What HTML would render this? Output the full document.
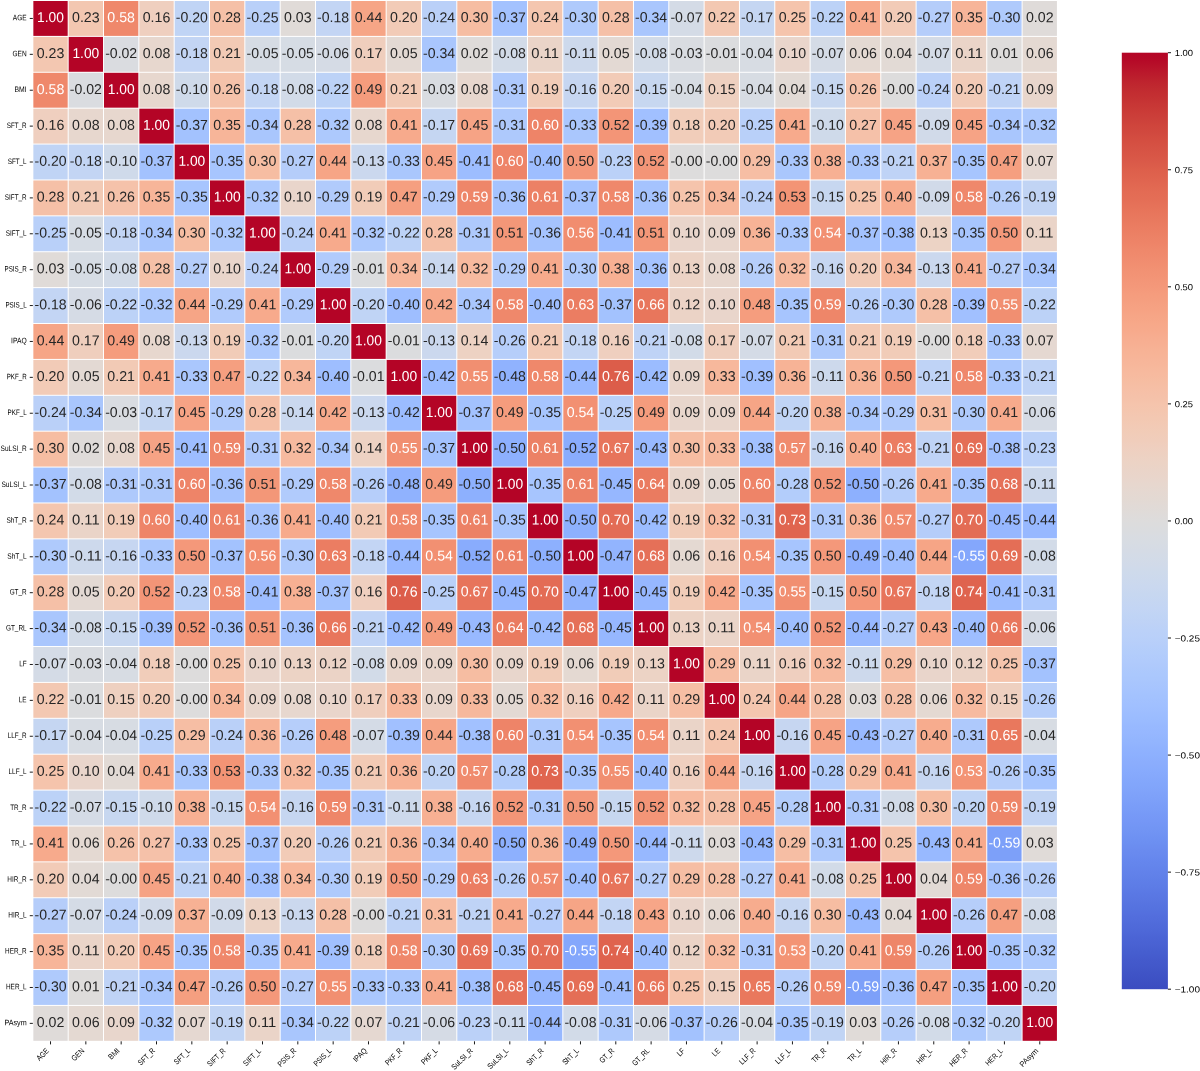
<!DOCTYPE html>
<html><head><meta charset="utf-8"><title>Correlation heatmap</title>
<style>html,body{margin:0;padding:0;background:#fff;}body{width:1200px;height:1071px;overflow:hidden;font-family:"Liberation Sans",sans-serif;}svg{display:block;}#wrap{will-change:transform;width:1200px;height:1071px;}</style>
</head><body><div id="wrap">
<svg width="1200" height="1071" viewBox="0 0 1200 1071">
<g shape-rendering="auto">
<rect x="33.35" y="1.00" width="34.33" height="34.89" fill="#b40426"/>
<rect x="68.68" y="1.00" width="34.33" height="34.89" fill="#f3c7b1"/>
<rect x="104.01" y="1.00" width="34.33" height="34.89" fill="#ef886b"/>
<rect x="139.34" y="1.00" width="34.33" height="34.89" fill="#efcfbf"/>
<rect x="174.67" y="1.00" width="34.33" height="34.89" fill="#c0d4f5"/>
<rect x="210.00" y="1.00" width="34.33" height="34.89" fill="#f5c0a7"/>
<rect x="245.33" y="1.00" width="34.33" height="34.89" fill="#b9d0f9"/>
<rect x="280.66" y="1.00" width="34.33" height="34.89" fill="#e0dbd8"/>
<rect x="315.99" y="1.00" width="34.33" height="34.89" fill="#c3d5f4"/>
<rect x="351.32" y="1.00" width="34.33" height="34.89" fill="#f6a586"/>
<rect x="386.65" y="1.00" width="34.33" height="34.89" fill="#f2cbb7"/>
<rect x="421.98" y="1.00" width="34.33" height="34.89" fill="#bad0f8"/>
<rect x="457.31" y="1.00" width="34.33" height="34.89" fill="#f6bda2"/>
<rect x="492.64" y="1.00" width="34.33" height="34.89" fill="#a3c2fe"/>
<rect x="527.97" y="1.00" width="34.33" height="34.89" fill="#f4c6af"/>
<rect x="563.30" y="1.00" width="34.33" height="34.89" fill="#afcafc"/>
<rect x="598.63" y="1.00" width="34.33" height="34.89" fill="#f5c0a7"/>
<rect x="633.96" y="1.00" width="34.33" height="34.89" fill="#a9c6fd"/>
<rect x="669.29" y="1.00" width="34.33" height="34.89" fill="#d4dbe6"/>
<rect x="704.62" y="1.00" width="34.33" height="34.89" fill="#f3c8b2"/>
<rect x="739.95" y="1.00" width="34.33" height="34.89" fill="#c5d6f2"/>
<rect x="775.28" y="1.00" width="34.33" height="34.89" fill="#f5c4ac"/>
<rect x="810.61" y="1.00" width="34.33" height="34.89" fill="#bcd2f7"/>
<rect x="845.94" y="1.00" width="34.33" height="34.89" fill="#f7aa8c"/>
<rect x="881.27" y="1.00" width="34.33" height="34.89" fill="#f2cbb7"/>
<rect x="916.60" y="1.00" width="34.33" height="34.89" fill="#b5cdfa"/>
<rect x="951.93" y="1.00" width="34.33" height="34.89" fill="#f7b599"/>
<rect x="987.26" y="1.00" width="34.33" height="34.89" fill="#afcafc"/>
<rect x="1022.59" y="1.00" width="34.33" height="34.89" fill="#dfdbd9"/>
<rect x="33.35" y="36.89" width="34.33" height="34.89" fill="#f3c7b1"/>
<rect x="68.68" y="36.89" width="34.33" height="34.89" fill="#b40426"/>
<rect x="104.01" y="36.89" width="34.33" height="34.89" fill="#dadce0"/>
<rect x="139.34" y="36.89" width="34.33" height="34.89" fill="#e7d7ce"/>
<rect x="174.67" y="36.89" width="34.33" height="34.89" fill="#c3d5f4"/>
<rect x="210.00" y="36.89" width="34.33" height="34.89" fill="#f2cab5"/>
<rect x="245.33" y="36.89" width="34.33" height="34.89" fill="#d6dce4"/>
<rect x="280.66" y="36.89" width="34.33" height="34.89" fill="#d6dce4"/>
<rect x="315.99" y="36.89" width="34.33" height="34.89" fill="#d5dbe5"/>
<rect x="351.32" y="36.89" width="34.33" height="34.89" fill="#efcebd"/>
<rect x="386.65" y="36.89" width="34.33" height="34.89" fill="#e3d9d3"/>
<rect x="421.98" y="36.89" width="34.33" height="34.89" fill="#a9c6fd"/>
<rect x="457.31" y="36.89" width="34.33" height="34.89" fill="#dfdbd9"/>
<rect x="492.64" y="36.89" width="34.33" height="34.89" fill="#d2dbe8"/>
<rect x="527.97" y="36.89" width="34.33" height="34.89" fill="#ead4c8"/>
<rect x="563.30" y="36.89" width="34.33" height="34.89" fill="#cdd9ec"/>
<rect x="598.63" y="36.89" width="34.33" height="34.89" fill="#e3d9d3"/>
<rect x="633.96" y="36.89" width="34.33" height="34.89" fill="#d2dbe8"/>
<rect x="669.29" y="36.89" width="34.33" height="34.89" fill="#d9dce1"/>
<rect x="704.62" y="36.89" width="34.33" height="34.89" fill="#dbdcde"/>
<rect x="739.95" y="36.89" width="34.33" height="34.89" fill="#d7dce3"/>
<rect x="775.28" y="36.89" width="34.33" height="34.89" fill="#e9d5cb"/>
<rect x="810.61" y="36.89" width="34.33" height="34.89" fill="#d4dbe6"/>
<rect x="845.94" y="36.89" width="34.33" height="34.89" fill="#e4d9d2"/>
<rect x="881.27" y="36.89" width="34.33" height="34.89" fill="#e2dad5"/>
<rect x="916.60" y="36.89" width="34.33" height="34.89" fill="#d4dbe6"/>
<rect x="951.93" y="36.89" width="34.33" height="34.89" fill="#ead4c8"/>
<rect x="987.26" y="36.89" width="34.33" height="34.89" fill="#dedcdb"/>
<rect x="1022.59" y="36.89" width="34.33" height="34.89" fill="#e4d9d2"/>
<rect x="33.35" y="72.78" width="34.33" height="34.89" fill="#ef886b"/>
<rect x="68.68" y="72.78" width="34.33" height="34.89" fill="#dadce0"/>
<rect x="104.01" y="72.78" width="34.33" height="34.89" fill="#b40426"/>
<rect x="139.34" y="72.78" width="34.33" height="34.89" fill="#e7d7ce"/>
<rect x="174.67" y="72.78" width="34.33" height="34.89" fill="#cfdaea"/>
<rect x="210.00" y="72.78" width="34.33" height="34.89" fill="#f5c2aa"/>
<rect x="245.33" y="72.78" width="34.33" height="34.89" fill="#c3d5f4"/>
<rect x="280.66" y="72.78" width="34.33" height="34.89" fill="#d2dbe8"/>
<rect x="315.99" y="72.78" width="34.33" height="34.89" fill="#bcd2f7"/>
<rect x="351.32" y="72.78" width="34.33" height="34.89" fill="#f59c7d"/>
<rect x="386.65" y="72.78" width="34.33" height="34.89" fill="#f2cab5"/>
<rect x="421.98" y="72.78" width="34.33" height="34.89" fill="#d9dce1"/>
<rect x="457.31" y="72.78" width="34.33" height="34.89" fill="#e7d7ce"/>
<rect x="492.64" y="72.78" width="34.33" height="34.89" fill="#aec9fc"/>
<rect x="527.97" y="72.78" width="34.33" height="34.89" fill="#f1ccb8"/>
<rect x="563.30" y="72.78" width="34.33" height="34.89" fill="#c6d6f1"/>
<rect x="598.63" y="72.78" width="34.33" height="34.89" fill="#f2cbb7"/>
<rect x="633.96" y="72.78" width="34.33" height="34.89" fill="#c7d7f0"/>
<rect x="669.29" y="72.78" width="34.33" height="34.89" fill="#d7dce3"/>
<rect x="704.62" y="72.78" width="34.33" height="34.89" fill="#eed0c0"/>
<rect x="739.95" y="72.78" width="34.33" height="34.89" fill="#d7dce3"/>
<rect x="775.28" y="72.78" width="34.33" height="34.89" fill="#e2dad5"/>
<rect x="810.61" y="72.78" width="34.33" height="34.89" fill="#c7d7f0"/>
<rect x="845.94" y="72.78" width="34.33" height="34.89" fill="#f5c2aa"/>
<rect x="881.27" y="72.78" width="34.33" height="34.89" fill="#dddcdc"/>
<rect x="916.60" y="72.78" width="34.33" height="34.89" fill="#bad0f8"/>
<rect x="951.93" y="72.78" width="34.33" height="34.89" fill="#f2cbb7"/>
<rect x="987.26" y="72.78" width="34.33" height="34.89" fill="#bfd3f6"/>
<rect x="1022.59" y="72.78" width="34.33" height="34.89" fill="#e8d6cc"/>
<rect x="33.35" y="108.67" width="34.33" height="34.89" fill="#efcfbf"/>
<rect x="68.68" y="108.67" width="34.33" height="34.89" fill="#e7d7ce"/>
<rect x="104.01" y="108.67" width="34.33" height="34.89" fill="#e7d7ce"/>
<rect x="139.34" y="108.67" width="34.33" height="34.89" fill="#b40426"/>
<rect x="174.67" y="108.67" width="34.33" height="34.89" fill="#a3c2fe"/>
<rect x="210.00" y="108.67" width="34.33" height="34.89" fill="#f7b599"/>
<rect x="245.33" y="108.67" width="34.33" height="34.89" fill="#a9c6fd"/>
<rect x="280.66" y="108.67" width="34.33" height="34.89" fill="#f5c0a7"/>
<rect x="315.99" y="108.67" width="34.33" height="34.89" fill="#adc9fd"/>
<rect x="351.32" y="108.67" width="34.33" height="34.89" fill="#e7d7ce"/>
<rect x="386.65" y="108.67" width="34.33" height="34.89" fill="#f7aa8c"/>
<rect x="421.98" y="108.67" width="34.33" height="34.89" fill="#c5d6f2"/>
<rect x="457.31" y="108.67" width="34.33" height="34.89" fill="#f6a385"/>
<rect x="492.64" y="108.67" width="34.33" height="34.89" fill="#aec9fc"/>
<rect x="527.97" y="108.67" width="34.33" height="34.89" fill="#ee8468"/>
<rect x="563.30" y="108.67" width="34.33" height="34.89" fill="#aac7fd"/>
<rect x="598.63" y="108.67" width="34.33" height="34.89" fill="#f39577"/>
<rect x="633.96" y="108.67" width="34.33" height="34.89" fill="#a1c0ff"/>
<rect x="669.29" y="108.67" width="34.33" height="34.89" fill="#f1cdba"/>
<rect x="704.62" y="108.67" width="34.33" height="34.89" fill="#f2cbb7"/>
<rect x="739.95" y="108.67" width="34.33" height="34.89" fill="#b9d0f9"/>
<rect x="775.28" y="108.67" width="34.33" height="34.89" fill="#f7aa8c"/>
<rect x="810.61" y="108.67" width="34.33" height="34.89" fill="#cfdaea"/>
<rect x="845.94" y="108.67" width="34.33" height="34.89" fill="#f5c1a9"/>
<rect x="881.27" y="108.67" width="34.33" height="34.89" fill="#f6a385"/>
<rect x="916.60" y="108.67" width="34.33" height="34.89" fill="#d1dae9"/>
<rect x="951.93" y="108.67" width="34.33" height="34.89" fill="#f6a385"/>
<rect x="987.26" y="108.67" width="34.33" height="34.89" fill="#a9c6fd"/>
<rect x="1022.59" y="108.67" width="34.33" height="34.89" fill="#adc9fd"/>
<rect x="33.35" y="144.56" width="34.33" height="34.89" fill="#c0d4f5"/>
<rect x="68.68" y="144.56" width="34.33" height="34.89" fill="#c3d5f4"/>
<rect x="104.01" y="144.56" width="34.33" height="34.89" fill="#cfdaea"/>
<rect x="139.34" y="144.56" width="34.33" height="34.89" fill="#a3c2fe"/>
<rect x="174.67" y="144.56" width="34.33" height="34.89" fill="#b40426"/>
<rect x="210.00" y="144.56" width="34.33" height="34.89" fill="#a7c5fe"/>
<rect x="245.33" y="144.56" width="34.33" height="34.89" fill="#f6bda2"/>
<rect x="280.66" y="144.56" width="34.33" height="34.89" fill="#b5cdfa"/>
<rect x="315.99" y="144.56" width="34.33" height="34.89" fill="#f6a586"/>
<rect x="351.32" y="144.56" width="34.33" height="34.89" fill="#cbd8ee"/>
<rect x="386.65" y="144.56" width="34.33" height="34.89" fill="#aac7fd"/>
<rect x="421.98" y="144.56" width="34.33" height="34.89" fill="#f6a385"/>
<rect x="457.31" y="144.56" width="34.33" height="34.89" fill="#9dbdff"/>
<rect x="492.64" y="144.56" width="34.33" height="34.89" fill="#ee8468"/>
<rect x="527.97" y="144.56" width="34.33" height="34.89" fill="#9ebeff"/>
<rect x="563.30" y="144.56" width="34.33" height="34.89" fill="#f4987a"/>
<rect x="598.63" y="144.56" width="34.33" height="34.89" fill="#bbd1f8"/>
<rect x="633.96" y="144.56" width="34.33" height="34.89" fill="#f39577"/>
<rect x="669.29" y="144.56" width="34.33" height="34.89" fill="#dddcdc"/>
<rect x="704.62" y="144.56" width="34.33" height="34.89" fill="#dddcdc"/>
<rect x="739.95" y="144.56" width="34.33" height="34.89" fill="#f6bea4"/>
<rect x="775.28" y="144.56" width="34.33" height="34.89" fill="#aac7fd"/>
<rect x="810.61" y="144.56" width="34.33" height="34.89" fill="#f7b093"/>
<rect x="845.94" y="144.56" width="34.33" height="34.89" fill="#aac7fd"/>
<rect x="881.27" y="144.56" width="34.33" height="34.89" fill="#bfd3f6"/>
<rect x="916.60" y="144.56" width="34.33" height="34.89" fill="#f7b194"/>
<rect x="951.93" y="144.56" width="34.33" height="34.89" fill="#a7c5fe"/>
<rect x="987.26" y="144.56" width="34.33" height="34.89" fill="#f59f80"/>
<rect x="1022.59" y="144.56" width="34.33" height="34.89" fill="#e5d8d1"/>
<rect x="33.35" y="180.45" width="34.33" height="34.89" fill="#f5c0a7"/>
<rect x="68.68" y="180.45" width="34.33" height="34.89" fill="#f2cab5"/>
<rect x="104.01" y="180.45" width="34.33" height="34.89" fill="#f5c2aa"/>
<rect x="139.34" y="180.45" width="34.33" height="34.89" fill="#f7b599"/>
<rect x="174.67" y="180.45" width="34.33" height="34.89" fill="#a7c5fe"/>
<rect x="210.00" y="180.45" width="34.33" height="34.89" fill="#b40426"/>
<rect x="245.33" y="180.45" width="34.33" height="34.89" fill="#adc9fd"/>
<rect x="280.66" y="180.45" width="34.33" height="34.89" fill="#e9d5cb"/>
<rect x="315.99" y="180.45" width="34.33" height="34.89" fill="#b1cbfc"/>
<rect x="351.32" y="180.45" width="34.33" height="34.89" fill="#f1ccb8"/>
<rect x="386.65" y="180.45" width="34.33" height="34.89" fill="#f59f80"/>
<rect x="421.98" y="180.45" width="34.33" height="34.89" fill="#b1cbfc"/>
<rect x="457.31" y="180.45" width="34.33" height="34.89" fill="#ee8669"/>
<rect x="492.64" y="180.45" width="34.33" height="34.89" fill="#a5c3fe"/>
<rect x="527.97" y="180.45" width="34.33" height="34.89" fill="#ec8165"/>
<rect x="563.30" y="180.45" width="34.33" height="34.89" fill="#a3c2fe"/>
<rect x="598.63" y="180.45" width="34.33" height="34.89" fill="#ef886b"/>
<rect x="633.96" y="180.45" width="34.33" height="34.89" fill="#a5c3fe"/>
<rect x="669.29" y="180.45" width="34.33" height="34.89" fill="#f5c4ac"/>
<rect x="704.62" y="180.45" width="34.33" height="34.89" fill="#f7b79b"/>
<rect x="739.95" y="180.45" width="34.33" height="34.89" fill="#bad0f8"/>
<rect x="775.28" y="180.45" width="34.33" height="34.89" fill="#f39475"/>
<rect x="810.61" y="180.45" width="34.33" height="34.89" fill="#c7d7f0"/>
<rect x="845.94" y="180.45" width="34.33" height="34.89" fill="#f5c4ac"/>
<rect x="881.27" y="180.45" width="34.33" height="34.89" fill="#f7ac8e"/>
<rect x="916.60" y="180.45" width="34.33" height="34.89" fill="#d1dae9"/>
<rect x="951.93" y="180.45" width="34.33" height="34.89" fill="#ef886b"/>
<rect x="987.26" y="180.45" width="34.33" height="34.89" fill="#b6cefa"/>
<rect x="1022.59" y="180.45" width="34.33" height="34.89" fill="#c1d4f4"/>
<rect x="33.35" y="216.34" width="34.33" height="34.89" fill="#b9d0f9"/>
<rect x="68.68" y="216.34" width="34.33" height="34.89" fill="#d6dce4"/>
<rect x="104.01" y="216.34" width="34.33" height="34.89" fill="#c3d5f4"/>
<rect x="139.34" y="216.34" width="34.33" height="34.89" fill="#a9c6fd"/>
<rect x="174.67" y="216.34" width="34.33" height="34.89" fill="#f6bda2"/>
<rect x="210.00" y="216.34" width="34.33" height="34.89" fill="#adc9fd"/>
<rect x="245.33" y="216.34" width="34.33" height="34.89" fill="#b40426"/>
<rect x="280.66" y="216.34" width="34.33" height="34.89" fill="#bad0f8"/>
<rect x="315.99" y="216.34" width="34.33" height="34.89" fill="#f7aa8c"/>
<rect x="351.32" y="216.34" width="34.33" height="34.89" fill="#adc9fd"/>
<rect x="386.65" y="216.34" width="34.33" height="34.89" fill="#bcd2f7"/>
<rect x="421.98" y="216.34" width="34.33" height="34.89" fill="#f5c0a7"/>
<rect x="457.31" y="216.34" width="34.33" height="34.89" fill="#aec9fc"/>
<rect x="492.64" y="216.34" width="34.33" height="34.89" fill="#f39778"/>
<rect x="527.97" y="216.34" width="34.33" height="34.89" fill="#a5c3fe"/>
<rect x="563.30" y="216.34" width="34.33" height="34.89" fill="#f18d6f"/>
<rect x="598.63" y="216.34" width="34.33" height="34.89" fill="#9dbdff"/>
<rect x="633.96" y="216.34" width="34.33" height="34.89" fill="#f39778"/>
<rect x="669.29" y="216.34" width="34.33" height="34.89" fill="#e9d5cb"/>
<rect x="704.62" y="216.34" width="34.33" height="34.89" fill="#e8d6cc"/>
<rect x="739.95" y="216.34" width="34.33" height="34.89" fill="#f7b396"/>
<rect x="775.28" y="216.34" width="34.33" height="34.89" fill="#aac7fd"/>
<rect x="810.61" y="216.34" width="34.33" height="34.89" fill="#f29072"/>
<rect x="845.94" y="216.34" width="34.33" height="34.89" fill="#a3c2fe"/>
<rect x="881.27" y="216.34" width="34.33" height="34.89" fill="#a2c1ff"/>
<rect x="916.60" y="216.34" width="34.33" height="34.89" fill="#ecd3c5"/>
<rect x="951.93" y="216.34" width="34.33" height="34.89" fill="#a7c5fe"/>
<rect x="987.26" y="216.34" width="34.33" height="34.89" fill="#f4987a"/>
<rect x="1022.59" y="216.34" width="34.33" height="34.89" fill="#ead4c8"/>
<rect x="33.35" y="252.23" width="34.33" height="34.89" fill="#e0dbd8"/>
<rect x="68.68" y="252.23" width="34.33" height="34.89" fill="#d6dce4"/>
<rect x="104.01" y="252.23" width="34.33" height="34.89" fill="#d2dbe8"/>
<rect x="139.34" y="252.23" width="34.33" height="34.89" fill="#f5c0a7"/>
<rect x="174.67" y="252.23" width="34.33" height="34.89" fill="#b5cdfa"/>
<rect x="210.00" y="252.23" width="34.33" height="34.89" fill="#e9d5cb"/>
<rect x="245.33" y="252.23" width="34.33" height="34.89" fill="#bad0f8"/>
<rect x="280.66" y="252.23" width="34.33" height="34.89" fill="#b40426"/>
<rect x="315.99" y="252.23" width="34.33" height="34.89" fill="#b1cbfc"/>
<rect x="351.32" y="252.23" width="34.33" height="34.89" fill="#dbdcde"/>
<rect x="386.65" y="252.23" width="34.33" height="34.89" fill="#f7b79b"/>
<rect x="421.98" y="252.23" width="34.33" height="34.89" fill="#cad8ef"/>
<rect x="457.31" y="252.23" width="34.33" height="34.89" fill="#f7ba9f"/>
<rect x="492.64" y="252.23" width="34.33" height="34.89" fill="#b1cbfc"/>
<rect x="527.97" y="252.23" width="34.33" height="34.89" fill="#f7aa8c"/>
<rect x="563.30" y="252.23" width="34.33" height="34.89" fill="#afcafc"/>
<rect x="598.63" y="252.23" width="34.33" height="34.89" fill="#f7b093"/>
<rect x="633.96" y="252.23" width="34.33" height="34.89" fill="#a5c3fe"/>
<rect x="669.29" y="252.23" width="34.33" height="34.89" fill="#ecd3c5"/>
<rect x="704.62" y="252.23" width="34.33" height="34.89" fill="#e7d7ce"/>
<rect x="739.95" y="252.23" width="34.33" height="34.89" fill="#b6cefa"/>
<rect x="775.28" y="252.23" width="34.33" height="34.89" fill="#f7ba9f"/>
<rect x="810.61" y="252.23" width="34.33" height="34.89" fill="#c6d6f1"/>
<rect x="845.94" y="252.23" width="34.33" height="34.89" fill="#f2cbb7"/>
<rect x="881.27" y="252.23" width="34.33" height="34.89" fill="#f7b79b"/>
<rect x="916.60" y="252.23" width="34.33" height="34.89" fill="#cbd8ee"/>
<rect x="951.93" y="252.23" width="34.33" height="34.89" fill="#f7aa8c"/>
<rect x="987.26" y="252.23" width="34.33" height="34.89" fill="#b5cdfa"/>
<rect x="1022.59" y="252.23" width="34.33" height="34.89" fill="#a9c6fd"/>
<rect x="33.35" y="288.12" width="34.33" height="34.89" fill="#c3d5f4"/>
<rect x="68.68" y="288.12" width="34.33" height="34.89" fill="#d5dbe5"/>
<rect x="104.01" y="288.12" width="34.33" height="34.89" fill="#bcd2f7"/>
<rect x="139.34" y="288.12" width="34.33" height="34.89" fill="#adc9fd"/>
<rect x="174.67" y="288.12" width="34.33" height="34.89" fill="#f6a586"/>
<rect x="210.00" y="288.12" width="34.33" height="34.89" fill="#b1cbfc"/>
<rect x="245.33" y="288.12" width="34.33" height="34.89" fill="#f7aa8c"/>
<rect x="280.66" y="288.12" width="34.33" height="34.89" fill="#b1cbfc"/>
<rect x="315.99" y="288.12" width="34.33" height="34.89" fill="#b40426"/>
<rect x="351.32" y="288.12" width="34.33" height="34.89" fill="#c0d4f5"/>
<rect x="386.65" y="288.12" width="34.33" height="34.89" fill="#9ebeff"/>
<rect x="421.98" y="288.12" width="34.33" height="34.89" fill="#f7a98b"/>
<rect x="457.31" y="288.12" width="34.33" height="34.89" fill="#a9c6fd"/>
<rect x="492.64" y="288.12" width="34.33" height="34.89" fill="#ef886b"/>
<rect x="527.97" y="288.12" width="34.33" height="34.89" fill="#9ebeff"/>
<rect x="563.30" y="288.12" width="34.33" height="34.89" fill="#eb7d62"/>
<rect x="598.63" y="288.12" width="34.33" height="34.89" fill="#a3c2fe"/>
<rect x="633.96" y="288.12" width="34.33" height="34.89" fill="#e8765c"/>
<rect x="669.29" y="288.12" width="34.33" height="34.89" fill="#ebd3c6"/>
<rect x="704.62" y="288.12" width="34.33" height="34.89" fill="#e9d5cb"/>
<rect x="739.95" y="288.12" width="34.33" height="34.89" fill="#f59d7e"/>
<rect x="775.28" y="288.12" width="34.33" height="34.89" fill="#a7c5fe"/>
<rect x="810.61" y="288.12" width="34.33" height="34.89" fill="#ee8669"/>
<rect x="845.94" y="288.12" width="34.33" height="34.89" fill="#b6cefa"/>
<rect x="881.27" y="288.12" width="34.33" height="34.89" fill="#afcafc"/>
<rect x="916.60" y="288.12" width="34.33" height="34.89" fill="#f5c0a7"/>
<rect x="951.93" y="288.12" width="34.33" height="34.89" fill="#a1c0ff"/>
<rect x="987.26" y="288.12" width="34.33" height="34.89" fill="#f18f71"/>
<rect x="1022.59" y="288.12" width="34.33" height="34.89" fill="#bcd2f7"/>
<rect x="33.35" y="324.01" width="34.33" height="34.89" fill="#f6a586"/>
<rect x="68.68" y="324.01" width="34.33" height="34.89" fill="#efcebd"/>
<rect x="104.01" y="324.01" width="34.33" height="34.89" fill="#f59c7d"/>
<rect x="139.34" y="324.01" width="34.33" height="34.89" fill="#e7d7ce"/>
<rect x="174.67" y="324.01" width="34.33" height="34.89" fill="#cbd8ee"/>
<rect x="210.00" y="324.01" width="34.33" height="34.89" fill="#f1ccb8"/>
<rect x="245.33" y="324.01" width="34.33" height="34.89" fill="#adc9fd"/>
<rect x="280.66" y="324.01" width="34.33" height="34.89" fill="#dbdcde"/>
<rect x="315.99" y="324.01" width="34.33" height="34.89" fill="#c0d4f5"/>
<rect x="351.32" y="324.01" width="34.33" height="34.89" fill="#b40426"/>
<rect x="386.65" y="324.01" width="34.33" height="34.89" fill="#dbdcde"/>
<rect x="421.98" y="324.01" width="34.33" height="34.89" fill="#cbd8ee"/>
<rect x="457.31" y="324.01" width="34.33" height="34.89" fill="#edd2c3"/>
<rect x="492.64" y="324.01" width="34.33" height="34.89" fill="#b6cefa"/>
<rect x="527.97" y="324.01" width="34.33" height="34.89" fill="#f2cab5"/>
<rect x="563.30" y="324.01" width="34.33" height="34.89" fill="#c3d5f4"/>
<rect x="598.63" y="324.01" width="34.33" height="34.89" fill="#efcfbf"/>
<rect x="633.96" y="324.01" width="34.33" height="34.89" fill="#bfd3f6"/>
<rect x="669.29" y="324.01" width="34.33" height="34.89" fill="#d2dbe8"/>
<rect x="704.62" y="324.01" width="34.33" height="34.89" fill="#efcebd"/>
<rect x="739.95" y="324.01" width="34.33" height="34.89" fill="#d4dbe6"/>
<rect x="775.28" y="324.01" width="34.33" height="34.89" fill="#f2cab5"/>
<rect x="810.61" y="324.01" width="34.33" height="34.89" fill="#aec9fc"/>
<rect x="845.94" y="324.01" width="34.33" height="34.89" fill="#f2cab5"/>
<rect x="881.27" y="324.01" width="34.33" height="34.89" fill="#f1ccb8"/>
<rect x="916.60" y="324.01" width="34.33" height="34.89" fill="#dddcdc"/>
<rect x="951.93" y="324.01" width="34.33" height="34.89" fill="#f1cdba"/>
<rect x="987.26" y="324.01" width="34.33" height="34.89" fill="#aac7fd"/>
<rect x="1022.59" y="324.01" width="34.33" height="34.89" fill="#e5d8d1"/>
<rect x="33.35" y="359.90" width="34.33" height="34.89" fill="#f2cbb7"/>
<rect x="68.68" y="359.90" width="34.33" height="34.89" fill="#e3d9d3"/>
<rect x="104.01" y="359.90" width="34.33" height="34.89" fill="#f2cab5"/>
<rect x="139.34" y="359.90" width="34.33" height="34.89" fill="#f7aa8c"/>
<rect x="174.67" y="359.90" width="34.33" height="34.89" fill="#aac7fd"/>
<rect x="210.00" y="359.90" width="34.33" height="34.89" fill="#f59f80"/>
<rect x="245.33" y="359.90" width="34.33" height="34.89" fill="#bcd2f7"/>
<rect x="280.66" y="359.90" width="34.33" height="34.89" fill="#f7b79b"/>
<rect x="315.99" y="359.90" width="34.33" height="34.89" fill="#9ebeff"/>
<rect x="351.32" y="359.90" width="34.33" height="34.89" fill="#dbdcde"/>
<rect x="386.65" y="359.90" width="34.33" height="34.89" fill="#b40426"/>
<rect x="421.98" y="359.90" width="34.33" height="34.89" fill="#9bbcff"/>
<rect x="457.31" y="359.90" width="34.33" height="34.89" fill="#f18f71"/>
<rect x="492.64" y="359.90" width="34.33" height="34.89" fill="#90b2fe"/>
<rect x="527.97" y="359.90" width="34.33" height="34.89" fill="#ef886b"/>
<rect x="563.30" y="359.90" width="34.33" height="34.89" fill="#97b8ff"/>
<rect x="598.63" y="359.90" width="34.33" height="34.89" fill="#dc5d4a"/>
<rect x="633.96" y="359.90" width="34.33" height="34.89" fill="#9bbcff"/>
<rect x="669.29" y="359.90" width="34.33" height="34.89" fill="#e8d6cc"/>
<rect x="704.62" y="359.90" width="34.33" height="34.89" fill="#f7b89c"/>
<rect x="739.95" y="359.90" width="34.33" height="34.89" fill="#a1c0ff"/>
<rect x="775.28" y="359.90" width="34.33" height="34.89" fill="#f7b396"/>
<rect x="810.61" y="359.90" width="34.33" height="34.89" fill="#cdd9ec"/>
<rect x="845.94" y="359.90" width="34.33" height="34.89" fill="#f7b396"/>
<rect x="881.27" y="359.90" width="34.33" height="34.89" fill="#f4987a"/>
<rect x="916.60" y="359.90" width="34.33" height="34.89" fill="#bfd3f6"/>
<rect x="951.93" y="359.90" width="34.33" height="34.89" fill="#ef886b"/>
<rect x="987.26" y="359.90" width="34.33" height="34.89" fill="#aac7fd"/>
<rect x="1022.59" y="359.90" width="34.33" height="34.89" fill="#bfd3f6"/>
<rect x="33.35" y="395.79" width="34.33" height="34.89" fill="#bad0f8"/>
<rect x="68.68" y="395.79" width="34.33" height="34.89" fill="#a9c6fd"/>
<rect x="104.01" y="395.79" width="34.33" height="34.89" fill="#d9dce1"/>
<rect x="139.34" y="395.79" width="34.33" height="34.89" fill="#c5d6f2"/>
<rect x="174.67" y="395.79" width="34.33" height="34.89" fill="#f6a385"/>
<rect x="210.00" y="395.79" width="34.33" height="34.89" fill="#b1cbfc"/>
<rect x="245.33" y="395.79" width="34.33" height="34.89" fill="#f5c0a7"/>
<rect x="280.66" y="395.79" width="34.33" height="34.89" fill="#cad8ef"/>
<rect x="315.99" y="395.79" width="34.33" height="34.89" fill="#f7a98b"/>
<rect x="351.32" y="395.79" width="34.33" height="34.89" fill="#cbd8ee"/>
<rect x="386.65" y="395.79" width="34.33" height="34.89" fill="#9bbcff"/>
<rect x="421.98" y="395.79" width="34.33" height="34.89" fill="#b40426"/>
<rect x="457.31" y="395.79" width="34.33" height="34.89" fill="#a3c2fe"/>
<rect x="492.64" y="395.79" width="34.33" height="34.89" fill="#f59c7d"/>
<rect x="527.97" y="395.79" width="34.33" height="34.89" fill="#a7c5fe"/>
<rect x="563.30" y="395.79" width="34.33" height="34.89" fill="#f29072"/>
<rect x="598.63" y="395.79" width="34.33" height="34.89" fill="#b9d0f9"/>
<rect x="633.96" y="395.79" width="34.33" height="34.89" fill="#f59c7d"/>
<rect x="669.29" y="395.79" width="34.33" height="34.89" fill="#e8d6cc"/>
<rect x="704.62" y="395.79" width="34.33" height="34.89" fill="#e8d6cc"/>
<rect x="739.95" y="395.79" width="34.33" height="34.89" fill="#f6a586"/>
<rect x="775.28" y="395.79" width="34.33" height="34.89" fill="#c0d4f5"/>
<rect x="810.61" y="395.79" width="34.33" height="34.89" fill="#f7b093"/>
<rect x="845.94" y="395.79" width="34.33" height="34.89" fill="#a9c6fd"/>
<rect x="881.27" y="395.79" width="34.33" height="34.89" fill="#b1cbfc"/>
<rect x="916.60" y="395.79" width="34.33" height="34.89" fill="#f7bca1"/>
<rect x="951.93" y="395.79" width="34.33" height="34.89" fill="#afcafc"/>
<rect x="987.26" y="395.79" width="34.33" height="34.89" fill="#f7aa8c"/>
<rect x="1022.59" y="395.79" width="34.33" height="34.89" fill="#d5dbe5"/>
<rect x="33.35" y="431.68" width="34.33" height="34.89" fill="#f6bda2"/>
<rect x="68.68" y="431.68" width="34.33" height="34.89" fill="#dfdbd9"/>
<rect x="104.01" y="431.68" width="34.33" height="34.89" fill="#e7d7ce"/>
<rect x="139.34" y="431.68" width="34.33" height="34.89" fill="#f6a385"/>
<rect x="174.67" y="431.68" width="34.33" height="34.89" fill="#9dbdff"/>
<rect x="210.00" y="431.68" width="34.33" height="34.89" fill="#ee8669"/>
<rect x="245.33" y="431.68" width="34.33" height="34.89" fill="#aec9fc"/>
<rect x="280.66" y="431.68" width="34.33" height="34.89" fill="#f7ba9f"/>
<rect x="315.99" y="431.68" width="34.33" height="34.89" fill="#a9c6fd"/>
<rect x="351.32" y="431.68" width="34.33" height="34.89" fill="#edd2c3"/>
<rect x="386.65" y="431.68" width="34.33" height="34.89" fill="#f18f71"/>
<rect x="421.98" y="431.68" width="34.33" height="34.89" fill="#a3c2fe"/>
<rect x="457.31" y="431.68" width="34.33" height="34.89" fill="#b40426"/>
<rect x="492.64" y="431.68" width="34.33" height="34.89" fill="#8db0fe"/>
<rect x="527.97" y="431.68" width="34.33" height="34.89" fill="#ec8165"/>
<rect x="563.30" y="431.68" width="34.33" height="34.89" fill="#89acfd"/>
<rect x="598.63" y="431.68" width="34.33" height="34.89" fill="#e7745b"/>
<rect x="633.96" y="431.68" width="34.33" height="34.89" fill="#98b9ff"/>
<rect x="669.29" y="431.68" width="34.33" height="34.89" fill="#f6bda2"/>
<rect x="704.62" y="431.68" width="34.33" height="34.89" fill="#f7b89c"/>
<rect x="739.95" y="431.68" width="34.33" height="34.89" fill="#a2c1ff"/>
<rect x="775.28" y="431.68" width="34.33" height="34.89" fill="#f08b6e"/>
<rect x="810.61" y="431.68" width="34.33" height="34.89" fill="#c6d6f1"/>
<rect x="845.94" y="431.68" width="34.33" height="34.89" fill="#f7ac8e"/>
<rect x="881.27" y="431.68" width="34.33" height="34.89" fill="#eb7d62"/>
<rect x="916.60" y="431.68" width="34.33" height="34.89" fill="#bfd3f6"/>
<rect x="951.93" y="431.68" width="34.33" height="34.89" fill="#e46e56"/>
<rect x="987.26" y="431.68" width="34.33" height="34.89" fill="#a2c1ff"/>
<rect x="1022.59" y="431.68" width="34.33" height="34.89" fill="#bbd1f8"/>
<rect x="33.35" y="467.57" width="34.33" height="34.89" fill="#a3c2fe"/>
<rect x="68.68" y="467.57" width="34.33" height="34.89" fill="#d2dbe8"/>
<rect x="104.01" y="467.57" width="34.33" height="34.89" fill="#aec9fc"/>
<rect x="139.34" y="467.57" width="34.33" height="34.89" fill="#aec9fc"/>
<rect x="174.67" y="467.57" width="34.33" height="34.89" fill="#ee8468"/>
<rect x="210.00" y="467.57" width="34.33" height="34.89" fill="#a5c3fe"/>
<rect x="245.33" y="467.57" width="34.33" height="34.89" fill="#f39778"/>
<rect x="280.66" y="467.57" width="34.33" height="34.89" fill="#b1cbfc"/>
<rect x="315.99" y="467.57" width="34.33" height="34.89" fill="#ef886b"/>
<rect x="351.32" y="467.57" width="34.33" height="34.89" fill="#b6cefa"/>
<rect x="386.65" y="467.57" width="34.33" height="34.89" fill="#90b2fe"/>
<rect x="421.98" y="467.57" width="34.33" height="34.89" fill="#f59c7d"/>
<rect x="457.31" y="467.57" width="34.33" height="34.89" fill="#8db0fe"/>
<rect x="492.64" y="467.57" width="34.33" height="34.89" fill="#b40426"/>
<rect x="527.97" y="467.57" width="34.33" height="34.89" fill="#a7c5fe"/>
<rect x="563.30" y="467.57" width="34.33" height="34.89" fill="#ec8165"/>
<rect x="598.63" y="467.57" width="34.33" height="34.89" fill="#96b7ff"/>
<rect x="633.96" y="467.57" width="34.33" height="34.89" fill="#ea7b60"/>
<rect x="669.29" y="467.57" width="34.33" height="34.89" fill="#e8d6cc"/>
<rect x="704.62" y="467.57" width="34.33" height="34.89" fill="#e3d9d3"/>
<rect x="739.95" y="467.57" width="34.33" height="34.89" fill="#ee8468"/>
<rect x="775.28" y="467.57" width="34.33" height="34.89" fill="#b3cdfb"/>
<rect x="810.61" y="467.57" width="34.33" height="34.89" fill="#f39577"/>
<rect x="845.94" y="467.57" width="34.33" height="34.89" fill="#8db0fe"/>
<rect x="881.27" y="467.57" width="34.33" height="34.89" fill="#b6cefa"/>
<rect x="916.60" y="467.57" width="34.33" height="34.89" fill="#f7aa8c"/>
<rect x="951.93" y="467.57" width="34.33" height="34.89" fill="#a7c5fe"/>
<rect x="987.26" y="467.57" width="34.33" height="34.89" fill="#e57058"/>
<rect x="1022.59" y="467.57" width="34.33" height="34.89" fill="#cdd9ec"/>
<rect x="33.35" y="503.46" width="34.33" height="34.89" fill="#f4c6af"/>
<rect x="68.68" y="503.46" width="34.33" height="34.89" fill="#ead4c8"/>
<rect x="104.01" y="503.46" width="34.33" height="34.89" fill="#f1ccb8"/>
<rect x="139.34" y="503.46" width="34.33" height="34.89" fill="#ee8468"/>
<rect x="174.67" y="503.46" width="34.33" height="34.89" fill="#9ebeff"/>
<rect x="210.00" y="503.46" width="34.33" height="34.89" fill="#ec8165"/>
<rect x="245.33" y="503.46" width="34.33" height="34.89" fill="#a5c3fe"/>
<rect x="280.66" y="503.46" width="34.33" height="34.89" fill="#f7aa8c"/>
<rect x="315.99" y="503.46" width="34.33" height="34.89" fill="#9ebeff"/>
<rect x="351.32" y="503.46" width="34.33" height="34.89" fill="#f2cab5"/>
<rect x="386.65" y="503.46" width="34.33" height="34.89" fill="#ef886b"/>
<rect x="421.98" y="503.46" width="34.33" height="34.89" fill="#a7c5fe"/>
<rect x="457.31" y="503.46" width="34.33" height="34.89" fill="#ec8165"/>
<rect x="492.64" y="503.46" width="34.33" height="34.89" fill="#a7c5fe"/>
<rect x="527.97" y="503.46" width="34.33" height="34.89" fill="#b40426"/>
<rect x="563.30" y="503.46" width="34.33" height="34.89" fill="#8db0fe"/>
<rect x="598.63" y="503.46" width="34.33" height="34.89" fill="#e36c55"/>
<rect x="633.96" y="503.46" width="34.33" height="34.89" fill="#9bbcff"/>
<rect x="669.29" y="503.46" width="34.33" height="34.89" fill="#f1ccb8"/>
<rect x="704.62" y="503.46" width="34.33" height="34.89" fill="#f7ba9f"/>
<rect x="739.95" y="503.46" width="34.33" height="34.89" fill="#aec9fc"/>
<rect x="775.28" y="503.46" width="34.33" height="34.89" fill="#e0654f"/>
<rect x="810.61" y="503.46" width="34.33" height="34.89" fill="#aec9fc"/>
<rect x="845.94" y="503.46" width="34.33" height="34.89" fill="#f7b396"/>
<rect x="881.27" y="503.46" width="34.33" height="34.89" fill="#f08b6e"/>
<rect x="916.60" y="503.46" width="34.33" height="34.89" fill="#b5cdfa"/>
<rect x="951.93" y="503.46" width="34.33" height="34.89" fill="#e36c55"/>
<rect x="987.26" y="503.46" width="34.33" height="34.89" fill="#96b7ff"/>
<rect x="1022.59" y="503.46" width="34.33" height="34.89" fill="#97b8ff"/>
<rect x="33.35" y="539.35" width="34.33" height="34.89" fill="#afcafc"/>
<rect x="68.68" y="539.35" width="34.33" height="34.89" fill="#cdd9ec"/>
<rect x="104.01" y="539.35" width="34.33" height="34.89" fill="#c6d6f1"/>
<rect x="139.34" y="539.35" width="34.33" height="34.89" fill="#aac7fd"/>
<rect x="174.67" y="539.35" width="34.33" height="34.89" fill="#f4987a"/>
<rect x="210.00" y="539.35" width="34.33" height="34.89" fill="#a3c2fe"/>
<rect x="245.33" y="539.35" width="34.33" height="34.89" fill="#f18d6f"/>
<rect x="280.66" y="539.35" width="34.33" height="34.89" fill="#afcafc"/>
<rect x="315.99" y="539.35" width="34.33" height="34.89" fill="#eb7d62"/>
<rect x="351.32" y="539.35" width="34.33" height="34.89" fill="#c3d5f4"/>
<rect x="386.65" y="539.35" width="34.33" height="34.89" fill="#97b8ff"/>
<rect x="421.98" y="539.35" width="34.33" height="34.89" fill="#f29072"/>
<rect x="457.31" y="539.35" width="34.33" height="34.89" fill="#89acfd"/>
<rect x="492.64" y="539.35" width="34.33" height="34.89" fill="#ec8165"/>
<rect x="527.97" y="539.35" width="34.33" height="34.89" fill="#8db0fe"/>
<rect x="563.30" y="539.35" width="34.33" height="34.89" fill="#b40426"/>
<rect x="598.63" y="539.35" width="34.33" height="34.89" fill="#92b4fe"/>
<rect x="633.96" y="539.35" width="34.33" height="34.89" fill="#e57058"/>
<rect x="669.29" y="539.35" width="34.33" height="34.89" fill="#e4d9d2"/>
<rect x="704.62" y="539.35" width="34.33" height="34.89" fill="#efcfbf"/>
<rect x="739.95" y="539.35" width="34.33" height="34.89" fill="#f29072"/>
<rect x="775.28" y="539.35" width="34.33" height="34.89" fill="#a7c5fe"/>
<rect x="810.61" y="539.35" width="34.33" height="34.89" fill="#f4987a"/>
<rect x="845.94" y="539.35" width="34.33" height="34.89" fill="#8fb1fe"/>
<rect x="881.27" y="539.35" width="34.33" height="34.89" fill="#9ebeff"/>
<rect x="916.60" y="539.35" width="34.33" height="34.89" fill="#f6a586"/>
<rect x="951.93" y="539.35" width="34.33" height="34.89" fill="#84a7fc"/>
<rect x="987.26" y="539.35" width="34.33" height="34.89" fill="#e46e56"/>
<rect x="1022.59" y="539.35" width="34.33" height="34.89" fill="#d2dbe8"/>
<rect x="33.35" y="575.24" width="34.33" height="34.89" fill="#f5c0a7"/>
<rect x="68.68" y="575.24" width="34.33" height="34.89" fill="#e3d9d3"/>
<rect x="104.01" y="575.24" width="34.33" height="34.89" fill="#f2cbb7"/>
<rect x="139.34" y="575.24" width="34.33" height="34.89" fill="#f39577"/>
<rect x="174.67" y="575.24" width="34.33" height="34.89" fill="#bbd1f8"/>
<rect x="210.00" y="575.24" width="34.33" height="34.89" fill="#ef886b"/>
<rect x="245.33" y="575.24" width="34.33" height="34.89" fill="#9dbdff"/>
<rect x="280.66" y="575.24" width="34.33" height="34.89" fill="#f7b093"/>
<rect x="315.99" y="575.24" width="34.33" height="34.89" fill="#a3c2fe"/>
<rect x="351.32" y="575.24" width="34.33" height="34.89" fill="#efcfbf"/>
<rect x="386.65" y="575.24" width="34.33" height="34.89" fill="#dc5d4a"/>
<rect x="421.98" y="575.24" width="34.33" height="34.89" fill="#b9d0f9"/>
<rect x="457.31" y="575.24" width="34.33" height="34.89" fill="#e7745b"/>
<rect x="492.64" y="575.24" width="34.33" height="34.89" fill="#96b7ff"/>
<rect x="527.97" y="575.24" width="34.33" height="34.89" fill="#e36c55"/>
<rect x="563.30" y="575.24" width="34.33" height="34.89" fill="#92b4fe"/>
<rect x="598.63" y="575.24" width="34.33" height="34.89" fill="#b40426"/>
<rect x="633.96" y="575.24" width="34.33" height="34.89" fill="#96b7ff"/>
<rect x="669.29" y="575.24" width="34.33" height="34.89" fill="#f1ccb8"/>
<rect x="704.62" y="575.24" width="34.33" height="34.89" fill="#f7a98b"/>
<rect x="739.95" y="575.24" width="34.33" height="34.89" fill="#a7c5fe"/>
<rect x="775.28" y="575.24" width="34.33" height="34.89" fill="#f18f71"/>
<rect x="810.61" y="575.24" width="34.33" height="34.89" fill="#c7d7f0"/>
<rect x="845.94" y="575.24" width="34.33" height="34.89" fill="#f4987a"/>
<rect x="881.27" y="575.24" width="34.33" height="34.89" fill="#e7745b"/>
<rect x="916.60" y="575.24" width="34.33" height="34.89" fill="#c3d5f4"/>
<rect x="951.93" y="575.24" width="34.33" height="34.89" fill="#df634e"/>
<rect x="987.26" y="575.24" width="34.33" height="34.89" fill="#9dbdff"/>
<rect x="1022.59" y="575.24" width="34.33" height="34.89" fill="#aec9fc"/>
<rect x="33.35" y="611.13" width="34.33" height="34.89" fill="#a9c6fd"/>
<rect x="68.68" y="611.13" width="34.33" height="34.89" fill="#d2dbe8"/>
<rect x="104.01" y="611.13" width="34.33" height="34.89" fill="#c7d7f0"/>
<rect x="139.34" y="611.13" width="34.33" height="34.89" fill="#a1c0ff"/>
<rect x="174.67" y="611.13" width="34.33" height="34.89" fill="#f39577"/>
<rect x="210.00" y="611.13" width="34.33" height="34.89" fill="#a5c3fe"/>
<rect x="245.33" y="611.13" width="34.33" height="34.89" fill="#f39778"/>
<rect x="280.66" y="611.13" width="34.33" height="34.89" fill="#a5c3fe"/>
<rect x="315.99" y="611.13" width="34.33" height="34.89" fill="#e8765c"/>
<rect x="351.32" y="611.13" width="34.33" height="34.89" fill="#bfd3f6"/>
<rect x="386.65" y="611.13" width="34.33" height="34.89" fill="#9bbcff"/>
<rect x="421.98" y="611.13" width="34.33" height="34.89" fill="#f59c7d"/>
<rect x="457.31" y="611.13" width="34.33" height="34.89" fill="#98b9ff"/>
<rect x="492.64" y="611.13" width="34.33" height="34.89" fill="#ea7b60"/>
<rect x="527.97" y="611.13" width="34.33" height="34.89" fill="#9bbcff"/>
<rect x="563.30" y="611.13" width="34.33" height="34.89" fill="#e57058"/>
<rect x="598.63" y="611.13" width="34.33" height="34.89" fill="#96b7ff"/>
<rect x="633.96" y="611.13" width="34.33" height="34.89" fill="#b40426"/>
<rect x="669.29" y="611.13" width="34.33" height="34.89" fill="#ecd3c5"/>
<rect x="704.62" y="611.13" width="34.33" height="34.89" fill="#ead4c8"/>
<rect x="739.95" y="611.13" width="34.33" height="34.89" fill="#f29072"/>
<rect x="775.28" y="611.13" width="34.33" height="34.89" fill="#9ebeff"/>
<rect x="810.61" y="611.13" width="34.33" height="34.89" fill="#f39577"/>
<rect x="845.94" y="611.13" width="34.33" height="34.89" fill="#97b8ff"/>
<rect x="881.27" y="611.13" width="34.33" height="34.89" fill="#b5cdfa"/>
<rect x="916.60" y="611.13" width="34.33" height="34.89" fill="#f7a688"/>
<rect x="951.93" y="611.13" width="34.33" height="34.89" fill="#9ebeff"/>
<rect x="987.26" y="611.13" width="34.33" height="34.89" fill="#e8765c"/>
<rect x="1022.59" y="611.13" width="34.33" height="34.89" fill="#d5dbe5"/>
<rect x="33.35" y="647.02" width="34.33" height="34.89" fill="#d4dbe6"/>
<rect x="68.68" y="647.02" width="34.33" height="34.89" fill="#d9dce1"/>
<rect x="104.01" y="647.02" width="34.33" height="34.89" fill="#d7dce3"/>
<rect x="139.34" y="647.02" width="34.33" height="34.89" fill="#f1cdba"/>
<rect x="174.67" y="647.02" width="34.33" height="34.89" fill="#dddcdc"/>
<rect x="210.00" y="647.02" width="34.33" height="34.89" fill="#f5c4ac"/>
<rect x="245.33" y="647.02" width="34.33" height="34.89" fill="#e9d5cb"/>
<rect x="280.66" y="647.02" width="34.33" height="34.89" fill="#ecd3c5"/>
<rect x="315.99" y="647.02" width="34.33" height="34.89" fill="#ebd3c6"/>
<rect x="351.32" y="647.02" width="34.33" height="34.89" fill="#d2dbe8"/>
<rect x="386.65" y="647.02" width="34.33" height="34.89" fill="#e8d6cc"/>
<rect x="421.98" y="647.02" width="34.33" height="34.89" fill="#e8d6cc"/>
<rect x="457.31" y="647.02" width="34.33" height="34.89" fill="#f6bda2"/>
<rect x="492.64" y="647.02" width="34.33" height="34.89" fill="#e8d6cc"/>
<rect x="527.97" y="647.02" width="34.33" height="34.89" fill="#f1ccb8"/>
<rect x="563.30" y="647.02" width="34.33" height="34.89" fill="#e4d9d2"/>
<rect x="598.63" y="647.02" width="34.33" height="34.89" fill="#f1ccb8"/>
<rect x="633.96" y="647.02" width="34.33" height="34.89" fill="#ecd3c5"/>
<rect x="669.29" y="647.02" width="34.33" height="34.89" fill="#b40426"/>
<rect x="704.62" y="647.02" width="34.33" height="34.89" fill="#f6bea4"/>
<rect x="739.95" y="647.02" width="34.33" height="34.89" fill="#ead4c8"/>
<rect x="775.28" y="647.02" width="34.33" height="34.89" fill="#efcfbf"/>
<rect x="810.61" y="647.02" width="34.33" height="34.89" fill="#f7ba9f"/>
<rect x="845.94" y="647.02" width="34.33" height="34.89" fill="#cdd9ec"/>
<rect x="881.27" y="647.02" width="34.33" height="34.89" fill="#f6bea4"/>
<rect x="916.60" y="647.02" width="34.33" height="34.89" fill="#e9d5cb"/>
<rect x="951.93" y="647.02" width="34.33" height="34.89" fill="#ebd3c6"/>
<rect x="987.26" y="647.02" width="34.33" height="34.89" fill="#f5c4ac"/>
<rect x="1022.59" y="647.02" width="34.33" height="34.89" fill="#a3c2fe"/>
<rect x="33.35" y="682.91" width="34.33" height="34.89" fill="#f3c8b2"/>
<rect x="68.68" y="682.91" width="34.33" height="34.89" fill="#dbdcde"/>
<rect x="104.01" y="682.91" width="34.33" height="34.89" fill="#eed0c0"/>
<rect x="139.34" y="682.91" width="34.33" height="34.89" fill="#f2cbb7"/>
<rect x="174.67" y="682.91" width="34.33" height="34.89" fill="#dddcdc"/>
<rect x="210.00" y="682.91" width="34.33" height="34.89" fill="#f7b79b"/>
<rect x="245.33" y="682.91" width="34.33" height="34.89" fill="#e8d6cc"/>
<rect x="280.66" y="682.91" width="34.33" height="34.89" fill="#e7d7ce"/>
<rect x="315.99" y="682.91" width="34.33" height="34.89" fill="#e9d5cb"/>
<rect x="351.32" y="682.91" width="34.33" height="34.89" fill="#efcebd"/>
<rect x="386.65" y="682.91" width="34.33" height="34.89" fill="#f7b89c"/>
<rect x="421.98" y="682.91" width="34.33" height="34.89" fill="#e8d6cc"/>
<rect x="457.31" y="682.91" width="34.33" height="34.89" fill="#f7b89c"/>
<rect x="492.64" y="682.91" width="34.33" height="34.89" fill="#e3d9d3"/>
<rect x="527.97" y="682.91" width="34.33" height="34.89" fill="#f7ba9f"/>
<rect x="563.30" y="682.91" width="34.33" height="34.89" fill="#efcfbf"/>
<rect x="598.63" y="682.91" width="34.33" height="34.89" fill="#f7a98b"/>
<rect x="633.96" y="682.91" width="34.33" height="34.89" fill="#ead4c8"/>
<rect x="669.29" y="682.91" width="34.33" height="34.89" fill="#f6bea4"/>
<rect x="704.62" y="682.91" width="34.33" height="34.89" fill="#b40426"/>
<rect x="739.95" y="682.91" width="34.33" height="34.89" fill="#f4c6af"/>
<rect x="775.28" y="682.91" width="34.33" height="34.89" fill="#f6a586"/>
<rect x="810.61" y="682.91" width="34.33" height="34.89" fill="#f5c0a7"/>
<rect x="845.94" y="682.91" width="34.33" height="34.89" fill="#e0dbd8"/>
<rect x="881.27" y="682.91" width="34.33" height="34.89" fill="#f5c0a7"/>
<rect x="916.60" y="682.91" width="34.33" height="34.89" fill="#e4d9d2"/>
<rect x="951.93" y="682.91" width="34.33" height="34.89" fill="#f7ba9f"/>
<rect x="987.26" y="682.91" width="34.33" height="34.89" fill="#eed0c0"/>
<rect x="1022.59" y="682.91" width="34.33" height="34.89" fill="#b6cefa"/>
<rect x="33.35" y="718.80" width="34.33" height="34.89" fill="#c5d6f2"/>
<rect x="68.68" y="718.80" width="34.33" height="34.89" fill="#d7dce3"/>
<rect x="104.01" y="718.80" width="34.33" height="34.89" fill="#d7dce3"/>
<rect x="139.34" y="718.80" width="34.33" height="34.89" fill="#b9d0f9"/>
<rect x="174.67" y="718.80" width="34.33" height="34.89" fill="#f6bea4"/>
<rect x="210.00" y="718.80" width="34.33" height="34.89" fill="#bad0f8"/>
<rect x="245.33" y="718.80" width="34.33" height="34.89" fill="#f7b396"/>
<rect x="280.66" y="718.80" width="34.33" height="34.89" fill="#b6cefa"/>
<rect x="315.99" y="718.80" width="34.33" height="34.89" fill="#f59d7e"/>
<rect x="351.32" y="718.80" width="34.33" height="34.89" fill="#d4dbe6"/>
<rect x="386.65" y="718.80" width="34.33" height="34.89" fill="#a1c0ff"/>
<rect x="421.98" y="718.80" width="34.33" height="34.89" fill="#f6a586"/>
<rect x="457.31" y="718.80" width="34.33" height="34.89" fill="#a2c1ff"/>
<rect x="492.64" y="718.80" width="34.33" height="34.89" fill="#ee8468"/>
<rect x="527.97" y="718.80" width="34.33" height="34.89" fill="#aec9fc"/>
<rect x="563.30" y="718.80" width="34.33" height="34.89" fill="#f29072"/>
<rect x="598.63" y="718.80" width="34.33" height="34.89" fill="#a7c5fe"/>
<rect x="633.96" y="718.80" width="34.33" height="34.89" fill="#f29072"/>
<rect x="669.29" y="718.80" width="34.33" height="34.89" fill="#ead4c8"/>
<rect x="704.62" y="718.80" width="34.33" height="34.89" fill="#f4c6af"/>
<rect x="739.95" y="718.80" width="34.33" height="34.89" fill="#b40426"/>
<rect x="775.28" y="718.80" width="34.33" height="34.89" fill="#c6d6f1"/>
<rect x="810.61" y="718.80" width="34.33" height="34.89" fill="#f6a385"/>
<rect x="845.94" y="718.80" width="34.33" height="34.89" fill="#98b9ff"/>
<rect x="881.27" y="718.80" width="34.33" height="34.89" fill="#b5cdfa"/>
<rect x="916.60" y="718.80" width="34.33" height="34.89" fill="#f7ac8e"/>
<rect x="951.93" y="718.80" width="34.33" height="34.89" fill="#aec9fc"/>
<rect x="987.26" y="718.80" width="34.33" height="34.89" fill="#e9785d"/>
<rect x="1022.59" y="718.80" width="34.33" height="34.89" fill="#d7dce3"/>
<rect x="33.35" y="754.69" width="34.33" height="34.89" fill="#f5c4ac"/>
<rect x="68.68" y="754.69" width="34.33" height="34.89" fill="#e9d5cb"/>
<rect x="104.01" y="754.69" width="34.33" height="34.89" fill="#e2dad5"/>
<rect x="139.34" y="754.69" width="34.33" height="34.89" fill="#f7aa8c"/>
<rect x="174.67" y="754.69" width="34.33" height="34.89" fill="#aac7fd"/>
<rect x="210.00" y="754.69" width="34.33" height="34.89" fill="#f39475"/>
<rect x="245.33" y="754.69" width="34.33" height="34.89" fill="#aac7fd"/>
<rect x="280.66" y="754.69" width="34.33" height="34.89" fill="#f7ba9f"/>
<rect x="315.99" y="754.69" width="34.33" height="34.89" fill="#a7c5fe"/>
<rect x="351.32" y="754.69" width="34.33" height="34.89" fill="#f2cab5"/>
<rect x="386.65" y="754.69" width="34.33" height="34.89" fill="#f7b396"/>
<rect x="421.98" y="754.69" width="34.33" height="34.89" fill="#c0d4f5"/>
<rect x="457.31" y="754.69" width="34.33" height="34.89" fill="#f08b6e"/>
<rect x="492.64" y="754.69" width="34.33" height="34.89" fill="#b3cdfb"/>
<rect x="527.97" y="754.69" width="34.33" height="34.89" fill="#e0654f"/>
<rect x="563.30" y="754.69" width="34.33" height="34.89" fill="#a7c5fe"/>
<rect x="598.63" y="754.69" width="34.33" height="34.89" fill="#f18f71"/>
<rect x="633.96" y="754.69" width="34.33" height="34.89" fill="#9ebeff"/>
<rect x="669.29" y="754.69" width="34.33" height="34.89" fill="#efcfbf"/>
<rect x="704.62" y="754.69" width="34.33" height="34.89" fill="#f6a586"/>
<rect x="739.95" y="754.69" width="34.33" height="34.89" fill="#c6d6f1"/>
<rect x="775.28" y="754.69" width="34.33" height="34.89" fill="#b40426"/>
<rect x="810.61" y="754.69" width="34.33" height="34.89" fill="#b3cdfb"/>
<rect x="845.94" y="754.69" width="34.33" height="34.89" fill="#f6bea4"/>
<rect x="881.27" y="754.69" width="34.33" height="34.89" fill="#f7aa8c"/>
<rect x="916.60" y="754.69" width="34.33" height="34.89" fill="#c6d6f1"/>
<rect x="951.93" y="754.69" width="34.33" height="34.89" fill="#f39475"/>
<rect x="987.26" y="754.69" width="34.33" height="34.89" fill="#b6cefa"/>
<rect x="1022.59" y="754.69" width="34.33" height="34.89" fill="#a7c5fe"/>
<rect x="33.35" y="790.58" width="34.33" height="34.89" fill="#bcd2f7"/>
<rect x="68.68" y="790.58" width="34.33" height="34.89" fill="#d4dbe6"/>
<rect x="104.01" y="790.58" width="34.33" height="34.89" fill="#c7d7f0"/>
<rect x="139.34" y="790.58" width="34.33" height="34.89" fill="#cfdaea"/>
<rect x="174.67" y="790.58" width="34.33" height="34.89" fill="#f7b093"/>
<rect x="210.00" y="790.58" width="34.33" height="34.89" fill="#c7d7f0"/>
<rect x="245.33" y="790.58" width="34.33" height="34.89" fill="#f29072"/>
<rect x="280.66" y="790.58" width="34.33" height="34.89" fill="#c6d6f1"/>
<rect x="315.99" y="790.58" width="34.33" height="34.89" fill="#ee8669"/>
<rect x="351.32" y="790.58" width="34.33" height="34.89" fill="#aec9fc"/>
<rect x="386.65" y="790.58" width="34.33" height="34.89" fill="#cdd9ec"/>
<rect x="421.98" y="790.58" width="34.33" height="34.89" fill="#f7b093"/>
<rect x="457.31" y="790.58" width="34.33" height="34.89" fill="#c6d6f1"/>
<rect x="492.64" y="790.58" width="34.33" height="34.89" fill="#f39577"/>
<rect x="527.97" y="790.58" width="34.33" height="34.89" fill="#aec9fc"/>
<rect x="563.30" y="790.58" width="34.33" height="34.89" fill="#f4987a"/>
<rect x="598.63" y="790.58" width="34.33" height="34.89" fill="#c7d7f0"/>
<rect x="633.96" y="790.58" width="34.33" height="34.89" fill="#f39577"/>
<rect x="669.29" y="790.58" width="34.33" height="34.89" fill="#f7ba9f"/>
<rect x="704.62" y="790.58" width="34.33" height="34.89" fill="#f5c0a7"/>
<rect x="739.95" y="790.58" width="34.33" height="34.89" fill="#f6a385"/>
<rect x="775.28" y="790.58" width="34.33" height="34.89" fill="#b3cdfb"/>
<rect x="810.61" y="790.58" width="34.33" height="34.89" fill="#b40426"/>
<rect x="845.94" y="790.58" width="34.33" height="34.89" fill="#aec9fc"/>
<rect x="881.27" y="790.58" width="34.33" height="34.89" fill="#d2dbe8"/>
<rect x="916.60" y="790.58" width="34.33" height="34.89" fill="#f6bda2"/>
<rect x="951.93" y="790.58" width="34.33" height="34.89" fill="#c0d4f5"/>
<rect x="987.26" y="790.58" width="34.33" height="34.89" fill="#ee8669"/>
<rect x="1022.59" y="790.58" width="34.33" height="34.89" fill="#c1d4f4"/>
<rect x="33.35" y="826.47" width="34.33" height="34.89" fill="#f7aa8c"/>
<rect x="68.68" y="826.47" width="34.33" height="34.89" fill="#e4d9d2"/>
<rect x="104.01" y="826.47" width="34.33" height="34.89" fill="#f5c2aa"/>
<rect x="139.34" y="826.47" width="34.33" height="34.89" fill="#f5c1a9"/>
<rect x="174.67" y="826.47" width="34.33" height="34.89" fill="#aac7fd"/>
<rect x="210.00" y="826.47" width="34.33" height="34.89" fill="#f5c4ac"/>
<rect x="245.33" y="826.47" width="34.33" height="34.89" fill="#a3c2fe"/>
<rect x="280.66" y="826.47" width="34.33" height="34.89" fill="#f2cbb7"/>
<rect x="315.99" y="826.47" width="34.33" height="34.89" fill="#b6cefa"/>
<rect x="351.32" y="826.47" width="34.33" height="34.89" fill="#f2cab5"/>
<rect x="386.65" y="826.47" width="34.33" height="34.89" fill="#f7b396"/>
<rect x="421.98" y="826.47" width="34.33" height="34.89" fill="#a9c6fd"/>
<rect x="457.31" y="826.47" width="34.33" height="34.89" fill="#f7ac8e"/>
<rect x="492.64" y="826.47" width="34.33" height="34.89" fill="#8db0fe"/>
<rect x="527.97" y="826.47" width="34.33" height="34.89" fill="#f7b396"/>
<rect x="563.30" y="826.47" width="34.33" height="34.89" fill="#8fb1fe"/>
<rect x="598.63" y="826.47" width="34.33" height="34.89" fill="#f4987a"/>
<rect x="633.96" y="826.47" width="34.33" height="34.89" fill="#97b8ff"/>
<rect x="669.29" y="826.47" width="34.33" height="34.89" fill="#cdd9ec"/>
<rect x="704.62" y="826.47" width="34.33" height="34.89" fill="#e0dbd8"/>
<rect x="739.95" y="826.47" width="34.33" height="34.89" fill="#98b9ff"/>
<rect x="775.28" y="826.47" width="34.33" height="34.89" fill="#f6bea4"/>
<rect x="810.61" y="826.47" width="34.33" height="34.89" fill="#aec9fc"/>
<rect x="845.94" y="826.47" width="34.33" height="34.89" fill="#b40426"/>
<rect x="881.27" y="826.47" width="34.33" height="34.89" fill="#f5c4ac"/>
<rect x="916.60" y="826.47" width="34.33" height="34.89" fill="#98b9ff"/>
<rect x="951.93" y="826.47" width="34.33" height="34.89" fill="#f7aa8c"/>
<rect x="987.26" y="826.47" width="34.33" height="34.89" fill="#7da0f9"/>
<rect x="1022.59" y="826.47" width="34.33" height="34.89" fill="#e0dbd8"/>
<rect x="33.35" y="862.36" width="34.33" height="34.89" fill="#f2cbb7"/>
<rect x="68.68" y="862.36" width="34.33" height="34.89" fill="#e2dad5"/>
<rect x="104.01" y="862.36" width="34.33" height="34.89" fill="#dddcdc"/>
<rect x="139.34" y="862.36" width="34.33" height="34.89" fill="#f6a385"/>
<rect x="174.67" y="862.36" width="34.33" height="34.89" fill="#bfd3f6"/>
<rect x="210.00" y="862.36" width="34.33" height="34.89" fill="#f7ac8e"/>
<rect x="245.33" y="862.36" width="34.33" height="34.89" fill="#a2c1ff"/>
<rect x="280.66" y="862.36" width="34.33" height="34.89" fill="#f7b79b"/>
<rect x="315.99" y="862.36" width="34.33" height="34.89" fill="#afcafc"/>
<rect x="351.32" y="862.36" width="34.33" height="34.89" fill="#f1ccb8"/>
<rect x="386.65" y="862.36" width="34.33" height="34.89" fill="#f4987a"/>
<rect x="421.98" y="862.36" width="34.33" height="34.89" fill="#b1cbfc"/>
<rect x="457.31" y="862.36" width="34.33" height="34.89" fill="#eb7d62"/>
<rect x="492.64" y="862.36" width="34.33" height="34.89" fill="#b6cefa"/>
<rect x="527.97" y="862.36" width="34.33" height="34.89" fill="#f08b6e"/>
<rect x="563.30" y="862.36" width="34.33" height="34.89" fill="#9ebeff"/>
<rect x="598.63" y="862.36" width="34.33" height="34.89" fill="#e7745b"/>
<rect x="633.96" y="862.36" width="34.33" height="34.89" fill="#b5cdfa"/>
<rect x="669.29" y="862.36" width="34.33" height="34.89" fill="#f6bea4"/>
<rect x="704.62" y="862.36" width="34.33" height="34.89" fill="#f5c0a7"/>
<rect x="739.95" y="862.36" width="34.33" height="34.89" fill="#b5cdfa"/>
<rect x="775.28" y="862.36" width="34.33" height="34.89" fill="#f7aa8c"/>
<rect x="810.61" y="862.36" width="34.33" height="34.89" fill="#d2dbe8"/>
<rect x="845.94" y="862.36" width="34.33" height="34.89" fill="#f5c4ac"/>
<rect x="881.27" y="862.36" width="34.33" height="34.89" fill="#b40426"/>
<rect x="916.60" y="862.36" width="34.33" height="34.89" fill="#e2dad5"/>
<rect x="951.93" y="862.36" width="34.33" height="34.89" fill="#ee8669"/>
<rect x="987.26" y="862.36" width="34.33" height="34.89" fill="#a5c3fe"/>
<rect x="1022.59" y="862.36" width="34.33" height="34.89" fill="#b6cefa"/>
<rect x="33.35" y="898.25" width="34.33" height="34.89" fill="#b5cdfa"/>
<rect x="68.68" y="898.25" width="34.33" height="34.89" fill="#d4dbe6"/>
<rect x="104.01" y="898.25" width="34.33" height="34.89" fill="#bad0f8"/>
<rect x="139.34" y="898.25" width="34.33" height="34.89" fill="#d1dae9"/>
<rect x="174.67" y="898.25" width="34.33" height="34.89" fill="#f7b194"/>
<rect x="210.00" y="898.25" width="34.33" height="34.89" fill="#d1dae9"/>
<rect x="245.33" y="898.25" width="34.33" height="34.89" fill="#ecd3c5"/>
<rect x="280.66" y="898.25" width="34.33" height="34.89" fill="#cbd8ee"/>
<rect x="315.99" y="898.25" width="34.33" height="34.89" fill="#f5c0a7"/>
<rect x="351.32" y="898.25" width="34.33" height="34.89" fill="#dddcdc"/>
<rect x="386.65" y="898.25" width="34.33" height="34.89" fill="#bfd3f6"/>
<rect x="421.98" y="898.25" width="34.33" height="34.89" fill="#f7bca1"/>
<rect x="457.31" y="898.25" width="34.33" height="34.89" fill="#bfd3f6"/>
<rect x="492.64" y="898.25" width="34.33" height="34.89" fill="#f7aa8c"/>
<rect x="527.97" y="898.25" width="34.33" height="34.89" fill="#b5cdfa"/>
<rect x="563.30" y="898.25" width="34.33" height="34.89" fill="#f6a586"/>
<rect x="598.63" y="898.25" width="34.33" height="34.89" fill="#c3d5f4"/>
<rect x="633.96" y="898.25" width="34.33" height="34.89" fill="#f7a688"/>
<rect x="669.29" y="898.25" width="34.33" height="34.89" fill="#e9d5cb"/>
<rect x="704.62" y="898.25" width="34.33" height="34.89" fill="#e4d9d2"/>
<rect x="739.95" y="898.25" width="34.33" height="34.89" fill="#f7ac8e"/>
<rect x="775.28" y="898.25" width="34.33" height="34.89" fill="#c6d6f1"/>
<rect x="810.61" y="898.25" width="34.33" height="34.89" fill="#f6bda2"/>
<rect x="845.94" y="898.25" width="34.33" height="34.89" fill="#98b9ff"/>
<rect x="881.27" y="898.25" width="34.33" height="34.89" fill="#e2dad5"/>
<rect x="916.60" y="898.25" width="34.33" height="34.89" fill="#b40426"/>
<rect x="951.93" y="898.25" width="34.33" height="34.89" fill="#b6cefa"/>
<rect x="987.26" y="898.25" width="34.33" height="34.89" fill="#f59f80"/>
<rect x="1022.59" y="898.25" width="34.33" height="34.89" fill="#d2dbe8"/>
<rect x="33.35" y="934.14" width="34.33" height="34.89" fill="#f7b599"/>
<rect x="68.68" y="934.14" width="34.33" height="34.89" fill="#ead4c8"/>
<rect x="104.01" y="934.14" width="34.33" height="34.89" fill="#f2cbb7"/>
<rect x="139.34" y="934.14" width="34.33" height="34.89" fill="#f6a385"/>
<rect x="174.67" y="934.14" width="34.33" height="34.89" fill="#a7c5fe"/>
<rect x="210.00" y="934.14" width="34.33" height="34.89" fill="#ef886b"/>
<rect x="245.33" y="934.14" width="34.33" height="34.89" fill="#a7c5fe"/>
<rect x="280.66" y="934.14" width="34.33" height="34.89" fill="#f7aa8c"/>
<rect x="315.99" y="934.14" width="34.33" height="34.89" fill="#a1c0ff"/>
<rect x="351.32" y="934.14" width="34.33" height="34.89" fill="#f1cdba"/>
<rect x="386.65" y="934.14" width="34.33" height="34.89" fill="#ef886b"/>
<rect x="421.98" y="934.14" width="34.33" height="34.89" fill="#afcafc"/>
<rect x="457.31" y="934.14" width="34.33" height="34.89" fill="#e46e56"/>
<rect x="492.64" y="934.14" width="34.33" height="34.89" fill="#a7c5fe"/>
<rect x="527.97" y="934.14" width="34.33" height="34.89" fill="#e36c55"/>
<rect x="563.30" y="934.14" width="34.33" height="34.89" fill="#84a7fc"/>
<rect x="598.63" y="934.14" width="34.33" height="34.89" fill="#df634e"/>
<rect x="633.96" y="934.14" width="34.33" height="34.89" fill="#9ebeff"/>
<rect x="669.29" y="934.14" width="34.33" height="34.89" fill="#ebd3c6"/>
<rect x="704.62" y="934.14" width="34.33" height="34.89" fill="#f7ba9f"/>
<rect x="739.95" y="934.14" width="34.33" height="34.89" fill="#aec9fc"/>
<rect x="775.28" y="934.14" width="34.33" height="34.89" fill="#f39475"/>
<rect x="810.61" y="934.14" width="34.33" height="34.89" fill="#c0d4f5"/>
<rect x="845.94" y="934.14" width="34.33" height="34.89" fill="#f7aa8c"/>
<rect x="881.27" y="934.14" width="34.33" height="34.89" fill="#ee8669"/>
<rect x="916.60" y="934.14" width="34.33" height="34.89" fill="#b6cefa"/>
<rect x="951.93" y="934.14" width="34.33" height="34.89" fill="#b40426"/>
<rect x="987.26" y="934.14" width="34.33" height="34.89" fill="#a7c5fe"/>
<rect x="1022.59" y="934.14" width="34.33" height="34.89" fill="#adc9fd"/>
<rect x="33.35" y="970.03" width="34.33" height="34.89" fill="#afcafc"/>
<rect x="68.68" y="970.03" width="34.33" height="34.89" fill="#dedcdb"/>
<rect x="104.01" y="970.03" width="34.33" height="34.89" fill="#bfd3f6"/>
<rect x="139.34" y="970.03" width="34.33" height="34.89" fill="#a9c6fd"/>
<rect x="174.67" y="970.03" width="34.33" height="34.89" fill="#f59f80"/>
<rect x="210.00" y="970.03" width="34.33" height="34.89" fill="#b6cefa"/>
<rect x="245.33" y="970.03" width="34.33" height="34.89" fill="#f4987a"/>
<rect x="280.66" y="970.03" width="34.33" height="34.89" fill="#b5cdfa"/>
<rect x="315.99" y="970.03" width="34.33" height="34.89" fill="#f18f71"/>
<rect x="351.32" y="970.03" width="34.33" height="34.89" fill="#aac7fd"/>
<rect x="386.65" y="970.03" width="34.33" height="34.89" fill="#aac7fd"/>
<rect x="421.98" y="970.03" width="34.33" height="34.89" fill="#f7aa8c"/>
<rect x="457.31" y="970.03" width="34.33" height="34.89" fill="#a2c1ff"/>
<rect x="492.64" y="970.03" width="34.33" height="34.89" fill="#e57058"/>
<rect x="527.97" y="970.03" width="34.33" height="34.89" fill="#96b7ff"/>
<rect x="563.30" y="970.03" width="34.33" height="34.89" fill="#e46e56"/>
<rect x="598.63" y="970.03" width="34.33" height="34.89" fill="#9dbdff"/>
<rect x="633.96" y="970.03" width="34.33" height="34.89" fill="#e8765c"/>
<rect x="669.29" y="970.03" width="34.33" height="34.89" fill="#f5c4ac"/>
<rect x="704.62" y="970.03" width="34.33" height="34.89" fill="#eed0c0"/>
<rect x="739.95" y="970.03" width="34.33" height="34.89" fill="#e9785d"/>
<rect x="775.28" y="970.03" width="34.33" height="34.89" fill="#b6cefa"/>
<rect x="810.61" y="970.03" width="34.33" height="34.89" fill="#ee8669"/>
<rect x="845.94" y="970.03" width="34.33" height="34.89" fill="#7da0f9"/>
<rect x="881.27" y="970.03" width="34.33" height="34.89" fill="#a5c3fe"/>
<rect x="916.60" y="970.03" width="34.33" height="34.89" fill="#f59f80"/>
<rect x="951.93" y="970.03" width="34.33" height="34.89" fill="#a7c5fe"/>
<rect x="987.26" y="970.03" width="34.33" height="34.89" fill="#b40426"/>
<rect x="1022.59" y="970.03" width="34.33" height="34.89" fill="#c0d4f5"/>
<rect x="33.35" y="1005.92" width="34.33" height="34.89" fill="#dfdbd9"/>
<rect x="68.68" y="1005.92" width="34.33" height="34.89" fill="#e4d9d2"/>
<rect x="104.01" y="1005.92" width="34.33" height="34.89" fill="#e8d6cc"/>
<rect x="139.34" y="1005.92" width="34.33" height="34.89" fill="#adc9fd"/>
<rect x="174.67" y="1005.92" width="34.33" height="34.89" fill="#e5d8d1"/>
<rect x="210.00" y="1005.92" width="34.33" height="34.89" fill="#c1d4f4"/>
<rect x="245.33" y="1005.92" width="34.33" height="34.89" fill="#ead4c8"/>
<rect x="280.66" y="1005.92" width="34.33" height="34.89" fill="#a9c6fd"/>
<rect x="315.99" y="1005.92" width="34.33" height="34.89" fill="#bcd2f7"/>
<rect x="351.32" y="1005.92" width="34.33" height="34.89" fill="#e5d8d1"/>
<rect x="386.65" y="1005.92" width="34.33" height="34.89" fill="#bfd3f6"/>
<rect x="421.98" y="1005.92" width="34.33" height="34.89" fill="#d5dbe5"/>
<rect x="457.31" y="1005.92" width="34.33" height="34.89" fill="#bbd1f8"/>
<rect x="492.64" y="1005.92" width="34.33" height="34.89" fill="#cdd9ec"/>
<rect x="527.97" y="1005.92" width="34.33" height="34.89" fill="#97b8ff"/>
<rect x="563.30" y="1005.92" width="34.33" height="34.89" fill="#d2dbe8"/>
<rect x="598.63" y="1005.92" width="34.33" height="34.89" fill="#aec9fc"/>
<rect x="633.96" y="1005.92" width="34.33" height="34.89" fill="#d5dbe5"/>
<rect x="669.29" y="1005.92" width="34.33" height="34.89" fill="#a3c2fe"/>
<rect x="704.62" y="1005.92" width="34.33" height="34.89" fill="#b6cefa"/>
<rect x="739.95" y="1005.92" width="34.33" height="34.89" fill="#d7dce3"/>
<rect x="775.28" y="1005.92" width="34.33" height="34.89" fill="#a7c5fe"/>
<rect x="810.61" y="1005.92" width="34.33" height="34.89" fill="#c1d4f4"/>
<rect x="845.94" y="1005.92" width="34.33" height="34.89" fill="#e0dbd8"/>
<rect x="881.27" y="1005.92" width="34.33" height="34.89" fill="#b6cefa"/>
<rect x="916.60" y="1005.92" width="34.33" height="34.89" fill="#d2dbe8"/>
<rect x="951.93" y="1005.92" width="34.33" height="34.89" fill="#adc9fd"/>
<rect x="987.26" y="1005.92" width="34.33" height="34.89" fill="#c0d4f5"/>
<rect x="1022.59" y="1005.92" width="34.33" height="34.89" fill="#b40426"/>
</g>
<g font-family="Liberation Sans" font-size="14.2" text-anchor="middle">
<text x="50.52" y="22.14" fill="#ffffff" textLength="26.81" lengthAdjust="spacingAndGlyphs" transform="rotate(0.05 50.52 22.14)">1.00</text>
<text x="85.84" y="22.14" fill="#262626" textLength="27.61" lengthAdjust="spacingAndGlyphs" transform="rotate(0.05 85.84 22.14)">0.23</text>
<text x="121.17" y="22.14" fill="#ffffff" textLength="27.61" lengthAdjust="spacingAndGlyphs" transform="rotate(0.05 121.17 22.14)">0.58</text>
<text x="156.50" y="22.14" fill="#262626" textLength="27.61" lengthAdjust="spacingAndGlyphs" transform="rotate(0.05 156.50 22.14)">0.16</text>
<text x="191.83" y="22.14" fill="#262626" textLength="32.08" lengthAdjust="spacingAndGlyphs" transform="rotate(0.05 191.83 22.14)">-0.20</text>
<text x="227.16" y="22.14" fill="#262626" textLength="27.61" lengthAdjust="spacingAndGlyphs" transform="rotate(0.05 227.16 22.14)">0.28</text>
<text x="262.50" y="22.14" fill="#262626" textLength="32.08" lengthAdjust="spacingAndGlyphs" transform="rotate(0.05 262.50 22.14)">-0.25</text>
<text x="297.82" y="22.14" fill="#262626" textLength="27.61" lengthAdjust="spacingAndGlyphs" transform="rotate(0.05 297.82 22.14)">0.03</text>
<text x="333.16" y="22.14" fill="#262626" textLength="32.08" lengthAdjust="spacingAndGlyphs" transform="rotate(0.05 333.16 22.14)">-0.18</text>
<text x="368.49" y="22.14" fill="#262626" textLength="27.61" lengthAdjust="spacingAndGlyphs" transform="rotate(0.05 368.49 22.14)">0.44</text>
<text x="403.81" y="22.14" fill="#262626" textLength="27.61" lengthAdjust="spacingAndGlyphs" transform="rotate(0.05 403.81 22.14)">0.20</text>
<text x="439.14" y="22.14" fill="#262626" textLength="32.08" lengthAdjust="spacingAndGlyphs" transform="rotate(0.05 439.14 22.14)">-0.24</text>
<text x="474.48" y="22.14" fill="#262626" textLength="27.61" lengthAdjust="spacingAndGlyphs" transform="rotate(0.05 474.48 22.14)">0.30</text>
<text x="509.81" y="22.14" fill="#262626" textLength="32.08" lengthAdjust="spacingAndGlyphs" transform="rotate(0.05 509.81 22.14)">-0.37</text>
<text x="545.13" y="22.14" fill="#262626" textLength="27.61" lengthAdjust="spacingAndGlyphs" transform="rotate(0.05 545.13 22.14)">0.24</text>
<text x="580.47" y="22.14" fill="#262626" textLength="32.08" lengthAdjust="spacingAndGlyphs" transform="rotate(0.05 580.47 22.14)">-0.30</text>
<text x="615.79" y="22.14" fill="#262626" textLength="27.61" lengthAdjust="spacingAndGlyphs" transform="rotate(0.05 615.79 22.14)">0.28</text>
<text x="651.12" y="22.14" fill="#262626" textLength="32.08" lengthAdjust="spacingAndGlyphs" transform="rotate(0.05 651.12 22.14)">-0.34</text>
<text x="686.46" y="22.14" fill="#262626" textLength="32.08" lengthAdjust="spacingAndGlyphs" transform="rotate(0.05 686.46 22.14)">-0.07</text>
<text x="721.78" y="22.14" fill="#262626" textLength="27.61" lengthAdjust="spacingAndGlyphs" transform="rotate(0.05 721.78 22.14)">0.22</text>
<text x="757.12" y="22.14" fill="#262626" textLength="32.08" lengthAdjust="spacingAndGlyphs" transform="rotate(0.05 757.12 22.14)">-0.17</text>
<text x="792.44" y="22.14" fill="#262626" textLength="27.61" lengthAdjust="spacingAndGlyphs" transform="rotate(0.05 792.44 22.14)">0.25</text>
<text x="827.77" y="22.14" fill="#262626" textLength="32.08" lengthAdjust="spacingAndGlyphs" transform="rotate(0.05 827.77 22.14)">-0.22</text>
<text x="863.11" y="22.14" fill="#262626" textLength="27.61" lengthAdjust="spacingAndGlyphs" transform="rotate(0.05 863.11 22.14)">0.41</text>
<text x="898.43" y="22.14" fill="#262626" textLength="27.61" lengthAdjust="spacingAndGlyphs" transform="rotate(0.05 898.43 22.14)">0.20</text>
<text x="933.76" y="22.14" fill="#262626" textLength="32.08" lengthAdjust="spacingAndGlyphs" transform="rotate(0.05 933.76 22.14)">-0.27</text>
<text x="969.10" y="22.14" fill="#262626" textLength="27.61" lengthAdjust="spacingAndGlyphs" transform="rotate(0.05 969.10 22.14)">0.35</text>
<text x="1004.42" y="22.14" fill="#262626" textLength="32.08" lengthAdjust="spacingAndGlyphs" transform="rotate(0.05 1004.42 22.14)">-0.30</text>
<text x="1039.75" y="22.14" fill="#262626" textLength="27.61" lengthAdjust="spacingAndGlyphs" transform="rotate(0.05 1039.75 22.14)">0.02</text>
<text x="50.52" y="58.04" fill="#262626" textLength="27.61" lengthAdjust="spacingAndGlyphs" transform="rotate(0.05 50.52 58.04)">0.23</text>
<text x="85.84" y="58.04" fill="#ffffff" textLength="26.81" lengthAdjust="spacingAndGlyphs" transform="rotate(0.05 85.84 58.04)">1.00</text>
<text x="121.17" y="58.04" fill="#262626" textLength="32.08" lengthAdjust="spacingAndGlyphs" transform="rotate(0.05 121.17 58.04)">-0.02</text>
<text x="156.50" y="58.04" fill="#262626" textLength="27.61" lengthAdjust="spacingAndGlyphs" transform="rotate(0.05 156.50 58.04)">0.08</text>
<text x="191.83" y="58.04" fill="#262626" textLength="32.08" lengthAdjust="spacingAndGlyphs" transform="rotate(0.05 191.83 58.04)">-0.18</text>
<text x="227.16" y="58.04" fill="#262626" textLength="27.61" lengthAdjust="spacingAndGlyphs" transform="rotate(0.05 227.16 58.04)">0.21</text>
<text x="262.50" y="58.04" fill="#262626" textLength="32.08" lengthAdjust="spacingAndGlyphs" transform="rotate(0.05 262.50 58.04)">-0.05</text>
<text x="297.82" y="58.04" fill="#262626" textLength="32.08" lengthAdjust="spacingAndGlyphs" transform="rotate(0.05 297.82 58.04)">-0.05</text>
<text x="333.16" y="58.04" fill="#262626" textLength="32.08" lengthAdjust="spacingAndGlyphs" transform="rotate(0.05 333.16 58.04)">-0.06</text>
<text x="368.49" y="58.04" fill="#262626" textLength="27.61" lengthAdjust="spacingAndGlyphs" transform="rotate(0.05 368.49 58.04)">0.17</text>
<text x="403.81" y="58.04" fill="#262626" textLength="27.61" lengthAdjust="spacingAndGlyphs" transform="rotate(0.05 403.81 58.04)">0.05</text>
<text x="439.14" y="58.04" fill="#262626" textLength="32.08" lengthAdjust="spacingAndGlyphs" transform="rotate(0.05 439.14 58.04)">-0.34</text>
<text x="474.48" y="58.04" fill="#262626" textLength="27.61" lengthAdjust="spacingAndGlyphs" transform="rotate(0.05 474.48 58.04)">0.02</text>
<text x="509.81" y="58.04" fill="#262626" textLength="32.08" lengthAdjust="spacingAndGlyphs" transform="rotate(0.05 509.81 58.04)">-0.08</text>
<text x="545.13" y="58.04" fill="#262626" textLength="27.61" lengthAdjust="spacingAndGlyphs" transform="rotate(0.05 545.13 58.04)">0.11</text>
<text x="580.47" y="58.04" fill="#262626" textLength="32.08" lengthAdjust="spacingAndGlyphs" transform="rotate(0.05 580.47 58.04)">-0.11</text>
<text x="615.79" y="58.04" fill="#262626" textLength="27.61" lengthAdjust="spacingAndGlyphs" transform="rotate(0.05 615.79 58.04)">0.05</text>
<text x="651.12" y="58.04" fill="#262626" textLength="32.08" lengthAdjust="spacingAndGlyphs" transform="rotate(0.05 651.12 58.04)">-0.08</text>
<text x="686.46" y="58.04" fill="#262626" textLength="32.08" lengthAdjust="spacingAndGlyphs" transform="rotate(0.05 686.46 58.04)">-0.03</text>
<text x="721.78" y="58.04" fill="#262626" textLength="32.08" lengthAdjust="spacingAndGlyphs" transform="rotate(0.05 721.78 58.04)">-0.01</text>
<text x="757.12" y="58.04" fill="#262626" textLength="32.08" lengthAdjust="spacingAndGlyphs" transform="rotate(0.05 757.12 58.04)">-0.04</text>
<text x="792.44" y="58.04" fill="#262626" textLength="27.61" lengthAdjust="spacingAndGlyphs" transform="rotate(0.05 792.44 58.04)">0.10</text>
<text x="827.77" y="58.04" fill="#262626" textLength="32.08" lengthAdjust="spacingAndGlyphs" transform="rotate(0.05 827.77 58.04)">-0.07</text>
<text x="863.11" y="58.04" fill="#262626" textLength="27.61" lengthAdjust="spacingAndGlyphs" transform="rotate(0.05 863.11 58.04)">0.06</text>
<text x="898.43" y="58.04" fill="#262626" textLength="27.61" lengthAdjust="spacingAndGlyphs" transform="rotate(0.05 898.43 58.04)">0.04</text>
<text x="933.76" y="58.04" fill="#262626" textLength="32.08" lengthAdjust="spacingAndGlyphs" transform="rotate(0.05 933.76 58.04)">-0.07</text>
<text x="969.10" y="58.04" fill="#262626" textLength="27.61" lengthAdjust="spacingAndGlyphs" transform="rotate(0.05 969.10 58.04)">0.11</text>
<text x="1004.42" y="58.04" fill="#262626" textLength="27.61" lengthAdjust="spacingAndGlyphs" transform="rotate(0.05 1004.42 58.04)">0.01</text>
<text x="1039.75" y="58.04" fill="#262626" textLength="27.61" lengthAdjust="spacingAndGlyphs" transform="rotate(0.05 1039.75 58.04)">0.06</text>
<text x="50.52" y="93.92" fill="#ffffff" textLength="27.61" lengthAdjust="spacingAndGlyphs" transform="rotate(0.05 50.52 93.92)">0.58</text>
<text x="85.84" y="93.92" fill="#262626" textLength="32.08" lengthAdjust="spacingAndGlyphs" transform="rotate(0.05 85.84 93.92)">-0.02</text>
<text x="121.17" y="93.92" fill="#ffffff" textLength="26.81" lengthAdjust="spacingAndGlyphs" transform="rotate(0.05 121.17 93.92)">1.00</text>
<text x="156.50" y="93.92" fill="#262626" textLength="27.61" lengthAdjust="spacingAndGlyphs" transform="rotate(0.05 156.50 93.92)">0.08</text>
<text x="191.83" y="93.92" fill="#262626" textLength="32.08" lengthAdjust="spacingAndGlyphs" transform="rotate(0.05 191.83 93.92)">-0.10</text>
<text x="227.16" y="93.92" fill="#262626" textLength="27.61" lengthAdjust="spacingAndGlyphs" transform="rotate(0.05 227.16 93.92)">0.26</text>
<text x="262.50" y="93.92" fill="#262626" textLength="32.08" lengthAdjust="spacingAndGlyphs" transform="rotate(0.05 262.50 93.92)">-0.18</text>
<text x="297.82" y="93.92" fill="#262626" textLength="32.08" lengthAdjust="spacingAndGlyphs" transform="rotate(0.05 297.82 93.92)">-0.08</text>
<text x="333.16" y="93.92" fill="#262626" textLength="32.08" lengthAdjust="spacingAndGlyphs" transform="rotate(0.05 333.16 93.92)">-0.22</text>
<text x="368.49" y="93.92" fill="#262626" textLength="27.61" lengthAdjust="spacingAndGlyphs" transform="rotate(0.05 368.49 93.92)">0.49</text>
<text x="403.81" y="93.92" fill="#262626" textLength="27.61" lengthAdjust="spacingAndGlyphs" transform="rotate(0.05 403.81 93.92)">0.21</text>
<text x="439.14" y="93.92" fill="#262626" textLength="32.08" lengthAdjust="spacingAndGlyphs" transform="rotate(0.05 439.14 93.92)">-0.03</text>
<text x="474.48" y="93.92" fill="#262626" textLength="27.61" lengthAdjust="spacingAndGlyphs" transform="rotate(0.05 474.48 93.92)">0.08</text>
<text x="509.81" y="93.92" fill="#262626" textLength="32.08" lengthAdjust="spacingAndGlyphs" transform="rotate(0.05 509.81 93.92)">-0.31</text>
<text x="545.13" y="93.92" fill="#262626" textLength="27.61" lengthAdjust="spacingAndGlyphs" transform="rotate(0.05 545.13 93.92)">0.19</text>
<text x="580.47" y="93.92" fill="#262626" textLength="32.08" lengthAdjust="spacingAndGlyphs" transform="rotate(0.05 580.47 93.92)">-0.16</text>
<text x="615.79" y="93.92" fill="#262626" textLength="27.61" lengthAdjust="spacingAndGlyphs" transform="rotate(0.05 615.79 93.92)">0.20</text>
<text x="651.12" y="93.92" fill="#262626" textLength="32.08" lengthAdjust="spacingAndGlyphs" transform="rotate(0.05 651.12 93.92)">-0.15</text>
<text x="686.46" y="93.92" fill="#262626" textLength="32.08" lengthAdjust="spacingAndGlyphs" transform="rotate(0.05 686.46 93.92)">-0.04</text>
<text x="721.78" y="93.92" fill="#262626" textLength="27.61" lengthAdjust="spacingAndGlyphs" transform="rotate(0.05 721.78 93.92)">0.15</text>
<text x="757.12" y="93.92" fill="#262626" textLength="32.08" lengthAdjust="spacingAndGlyphs" transform="rotate(0.05 757.12 93.92)">-0.04</text>
<text x="792.44" y="93.92" fill="#262626" textLength="27.61" lengthAdjust="spacingAndGlyphs" transform="rotate(0.05 792.44 93.92)">0.04</text>
<text x="827.77" y="93.92" fill="#262626" textLength="32.08" lengthAdjust="spacingAndGlyphs" transform="rotate(0.05 827.77 93.92)">-0.15</text>
<text x="863.11" y="93.92" fill="#262626" textLength="27.61" lengthAdjust="spacingAndGlyphs" transform="rotate(0.05 863.11 93.92)">0.26</text>
<text x="898.43" y="93.92" fill="#262626" textLength="32.08" lengthAdjust="spacingAndGlyphs" transform="rotate(0.05 898.43 93.92)">-0.00</text>
<text x="933.76" y="93.92" fill="#262626" textLength="32.08" lengthAdjust="spacingAndGlyphs" transform="rotate(0.05 933.76 93.92)">-0.24</text>
<text x="969.10" y="93.92" fill="#262626" textLength="27.61" lengthAdjust="spacingAndGlyphs" transform="rotate(0.05 969.10 93.92)">0.20</text>
<text x="1004.42" y="93.92" fill="#262626" textLength="32.08" lengthAdjust="spacingAndGlyphs" transform="rotate(0.05 1004.42 93.92)">-0.21</text>
<text x="1039.75" y="93.92" fill="#262626" textLength="27.61" lengthAdjust="spacingAndGlyphs" transform="rotate(0.05 1039.75 93.92)">0.09</text>
<text x="50.52" y="129.81" fill="#262626" textLength="27.61" lengthAdjust="spacingAndGlyphs" transform="rotate(0.05 50.52 129.81)">0.16</text>
<text x="85.84" y="129.81" fill="#262626" textLength="27.61" lengthAdjust="spacingAndGlyphs" transform="rotate(0.05 85.84 129.81)">0.08</text>
<text x="121.17" y="129.81" fill="#262626" textLength="27.61" lengthAdjust="spacingAndGlyphs" transform="rotate(0.05 121.17 129.81)">0.08</text>
<text x="156.50" y="129.81" fill="#ffffff" textLength="26.81" lengthAdjust="spacingAndGlyphs" transform="rotate(0.05 156.50 129.81)">1.00</text>
<text x="191.83" y="129.81" fill="#262626" textLength="32.08" lengthAdjust="spacingAndGlyphs" transform="rotate(0.05 191.83 129.81)">-0.37</text>
<text x="227.16" y="129.81" fill="#262626" textLength="27.61" lengthAdjust="spacingAndGlyphs" transform="rotate(0.05 227.16 129.81)">0.35</text>
<text x="262.50" y="129.81" fill="#262626" textLength="32.08" lengthAdjust="spacingAndGlyphs" transform="rotate(0.05 262.50 129.81)">-0.34</text>
<text x="297.82" y="129.81" fill="#262626" textLength="27.61" lengthAdjust="spacingAndGlyphs" transform="rotate(0.05 297.82 129.81)">0.28</text>
<text x="333.16" y="129.81" fill="#262626" textLength="32.08" lengthAdjust="spacingAndGlyphs" transform="rotate(0.05 333.16 129.81)">-0.32</text>
<text x="368.49" y="129.81" fill="#262626" textLength="27.61" lengthAdjust="spacingAndGlyphs" transform="rotate(0.05 368.49 129.81)">0.08</text>
<text x="403.81" y="129.81" fill="#262626" textLength="27.61" lengthAdjust="spacingAndGlyphs" transform="rotate(0.05 403.81 129.81)">0.41</text>
<text x="439.14" y="129.81" fill="#262626" textLength="32.08" lengthAdjust="spacingAndGlyphs" transform="rotate(0.05 439.14 129.81)">-0.17</text>
<text x="474.48" y="129.81" fill="#262626" textLength="27.61" lengthAdjust="spacingAndGlyphs" transform="rotate(0.05 474.48 129.81)">0.45</text>
<text x="509.81" y="129.81" fill="#262626" textLength="32.08" lengthAdjust="spacingAndGlyphs" transform="rotate(0.05 509.81 129.81)">-0.31</text>
<text x="545.13" y="129.81" fill="#ffffff" textLength="27.61" lengthAdjust="spacingAndGlyphs" transform="rotate(0.05 545.13 129.81)">0.60</text>
<text x="580.47" y="129.81" fill="#262626" textLength="32.08" lengthAdjust="spacingAndGlyphs" transform="rotate(0.05 580.47 129.81)">-0.33</text>
<text x="615.79" y="129.81" fill="#262626" textLength="27.61" lengthAdjust="spacingAndGlyphs" transform="rotate(0.05 615.79 129.81)">0.52</text>
<text x="651.12" y="129.81" fill="#262626" textLength="32.08" lengthAdjust="spacingAndGlyphs" transform="rotate(0.05 651.12 129.81)">-0.39</text>
<text x="686.46" y="129.81" fill="#262626" textLength="27.61" lengthAdjust="spacingAndGlyphs" transform="rotate(0.05 686.46 129.81)">0.18</text>
<text x="721.78" y="129.81" fill="#262626" textLength="27.61" lengthAdjust="spacingAndGlyphs" transform="rotate(0.05 721.78 129.81)">0.20</text>
<text x="757.12" y="129.81" fill="#262626" textLength="32.08" lengthAdjust="spacingAndGlyphs" transform="rotate(0.05 757.12 129.81)">-0.25</text>
<text x="792.44" y="129.81" fill="#262626" textLength="27.61" lengthAdjust="spacingAndGlyphs" transform="rotate(0.05 792.44 129.81)">0.41</text>
<text x="827.77" y="129.81" fill="#262626" textLength="32.08" lengthAdjust="spacingAndGlyphs" transform="rotate(0.05 827.77 129.81)">-0.10</text>
<text x="863.11" y="129.81" fill="#262626" textLength="27.61" lengthAdjust="spacingAndGlyphs" transform="rotate(0.05 863.11 129.81)">0.27</text>
<text x="898.43" y="129.81" fill="#262626" textLength="27.61" lengthAdjust="spacingAndGlyphs" transform="rotate(0.05 898.43 129.81)">0.45</text>
<text x="933.76" y="129.81" fill="#262626" textLength="32.08" lengthAdjust="spacingAndGlyphs" transform="rotate(0.05 933.76 129.81)">-0.09</text>
<text x="969.10" y="129.81" fill="#262626" textLength="27.61" lengthAdjust="spacingAndGlyphs" transform="rotate(0.05 969.10 129.81)">0.45</text>
<text x="1004.42" y="129.81" fill="#262626" textLength="32.08" lengthAdjust="spacingAndGlyphs" transform="rotate(0.05 1004.42 129.81)">-0.34</text>
<text x="1039.75" y="129.81" fill="#262626" textLength="32.08" lengthAdjust="spacingAndGlyphs" transform="rotate(0.05 1039.75 129.81)">-0.32</text>
<text x="50.52" y="165.70" fill="#262626" textLength="32.08" lengthAdjust="spacingAndGlyphs" transform="rotate(0.05 50.52 165.70)">-0.20</text>
<text x="85.84" y="165.70" fill="#262626" textLength="32.08" lengthAdjust="spacingAndGlyphs" transform="rotate(0.05 85.84 165.70)">-0.18</text>
<text x="121.17" y="165.70" fill="#262626" textLength="32.08" lengthAdjust="spacingAndGlyphs" transform="rotate(0.05 121.17 165.70)">-0.10</text>
<text x="156.50" y="165.70" fill="#262626" textLength="32.08" lengthAdjust="spacingAndGlyphs" transform="rotate(0.05 156.50 165.70)">-0.37</text>
<text x="191.83" y="165.70" fill="#ffffff" textLength="26.81" lengthAdjust="spacingAndGlyphs" transform="rotate(0.05 191.83 165.70)">1.00</text>
<text x="227.16" y="165.70" fill="#262626" textLength="32.08" lengthAdjust="spacingAndGlyphs" transform="rotate(0.05 227.16 165.70)">-0.35</text>
<text x="262.50" y="165.70" fill="#262626" textLength="27.61" lengthAdjust="spacingAndGlyphs" transform="rotate(0.05 262.50 165.70)">0.30</text>
<text x="297.82" y="165.70" fill="#262626" textLength="32.08" lengthAdjust="spacingAndGlyphs" transform="rotate(0.05 297.82 165.70)">-0.27</text>
<text x="333.16" y="165.70" fill="#262626" textLength="27.61" lengthAdjust="spacingAndGlyphs" transform="rotate(0.05 333.16 165.70)">0.44</text>
<text x="368.49" y="165.70" fill="#262626" textLength="32.08" lengthAdjust="spacingAndGlyphs" transform="rotate(0.05 368.49 165.70)">-0.13</text>
<text x="403.81" y="165.70" fill="#262626" textLength="32.08" lengthAdjust="spacingAndGlyphs" transform="rotate(0.05 403.81 165.70)">-0.33</text>
<text x="439.14" y="165.70" fill="#262626" textLength="27.61" lengthAdjust="spacingAndGlyphs" transform="rotate(0.05 439.14 165.70)">0.45</text>
<text x="474.48" y="165.70" fill="#262626" textLength="32.08" lengthAdjust="spacingAndGlyphs" transform="rotate(0.05 474.48 165.70)">-0.41</text>
<text x="509.81" y="165.70" fill="#ffffff" textLength="27.61" lengthAdjust="spacingAndGlyphs" transform="rotate(0.05 509.81 165.70)">0.60</text>
<text x="545.13" y="165.70" fill="#262626" textLength="32.08" lengthAdjust="spacingAndGlyphs" transform="rotate(0.05 545.13 165.70)">-0.40</text>
<text x="580.47" y="165.70" fill="#262626" textLength="27.61" lengthAdjust="spacingAndGlyphs" transform="rotate(0.05 580.47 165.70)">0.50</text>
<text x="615.79" y="165.70" fill="#262626" textLength="32.08" lengthAdjust="spacingAndGlyphs" transform="rotate(0.05 615.79 165.70)">-0.23</text>
<text x="651.12" y="165.70" fill="#262626" textLength="27.61" lengthAdjust="spacingAndGlyphs" transform="rotate(0.05 651.12 165.70)">0.52</text>
<text x="686.46" y="165.70" fill="#262626" textLength="32.08" lengthAdjust="spacingAndGlyphs" transform="rotate(0.05 686.46 165.70)">-0.00</text>
<text x="721.78" y="165.70" fill="#262626" textLength="32.08" lengthAdjust="spacingAndGlyphs" transform="rotate(0.05 721.78 165.70)">-0.00</text>
<text x="757.12" y="165.70" fill="#262626" textLength="27.61" lengthAdjust="spacingAndGlyphs" transform="rotate(0.05 757.12 165.70)">0.29</text>
<text x="792.44" y="165.70" fill="#262626" textLength="32.08" lengthAdjust="spacingAndGlyphs" transform="rotate(0.05 792.44 165.70)">-0.33</text>
<text x="827.77" y="165.70" fill="#262626" textLength="27.61" lengthAdjust="spacingAndGlyphs" transform="rotate(0.05 827.77 165.70)">0.38</text>
<text x="863.11" y="165.70" fill="#262626" textLength="32.08" lengthAdjust="spacingAndGlyphs" transform="rotate(0.05 863.11 165.70)">-0.33</text>
<text x="898.43" y="165.70" fill="#262626" textLength="32.08" lengthAdjust="spacingAndGlyphs" transform="rotate(0.05 898.43 165.70)">-0.21</text>
<text x="933.76" y="165.70" fill="#262626" textLength="27.61" lengthAdjust="spacingAndGlyphs" transform="rotate(0.05 933.76 165.70)">0.37</text>
<text x="969.10" y="165.70" fill="#262626" textLength="32.08" lengthAdjust="spacingAndGlyphs" transform="rotate(0.05 969.10 165.70)">-0.35</text>
<text x="1004.42" y="165.70" fill="#262626" textLength="27.61" lengthAdjust="spacingAndGlyphs" transform="rotate(0.05 1004.42 165.70)">0.47</text>
<text x="1039.75" y="165.70" fill="#262626" textLength="27.61" lengthAdjust="spacingAndGlyphs" transform="rotate(0.05 1039.75 165.70)">0.07</text>
<text x="50.52" y="201.59" fill="#262626" textLength="27.61" lengthAdjust="spacingAndGlyphs" transform="rotate(0.05 50.52 201.59)">0.28</text>
<text x="85.84" y="201.59" fill="#262626" textLength="27.61" lengthAdjust="spacingAndGlyphs" transform="rotate(0.05 85.84 201.59)">0.21</text>
<text x="121.17" y="201.59" fill="#262626" textLength="27.61" lengthAdjust="spacingAndGlyphs" transform="rotate(0.05 121.17 201.59)">0.26</text>
<text x="156.50" y="201.59" fill="#262626" textLength="27.61" lengthAdjust="spacingAndGlyphs" transform="rotate(0.05 156.50 201.59)">0.35</text>
<text x="191.83" y="201.59" fill="#262626" textLength="32.08" lengthAdjust="spacingAndGlyphs" transform="rotate(0.05 191.83 201.59)">-0.35</text>
<text x="227.16" y="201.59" fill="#ffffff" textLength="26.81" lengthAdjust="spacingAndGlyphs" transform="rotate(0.05 227.16 201.59)">1.00</text>
<text x="262.50" y="201.59" fill="#262626" textLength="32.08" lengthAdjust="spacingAndGlyphs" transform="rotate(0.05 262.50 201.59)">-0.32</text>
<text x="297.82" y="201.59" fill="#262626" textLength="27.61" lengthAdjust="spacingAndGlyphs" transform="rotate(0.05 297.82 201.59)">0.10</text>
<text x="333.16" y="201.59" fill="#262626" textLength="32.08" lengthAdjust="spacingAndGlyphs" transform="rotate(0.05 333.16 201.59)">-0.29</text>
<text x="368.49" y="201.59" fill="#262626" textLength="27.61" lengthAdjust="spacingAndGlyphs" transform="rotate(0.05 368.49 201.59)">0.19</text>
<text x="403.81" y="201.59" fill="#262626" textLength="27.61" lengthAdjust="spacingAndGlyphs" transform="rotate(0.05 403.81 201.59)">0.47</text>
<text x="439.14" y="201.59" fill="#262626" textLength="32.08" lengthAdjust="spacingAndGlyphs" transform="rotate(0.05 439.14 201.59)">-0.29</text>
<text x="474.48" y="201.59" fill="#ffffff" textLength="27.61" lengthAdjust="spacingAndGlyphs" transform="rotate(0.05 474.48 201.59)">0.59</text>
<text x="509.81" y="201.59" fill="#262626" textLength="32.08" lengthAdjust="spacingAndGlyphs" transform="rotate(0.05 509.81 201.59)">-0.36</text>
<text x="545.13" y="201.59" fill="#ffffff" textLength="27.61" lengthAdjust="spacingAndGlyphs" transform="rotate(0.05 545.13 201.59)">0.61</text>
<text x="580.47" y="201.59" fill="#262626" textLength="32.08" lengthAdjust="spacingAndGlyphs" transform="rotate(0.05 580.47 201.59)">-0.37</text>
<text x="615.79" y="201.59" fill="#ffffff" textLength="27.61" lengthAdjust="spacingAndGlyphs" transform="rotate(0.05 615.79 201.59)">0.58</text>
<text x="651.12" y="201.59" fill="#262626" textLength="32.08" lengthAdjust="spacingAndGlyphs" transform="rotate(0.05 651.12 201.59)">-0.36</text>
<text x="686.46" y="201.59" fill="#262626" textLength="27.61" lengthAdjust="spacingAndGlyphs" transform="rotate(0.05 686.46 201.59)">0.25</text>
<text x="721.78" y="201.59" fill="#262626" textLength="27.61" lengthAdjust="spacingAndGlyphs" transform="rotate(0.05 721.78 201.59)">0.34</text>
<text x="757.12" y="201.59" fill="#262626" textLength="32.08" lengthAdjust="spacingAndGlyphs" transform="rotate(0.05 757.12 201.59)">-0.24</text>
<text x="792.44" y="201.59" fill="#262626" textLength="27.61" lengthAdjust="spacingAndGlyphs" transform="rotate(0.05 792.44 201.59)">0.53</text>
<text x="827.77" y="201.59" fill="#262626" textLength="32.08" lengthAdjust="spacingAndGlyphs" transform="rotate(0.05 827.77 201.59)">-0.15</text>
<text x="863.11" y="201.59" fill="#262626" textLength="27.61" lengthAdjust="spacingAndGlyphs" transform="rotate(0.05 863.11 201.59)">0.25</text>
<text x="898.43" y="201.59" fill="#262626" textLength="27.61" lengthAdjust="spacingAndGlyphs" transform="rotate(0.05 898.43 201.59)">0.40</text>
<text x="933.76" y="201.59" fill="#262626" textLength="32.08" lengthAdjust="spacingAndGlyphs" transform="rotate(0.05 933.76 201.59)">-0.09</text>
<text x="969.10" y="201.59" fill="#ffffff" textLength="27.61" lengthAdjust="spacingAndGlyphs" transform="rotate(0.05 969.10 201.59)">0.58</text>
<text x="1004.42" y="201.59" fill="#262626" textLength="32.08" lengthAdjust="spacingAndGlyphs" transform="rotate(0.05 1004.42 201.59)">-0.26</text>
<text x="1039.75" y="201.59" fill="#262626" textLength="32.08" lengthAdjust="spacingAndGlyphs" transform="rotate(0.05 1039.75 201.59)">-0.19</text>
<text x="50.52" y="237.48" fill="#262626" textLength="32.08" lengthAdjust="spacingAndGlyphs" transform="rotate(0.05 50.52 237.48)">-0.25</text>
<text x="85.84" y="237.48" fill="#262626" textLength="32.08" lengthAdjust="spacingAndGlyphs" transform="rotate(0.05 85.84 237.48)">-0.05</text>
<text x="121.17" y="237.48" fill="#262626" textLength="32.08" lengthAdjust="spacingAndGlyphs" transform="rotate(0.05 121.17 237.48)">-0.18</text>
<text x="156.50" y="237.48" fill="#262626" textLength="32.08" lengthAdjust="spacingAndGlyphs" transform="rotate(0.05 156.50 237.48)">-0.34</text>
<text x="191.83" y="237.48" fill="#262626" textLength="27.61" lengthAdjust="spacingAndGlyphs" transform="rotate(0.05 191.83 237.48)">0.30</text>
<text x="227.16" y="237.48" fill="#262626" textLength="32.08" lengthAdjust="spacingAndGlyphs" transform="rotate(0.05 227.16 237.48)">-0.32</text>
<text x="262.50" y="237.48" fill="#ffffff" textLength="26.81" lengthAdjust="spacingAndGlyphs" transform="rotate(0.05 262.50 237.48)">1.00</text>
<text x="297.82" y="237.48" fill="#262626" textLength="32.08" lengthAdjust="spacingAndGlyphs" transform="rotate(0.05 297.82 237.48)">-0.24</text>
<text x="333.16" y="237.48" fill="#262626" textLength="27.61" lengthAdjust="spacingAndGlyphs" transform="rotate(0.05 333.16 237.48)">0.41</text>
<text x="368.49" y="237.48" fill="#262626" textLength="32.08" lengthAdjust="spacingAndGlyphs" transform="rotate(0.05 368.49 237.48)">-0.32</text>
<text x="403.81" y="237.48" fill="#262626" textLength="32.08" lengthAdjust="spacingAndGlyphs" transform="rotate(0.05 403.81 237.48)">-0.22</text>
<text x="439.14" y="237.48" fill="#262626" textLength="27.61" lengthAdjust="spacingAndGlyphs" transform="rotate(0.05 439.14 237.48)">0.28</text>
<text x="474.48" y="237.48" fill="#262626" textLength="32.08" lengthAdjust="spacingAndGlyphs" transform="rotate(0.05 474.48 237.48)">-0.31</text>
<text x="509.81" y="237.48" fill="#262626" textLength="27.61" lengthAdjust="spacingAndGlyphs" transform="rotate(0.05 509.81 237.48)">0.51</text>
<text x="545.13" y="237.48" fill="#262626" textLength="32.08" lengthAdjust="spacingAndGlyphs" transform="rotate(0.05 545.13 237.48)">-0.36</text>
<text x="580.47" y="237.48" fill="#ffffff" textLength="27.61" lengthAdjust="spacingAndGlyphs" transform="rotate(0.05 580.47 237.48)">0.56</text>
<text x="615.79" y="237.48" fill="#262626" textLength="32.08" lengthAdjust="spacingAndGlyphs" transform="rotate(0.05 615.79 237.48)">-0.41</text>
<text x="651.12" y="237.48" fill="#262626" textLength="27.61" lengthAdjust="spacingAndGlyphs" transform="rotate(0.05 651.12 237.48)">0.51</text>
<text x="686.46" y="237.48" fill="#262626" textLength="27.61" lengthAdjust="spacingAndGlyphs" transform="rotate(0.05 686.46 237.48)">0.10</text>
<text x="721.78" y="237.48" fill="#262626" textLength="27.61" lengthAdjust="spacingAndGlyphs" transform="rotate(0.05 721.78 237.48)">0.09</text>
<text x="757.12" y="237.48" fill="#262626" textLength="27.61" lengthAdjust="spacingAndGlyphs" transform="rotate(0.05 757.12 237.48)">0.36</text>
<text x="792.44" y="237.48" fill="#262626" textLength="32.08" lengthAdjust="spacingAndGlyphs" transform="rotate(0.05 792.44 237.48)">-0.33</text>
<text x="827.77" y="237.48" fill="#ffffff" textLength="27.61" lengthAdjust="spacingAndGlyphs" transform="rotate(0.05 827.77 237.48)">0.54</text>
<text x="863.11" y="237.48" fill="#262626" textLength="32.08" lengthAdjust="spacingAndGlyphs" transform="rotate(0.05 863.11 237.48)">-0.37</text>
<text x="898.43" y="237.48" fill="#262626" textLength="32.08" lengthAdjust="spacingAndGlyphs" transform="rotate(0.05 898.43 237.48)">-0.38</text>
<text x="933.76" y="237.48" fill="#262626" textLength="27.61" lengthAdjust="spacingAndGlyphs" transform="rotate(0.05 933.76 237.48)">0.13</text>
<text x="969.10" y="237.48" fill="#262626" textLength="32.08" lengthAdjust="spacingAndGlyphs" transform="rotate(0.05 969.10 237.48)">-0.35</text>
<text x="1004.42" y="237.48" fill="#262626" textLength="27.61" lengthAdjust="spacingAndGlyphs" transform="rotate(0.05 1004.42 237.48)">0.50</text>
<text x="1039.75" y="237.48" fill="#262626" textLength="27.61" lengthAdjust="spacingAndGlyphs" transform="rotate(0.05 1039.75 237.48)">0.11</text>
<text x="50.52" y="273.38" fill="#262626" textLength="27.61" lengthAdjust="spacingAndGlyphs" transform="rotate(0.05 50.52 273.38)">0.03</text>
<text x="85.84" y="273.38" fill="#262626" textLength="32.08" lengthAdjust="spacingAndGlyphs" transform="rotate(0.05 85.84 273.38)">-0.05</text>
<text x="121.17" y="273.38" fill="#262626" textLength="32.08" lengthAdjust="spacingAndGlyphs" transform="rotate(0.05 121.17 273.38)">-0.08</text>
<text x="156.50" y="273.38" fill="#262626" textLength="27.61" lengthAdjust="spacingAndGlyphs" transform="rotate(0.05 156.50 273.38)">0.28</text>
<text x="191.83" y="273.38" fill="#262626" textLength="32.08" lengthAdjust="spacingAndGlyphs" transform="rotate(0.05 191.83 273.38)">-0.27</text>
<text x="227.16" y="273.38" fill="#262626" textLength="27.61" lengthAdjust="spacingAndGlyphs" transform="rotate(0.05 227.16 273.38)">0.10</text>
<text x="262.50" y="273.38" fill="#262626" textLength="32.08" lengthAdjust="spacingAndGlyphs" transform="rotate(0.05 262.50 273.38)">-0.24</text>
<text x="297.82" y="273.38" fill="#ffffff" textLength="26.81" lengthAdjust="spacingAndGlyphs" transform="rotate(0.05 297.82 273.38)">1.00</text>
<text x="333.16" y="273.38" fill="#262626" textLength="32.08" lengthAdjust="spacingAndGlyphs" transform="rotate(0.05 333.16 273.38)">-0.29</text>
<text x="368.49" y="273.38" fill="#262626" textLength="32.08" lengthAdjust="spacingAndGlyphs" transform="rotate(0.05 368.49 273.38)">-0.01</text>
<text x="403.81" y="273.38" fill="#262626" textLength="27.61" lengthAdjust="spacingAndGlyphs" transform="rotate(0.05 403.81 273.38)">0.34</text>
<text x="439.14" y="273.38" fill="#262626" textLength="32.08" lengthAdjust="spacingAndGlyphs" transform="rotate(0.05 439.14 273.38)">-0.14</text>
<text x="474.48" y="273.38" fill="#262626" textLength="27.61" lengthAdjust="spacingAndGlyphs" transform="rotate(0.05 474.48 273.38)">0.32</text>
<text x="509.81" y="273.38" fill="#262626" textLength="32.08" lengthAdjust="spacingAndGlyphs" transform="rotate(0.05 509.81 273.38)">-0.29</text>
<text x="545.13" y="273.38" fill="#262626" textLength="27.61" lengthAdjust="spacingAndGlyphs" transform="rotate(0.05 545.13 273.38)">0.41</text>
<text x="580.47" y="273.38" fill="#262626" textLength="32.08" lengthAdjust="spacingAndGlyphs" transform="rotate(0.05 580.47 273.38)">-0.30</text>
<text x="615.79" y="273.38" fill="#262626" textLength="27.61" lengthAdjust="spacingAndGlyphs" transform="rotate(0.05 615.79 273.38)">0.38</text>
<text x="651.12" y="273.38" fill="#262626" textLength="32.08" lengthAdjust="spacingAndGlyphs" transform="rotate(0.05 651.12 273.38)">-0.36</text>
<text x="686.46" y="273.38" fill="#262626" textLength="27.61" lengthAdjust="spacingAndGlyphs" transform="rotate(0.05 686.46 273.38)">0.13</text>
<text x="721.78" y="273.38" fill="#262626" textLength="27.61" lengthAdjust="spacingAndGlyphs" transform="rotate(0.05 721.78 273.38)">0.08</text>
<text x="757.12" y="273.38" fill="#262626" textLength="32.08" lengthAdjust="spacingAndGlyphs" transform="rotate(0.05 757.12 273.38)">-0.26</text>
<text x="792.44" y="273.38" fill="#262626" textLength="27.61" lengthAdjust="spacingAndGlyphs" transform="rotate(0.05 792.44 273.38)">0.32</text>
<text x="827.77" y="273.38" fill="#262626" textLength="32.08" lengthAdjust="spacingAndGlyphs" transform="rotate(0.05 827.77 273.38)">-0.16</text>
<text x="863.11" y="273.38" fill="#262626" textLength="27.61" lengthAdjust="spacingAndGlyphs" transform="rotate(0.05 863.11 273.38)">0.20</text>
<text x="898.43" y="273.38" fill="#262626" textLength="27.61" lengthAdjust="spacingAndGlyphs" transform="rotate(0.05 898.43 273.38)">0.34</text>
<text x="933.76" y="273.38" fill="#262626" textLength="32.08" lengthAdjust="spacingAndGlyphs" transform="rotate(0.05 933.76 273.38)">-0.13</text>
<text x="969.10" y="273.38" fill="#262626" textLength="27.61" lengthAdjust="spacingAndGlyphs" transform="rotate(0.05 969.10 273.38)">0.41</text>
<text x="1004.42" y="273.38" fill="#262626" textLength="32.08" lengthAdjust="spacingAndGlyphs" transform="rotate(0.05 1004.42 273.38)">-0.27</text>
<text x="1039.75" y="273.38" fill="#262626" textLength="32.08" lengthAdjust="spacingAndGlyphs" transform="rotate(0.05 1039.75 273.38)">-0.34</text>
<text x="50.52" y="309.26" fill="#262626" textLength="32.08" lengthAdjust="spacingAndGlyphs" transform="rotate(0.05 50.52 309.26)">-0.18</text>
<text x="85.84" y="309.26" fill="#262626" textLength="32.08" lengthAdjust="spacingAndGlyphs" transform="rotate(0.05 85.84 309.26)">-0.06</text>
<text x="121.17" y="309.26" fill="#262626" textLength="32.08" lengthAdjust="spacingAndGlyphs" transform="rotate(0.05 121.17 309.26)">-0.22</text>
<text x="156.50" y="309.26" fill="#262626" textLength="32.08" lengthAdjust="spacingAndGlyphs" transform="rotate(0.05 156.50 309.26)">-0.32</text>
<text x="191.83" y="309.26" fill="#262626" textLength="27.61" lengthAdjust="spacingAndGlyphs" transform="rotate(0.05 191.83 309.26)">0.44</text>
<text x="227.16" y="309.26" fill="#262626" textLength="32.08" lengthAdjust="spacingAndGlyphs" transform="rotate(0.05 227.16 309.26)">-0.29</text>
<text x="262.50" y="309.26" fill="#262626" textLength="27.61" lengthAdjust="spacingAndGlyphs" transform="rotate(0.05 262.50 309.26)">0.41</text>
<text x="297.82" y="309.26" fill="#262626" textLength="32.08" lengthAdjust="spacingAndGlyphs" transform="rotate(0.05 297.82 309.26)">-0.29</text>
<text x="333.16" y="309.26" fill="#ffffff" textLength="26.81" lengthAdjust="spacingAndGlyphs" transform="rotate(0.05 333.16 309.26)">1.00</text>
<text x="368.49" y="309.26" fill="#262626" textLength="32.08" lengthAdjust="spacingAndGlyphs" transform="rotate(0.05 368.49 309.26)">-0.20</text>
<text x="403.81" y="309.26" fill="#262626" textLength="32.08" lengthAdjust="spacingAndGlyphs" transform="rotate(0.05 403.81 309.26)">-0.40</text>
<text x="439.14" y="309.26" fill="#262626" textLength="27.61" lengthAdjust="spacingAndGlyphs" transform="rotate(0.05 439.14 309.26)">0.42</text>
<text x="474.48" y="309.26" fill="#262626" textLength="32.08" lengthAdjust="spacingAndGlyphs" transform="rotate(0.05 474.48 309.26)">-0.34</text>
<text x="509.81" y="309.26" fill="#ffffff" textLength="27.61" lengthAdjust="spacingAndGlyphs" transform="rotate(0.05 509.81 309.26)">0.58</text>
<text x="545.13" y="309.26" fill="#262626" textLength="32.08" lengthAdjust="spacingAndGlyphs" transform="rotate(0.05 545.13 309.26)">-0.40</text>
<text x="580.47" y="309.26" fill="#ffffff" textLength="27.61" lengthAdjust="spacingAndGlyphs" transform="rotate(0.05 580.47 309.26)">0.63</text>
<text x="615.79" y="309.26" fill="#262626" textLength="32.08" lengthAdjust="spacingAndGlyphs" transform="rotate(0.05 615.79 309.26)">-0.37</text>
<text x="651.12" y="309.26" fill="#ffffff" textLength="27.61" lengthAdjust="spacingAndGlyphs" transform="rotate(0.05 651.12 309.26)">0.66</text>
<text x="686.46" y="309.26" fill="#262626" textLength="27.61" lengthAdjust="spacingAndGlyphs" transform="rotate(0.05 686.46 309.26)">0.12</text>
<text x="721.78" y="309.26" fill="#262626" textLength="27.61" lengthAdjust="spacingAndGlyphs" transform="rotate(0.05 721.78 309.26)">0.10</text>
<text x="757.12" y="309.26" fill="#262626" textLength="27.61" lengthAdjust="spacingAndGlyphs" transform="rotate(0.05 757.12 309.26)">0.48</text>
<text x="792.44" y="309.26" fill="#262626" textLength="32.08" lengthAdjust="spacingAndGlyphs" transform="rotate(0.05 792.44 309.26)">-0.35</text>
<text x="827.77" y="309.26" fill="#ffffff" textLength="27.61" lengthAdjust="spacingAndGlyphs" transform="rotate(0.05 827.77 309.26)">0.59</text>
<text x="863.11" y="309.26" fill="#262626" textLength="32.08" lengthAdjust="spacingAndGlyphs" transform="rotate(0.05 863.11 309.26)">-0.26</text>
<text x="898.43" y="309.26" fill="#262626" textLength="32.08" lengthAdjust="spacingAndGlyphs" transform="rotate(0.05 898.43 309.26)">-0.30</text>
<text x="933.76" y="309.26" fill="#262626" textLength="27.61" lengthAdjust="spacingAndGlyphs" transform="rotate(0.05 933.76 309.26)">0.28</text>
<text x="969.10" y="309.26" fill="#262626" textLength="32.08" lengthAdjust="spacingAndGlyphs" transform="rotate(0.05 969.10 309.26)">-0.39</text>
<text x="1004.42" y="309.26" fill="#ffffff" textLength="27.61" lengthAdjust="spacingAndGlyphs" transform="rotate(0.05 1004.42 309.26)">0.55</text>
<text x="1039.75" y="309.26" fill="#262626" textLength="32.08" lengthAdjust="spacingAndGlyphs" transform="rotate(0.05 1039.75 309.26)">-0.22</text>
<text x="50.52" y="345.15" fill="#262626" textLength="27.61" lengthAdjust="spacingAndGlyphs" transform="rotate(0.05 50.52 345.15)">0.44</text>
<text x="85.84" y="345.15" fill="#262626" textLength="27.61" lengthAdjust="spacingAndGlyphs" transform="rotate(0.05 85.84 345.15)">0.17</text>
<text x="121.17" y="345.15" fill="#262626" textLength="27.61" lengthAdjust="spacingAndGlyphs" transform="rotate(0.05 121.17 345.15)">0.49</text>
<text x="156.50" y="345.15" fill="#262626" textLength="27.61" lengthAdjust="spacingAndGlyphs" transform="rotate(0.05 156.50 345.15)">0.08</text>
<text x="191.83" y="345.15" fill="#262626" textLength="32.08" lengthAdjust="spacingAndGlyphs" transform="rotate(0.05 191.83 345.15)">-0.13</text>
<text x="227.16" y="345.15" fill="#262626" textLength="27.61" lengthAdjust="spacingAndGlyphs" transform="rotate(0.05 227.16 345.15)">0.19</text>
<text x="262.50" y="345.15" fill="#262626" textLength="32.08" lengthAdjust="spacingAndGlyphs" transform="rotate(0.05 262.50 345.15)">-0.32</text>
<text x="297.82" y="345.15" fill="#262626" textLength="32.08" lengthAdjust="spacingAndGlyphs" transform="rotate(0.05 297.82 345.15)">-0.01</text>
<text x="333.16" y="345.15" fill="#262626" textLength="32.08" lengthAdjust="spacingAndGlyphs" transform="rotate(0.05 333.16 345.15)">-0.20</text>
<text x="368.49" y="345.15" fill="#ffffff" textLength="26.81" lengthAdjust="spacingAndGlyphs" transform="rotate(0.05 368.49 345.15)">1.00</text>
<text x="403.81" y="345.15" fill="#262626" textLength="32.08" lengthAdjust="spacingAndGlyphs" transform="rotate(0.05 403.81 345.15)">-0.01</text>
<text x="439.14" y="345.15" fill="#262626" textLength="32.08" lengthAdjust="spacingAndGlyphs" transform="rotate(0.05 439.14 345.15)">-0.13</text>
<text x="474.48" y="345.15" fill="#262626" textLength="27.61" lengthAdjust="spacingAndGlyphs" transform="rotate(0.05 474.48 345.15)">0.14</text>
<text x="509.81" y="345.15" fill="#262626" textLength="32.08" lengthAdjust="spacingAndGlyphs" transform="rotate(0.05 509.81 345.15)">-0.26</text>
<text x="545.13" y="345.15" fill="#262626" textLength="27.61" lengthAdjust="spacingAndGlyphs" transform="rotate(0.05 545.13 345.15)">0.21</text>
<text x="580.47" y="345.15" fill="#262626" textLength="32.08" lengthAdjust="spacingAndGlyphs" transform="rotate(0.05 580.47 345.15)">-0.18</text>
<text x="615.79" y="345.15" fill="#262626" textLength="27.61" lengthAdjust="spacingAndGlyphs" transform="rotate(0.05 615.79 345.15)">0.16</text>
<text x="651.12" y="345.15" fill="#262626" textLength="32.08" lengthAdjust="spacingAndGlyphs" transform="rotate(0.05 651.12 345.15)">-0.21</text>
<text x="686.46" y="345.15" fill="#262626" textLength="32.08" lengthAdjust="spacingAndGlyphs" transform="rotate(0.05 686.46 345.15)">-0.08</text>
<text x="721.78" y="345.15" fill="#262626" textLength="27.61" lengthAdjust="spacingAndGlyphs" transform="rotate(0.05 721.78 345.15)">0.17</text>
<text x="757.12" y="345.15" fill="#262626" textLength="32.08" lengthAdjust="spacingAndGlyphs" transform="rotate(0.05 757.12 345.15)">-0.07</text>
<text x="792.44" y="345.15" fill="#262626" textLength="27.61" lengthAdjust="spacingAndGlyphs" transform="rotate(0.05 792.44 345.15)">0.21</text>
<text x="827.77" y="345.15" fill="#262626" textLength="32.08" lengthAdjust="spacingAndGlyphs" transform="rotate(0.05 827.77 345.15)">-0.31</text>
<text x="863.11" y="345.15" fill="#262626" textLength="27.61" lengthAdjust="spacingAndGlyphs" transform="rotate(0.05 863.11 345.15)">0.21</text>
<text x="898.43" y="345.15" fill="#262626" textLength="27.61" lengthAdjust="spacingAndGlyphs" transform="rotate(0.05 898.43 345.15)">0.19</text>
<text x="933.76" y="345.15" fill="#262626" textLength="32.08" lengthAdjust="spacingAndGlyphs" transform="rotate(0.05 933.76 345.15)">-0.00</text>
<text x="969.10" y="345.15" fill="#262626" textLength="27.61" lengthAdjust="spacingAndGlyphs" transform="rotate(0.05 969.10 345.15)">0.18</text>
<text x="1004.42" y="345.15" fill="#262626" textLength="32.08" lengthAdjust="spacingAndGlyphs" transform="rotate(0.05 1004.42 345.15)">-0.33</text>
<text x="1039.75" y="345.15" fill="#262626" textLength="27.61" lengthAdjust="spacingAndGlyphs" transform="rotate(0.05 1039.75 345.15)">0.07</text>
<text x="50.52" y="381.05" fill="#262626" textLength="27.61" lengthAdjust="spacingAndGlyphs" transform="rotate(0.05 50.52 381.05)">0.20</text>
<text x="85.84" y="381.05" fill="#262626" textLength="27.61" lengthAdjust="spacingAndGlyphs" transform="rotate(0.05 85.84 381.05)">0.05</text>
<text x="121.17" y="381.05" fill="#262626" textLength="27.61" lengthAdjust="spacingAndGlyphs" transform="rotate(0.05 121.17 381.05)">0.21</text>
<text x="156.50" y="381.05" fill="#262626" textLength="27.61" lengthAdjust="spacingAndGlyphs" transform="rotate(0.05 156.50 381.05)">0.41</text>
<text x="191.83" y="381.05" fill="#262626" textLength="32.08" lengthAdjust="spacingAndGlyphs" transform="rotate(0.05 191.83 381.05)">-0.33</text>
<text x="227.16" y="381.05" fill="#262626" textLength="27.61" lengthAdjust="spacingAndGlyphs" transform="rotate(0.05 227.16 381.05)">0.47</text>
<text x="262.50" y="381.05" fill="#262626" textLength="32.08" lengthAdjust="spacingAndGlyphs" transform="rotate(0.05 262.50 381.05)">-0.22</text>
<text x="297.82" y="381.05" fill="#262626" textLength="27.61" lengthAdjust="spacingAndGlyphs" transform="rotate(0.05 297.82 381.05)">0.34</text>
<text x="333.16" y="381.05" fill="#262626" textLength="32.08" lengthAdjust="spacingAndGlyphs" transform="rotate(0.05 333.16 381.05)">-0.40</text>
<text x="368.49" y="381.05" fill="#262626" textLength="32.08" lengthAdjust="spacingAndGlyphs" transform="rotate(0.05 368.49 381.05)">-0.01</text>
<text x="403.81" y="381.05" fill="#ffffff" textLength="26.81" lengthAdjust="spacingAndGlyphs" transform="rotate(0.05 403.81 381.05)">1.00</text>
<text x="439.14" y="381.05" fill="#262626" textLength="32.08" lengthAdjust="spacingAndGlyphs" transform="rotate(0.05 439.14 381.05)">-0.42</text>
<text x="474.48" y="381.05" fill="#ffffff" textLength="27.61" lengthAdjust="spacingAndGlyphs" transform="rotate(0.05 474.48 381.05)">0.55</text>
<text x="509.81" y="381.05" fill="#262626" textLength="32.08" lengthAdjust="spacingAndGlyphs" transform="rotate(0.05 509.81 381.05)">-0.48</text>
<text x="545.13" y="381.05" fill="#ffffff" textLength="27.61" lengthAdjust="spacingAndGlyphs" transform="rotate(0.05 545.13 381.05)">0.58</text>
<text x="580.47" y="381.05" fill="#262626" textLength="32.08" lengthAdjust="spacingAndGlyphs" transform="rotate(0.05 580.47 381.05)">-0.44</text>
<text x="615.79" y="381.05" fill="#ffffff" textLength="27.61" lengthAdjust="spacingAndGlyphs" transform="rotate(0.05 615.79 381.05)">0.76</text>
<text x="651.12" y="381.05" fill="#262626" textLength="32.08" lengthAdjust="spacingAndGlyphs" transform="rotate(0.05 651.12 381.05)">-0.42</text>
<text x="686.46" y="381.05" fill="#262626" textLength="27.61" lengthAdjust="spacingAndGlyphs" transform="rotate(0.05 686.46 381.05)">0.09</text>
<text x="721.78" y="381.05" fill="#262626" textLength="27.61" lengthAdjust="spacingAndGlyphs" transform="rotate(0.05 721.78 381.05)">0.33</text>
<text x="757.12" y="381.05" fill="#262626" textLength="32.08" lengthAdjust="spacingAndGlyphs" transform="rotate(0.05 757.12 381.05)">-0.39</text>
<text x="792.44" y="381.05" fill="#262626" textLength="27.61" lengthAdjust="spacingAndGlyphs" transform="rotate(0.05 792.44 381.05)">0.36</text>
<text x="827.77" y="381.05" fill="#262626" textLength="32.08" lengthAdjust="spacingAndGlyphs" transform="rotate(0.05 827.77 381.05)">-0.11</text>
<text x="863.11" y="381.05" fill="#262626" textLength="27.61" lengthAdjust="spacingAndGlyphs" transform="rotate(0.05 863.11 381.05)">0.36</text>
<text x="898.43" y="381.05" fill="#262626" textLength="27.61" lengthAdjust="spacingAndGlyphs" transform="rotate(0.05 898.43 381.05)">0.50</text>
<text x="933.76" y="381.05" fill="#262626" textLength="32.08" lengthAdjust="spacingAndGlyphs" transform="rotate(0.05 933.76 381.05)">-0.21</text>
<text x="969.10" y="381.05" fill="#ffffff" textLength="27.61" lengthAdjust="spacingAndGlyphs" transform="rotate(0.05 969.10 381.05)">0.58</text>
<text x="1004.42" y="381.05" fill="#262626" textLength="32.08" lengthAdjust="spacingAndGlyphs" transform="rotate(0.05 1004.42 381.05)">-0.33</text>
<text x="1039.75" y="381.05" fill="#262626" textLength="32.08" lengthAdjust="spacingAndGlyphs" transform="rotate(0.05 1039.75 381.05)">-0.21</text>
<text x="50.52" y="416.94" fill="#262626" textLength="32.08" lengthAdjust="spacingAndGlyphs" transform="rotate(0.05 50.52 416.94)">-0.24</text>
<text x="85.84" y="416.94" fill="#262626" textLength="32.08" lengthAdjust="spacingAndGlyphs" transform="rotate(0.05 85.84 416.94)">-0.34</text>
<text x="121.17" y="416.94" fill="#262626" textLength="32.08" lengthAdjust="spacingAndGlyphs" transform="rotate(0.05 121.17 416.94)">-0.03</text>
<text x="156.50" y="416.94" fill="#262626" textLength="32.08" lengthAdjust="spacingAndGlyphs" transform="rotate(0.05 156.50 416.94)">-0.17</text>
<text x="191.83" y="416.94" fill="#262626" textLength="27.61" lengthAdjust="spacingAndGlyphs" transform="rotate(0.05 191.83 416.94)">0.45</text>
<text x="227.16" y="416.94" fill="#262626" textLength="32.08" lengthAdjust="spacingAndGlyphs" transform="rotate(0.05 227.16 416.94)">-0.29</text>
<text x="262.50" y="416.94" fill="#262626" textLength="27.61" lengthAdjust="spacingAndGlyphs" transform="rotate(0.05 262.50 416.94)">0.28</text>
<text x="297.82" y="416.94" fill="#262626" textLength="32.08" lengthAdjust="spacingAndGlyphs" transform="rotate(0.05 297.82 416.94)">-0.14</text>
<text x="333.16" y="416.94" fill="#262626" textLength="27.61" lengthAdjust="spacingAndGlyphs" transform="rotate(0.05 333.16 416.94)">0.42</text>
<text x="368.49" y="416.94" fill="#262626" textLength="32.08" lengthAdjust="spacingAndGlyphs" transform="rotate(0.05 368.49 416.94)">-0.13</text>
<text x="403.81" y="416.94" fill="#262626" textLength="32.08" lengthAdjust="spacingAndGlyphs" transform="rotate(0.05 403.81 416.94)">-0.42</text>
<text x="439.14" y="416.94" fill="#ffffff" textLength="26.81" lengthAdjust="spacingAndGlyphs" transform="rotate(0.05 439.14 416.94)">1.00</text>
<text x="474.48" y="416.94" fill="#262626" textLength="32.08" lengthAdjust="spacingAndGlyphs" transform="rotate(0.05 474.48 416.94)">-0.37</text>
<text x="509.81" y="416.94" fill="#262626" textLength="27.61" lengthAdjust="spacingAndGlyphs" transform="rotate(0.05 509.81 416.94)">0.49</text>
<text x="545.13" y="416.94" fill="#262626" textLength="32.08" lengthAdjust="spacingAndGlyphs" transform="rotate(0.05 545.13 416.94)">-0.35</text>
<text x="580.47" y="416.94" fill="#ffffff" textLength="27.61" lengthAdjust="spacingAndGlyphs" transform="rotate(0.05 580.47 416.94)">0.54</text>
<text x="615.79" y="416.94" fill="#262626" textLength="32.08" lengthAdjust="spacingAndGlyphs" transform="rotate(0.05 615.79 416.94)">-0.25</text>
<text x="651.12" y="416.94" fill="#262626" textLength="27.61" lengthAdjust="spacingAndGlyphs" transform="rotate(0.05 651.12 416.94)">0.49</text>
<text x="686.46" y="416.94" fill="#262626" textLength="27.61" lengthAdjust="spacingAndGlyphs" transform="rotate(0.05 686.46 416.94)">0.09</text>
<text x="721.78" y="416.94" fill="#262626" textLength="27.61" lengthAdjust="spacingAndGlyphs" transform="rotate(0.05 721.78 416.94)">0.09</text>
<text x="757.12" y="416.94" fill="#262626" textLength="27.61" lengthAdjust="spacingAndGlyphs" transform="rotate(0.05 757.12 416.94)">0.44</text>
<text x="792.44" y="416.94" fill="#262626" textLength="32.08" lengthAdjust="spacingAndGlyphs" transform="rotate(0.05 792.44 416.94)">-0.20</text>
<text x="827.77" y="416.94" fill="#262626" textLength="27.61" lengthAdjust="spacingAndGlyphs" transform="rotate(0.05 827.77 416.94)">0.38</text>
<text x="863.11" y="416.94" fill="#262626" textLength="32.08" lengthAdjust="spacingAndGlyphs" transform="rotate(0.05 863.11 416.94)">-0.34</text>
<text x="898.43" y="416.94" fill="#262626" textLength="32.08" lengthAdjust="spacingAndGlyphs" transform="rotate(0.05 898.43 416.94)">-0.29</text>
<text x="933.76" y="416.94" fill="#262626" textLength="27.61" lengthAdjust="spacingAndGlyphs" transform="rotate(0.05 933.76 416.94)">0.31</text>
<text x="969.10" y="416.94" fill="#262626" textLength="32.08" lengthAdjust="spacingAndGlyphs" transform="rotate(0.05 969.10 416.94)">-0.30</text>
<text x="1004.42" y="416.94" fill="#262626" textLength="27.61" lengthAdjust="spacingAndGlyphs" transform="rotate(0.05 1004.42 416.94)">0.41</text>
<text x="1039.75" y="416.94" fill="#262626" textLength="32.08" lengthAdjust="spacingAndGlyphs" transform="rotate(0.05 1039.75 416.94)">-0.06</text>
<text x="50.52" y="452.82" fill="#262626" textLength="27.61" lengthAdjust="spacingAndGlyphs" transform="rotate(0.05 50.52 452.82)">0.30</text>
<text x="85.84" y="452.82" fill="#262626" textLength="27.61" lengthAdjust="spacingAndGlyphs" transform="rotate(0.05 85.84 452.82)">0.02</text>
<text x="121.17" y="452.82" fill="#262626" textLength="27.61" lengthAdjust="spacingAndGlyphs" transform="rotate(0.05 121.17 452.82)">0.08</text>
<text x="156.50" y="452.82" fill="#262626" textLength="27.61" lengthAdjust="spacingAndGlyphs" transform="rotate(0.05 156.50 452.82)">0.45</text>
<text x="191.83" y="452.82" fill="#262626" textLength="32.08" lengthAdjust="spacingAndGlyphs" transform="rotate(0.05 191.83 452.82)">-0.41</text>
<text x="227.16" y="452.82" fill="#ffffff" textLength="27.61" lengthAdjust="spacingAndGlyphs" transform="rotate(0.05 227.16 452.82)">0.59</text>
<text x="262.50" y="452.82" fill="#262626" textLength="32.08" lengthAdjust="spacingAndGlyphs" transform="rotate(0.05 262.50 452.82)">-0.31</text>
<text x="297.82" y="452.82" fill="#262626" textLength="27.61" lengthAdjust="spacingAndGlyphs" transform="rotate(0.05 297.82 452.82)">0.32</text>
<text x="333.16" y="452.82" fill="#262626" textLength="32.08" lengthAdjust="spacingAndGlyphs" transform="rotate(0.05 333.16 452.82)">-0.34</text>
<text x="368.49" y="452.82" fill="#262626" textLength="27.61" lengthAdjust="spacingAndGlyphs" transform="rotate(0.05 368.49 452.82)">0.14</text>
<text x="403.81" y="452.82" fill="#ffffff" textLength="27.61" lengthAdjust="spacingAndGlyphs" transform="rotate(0.05 403.81 452.82)">0.55</text>
<text x="439.14" y="452.82" fill="#262626" textLength="32.08" lengthAdjust="spacingAndGlyphs" transform="rotate(0.05 439.14 452.82)">-0.37</text>
<text x="474.48" y="452.82" fill="#ffffff" textLength="26.81" lengthAdjust="spacingAndGlyphs" transform="rotate(0.05 474.48 452.82)">1.00</text>
<text x="509.81" y="452.82" fill="#262626" textLength="32.08" lengthAdjust="spacingAndGlyphs" transform="rotate(0.05 509.81 452.82)">-0.50</text>
<text x="545.13" y="452.82" fill="#ffffff" textLength="27.61" lengthAdjust="spacingAndGlyphs" transform="rotate(0.05 545.13 452.82)">0.61</text>
<text x="580.47" y="452.82" fill="#262626" textLength="32.08" lengthAdjust="spacingAndGlyphs" transform="rotate(0.05 580.47 452.82)">-0.52</text>
<text x="615.79" y="452.82" fill="#ffffff" textLength="27.61" lengthAdjust="spacingAndGlyphs" transform="rotate(0.05 615.79 452.82)">0.67</text>
<text x="651.12" y="452.82" fill="#262626" textLength="32.08" lengthAdjust="spacingAndGlyphs" transform="rotate(0.05 651.12 452.82)">-0.43</text>
<text x="686.46" y="452.82" fill="#262626" textLength="27.61" lengthAdjust="spacingAndGlyphs" transform="rotate(0.05 686.46 452.82)">0.30</text>
<text x="721.78" y="452.82" fill="#262626" textLength="27.61" lengthAdjust="spacingAndGlyphs" transform="rotate(0.05 721.78 452.82)">0.33</text>
<text x="757.12" y="452.82" fill="#262626" textLength="32.08" lengthAdjust="spacingAndGlyphs" transform="rotate(0.05 757.12 452.82)">-0.38</text>
<text x="792.44" y="452.82" fill="#ffffff" textLength="27.61" lengthAdjust="spacingAndGlyphs" transform="rotate(0.05 792.44 452.82)">0.57</text>
<text x="827.77" y="452.82" fill="#262626" textLength="32.08" lengthAdjust="spacingAndGlyphs" transform="rotate(0.05 827.77 452.82)">-0.16</text>
<text x="863.11" y="452.82" fill="#262626" textLength="27.61" lengthAdjust="spacingAndGlyphs" transform="rotate(0.05 863.11 452.82)">0.40</text>
<text x="898.43" y="452.82" fill="#ffffff" textLength="27.61" lengthAdjust="spacingAndGlyphs" transform="rotate(0.05 898.43 452.82)">0.63</text>
<text x="933.76" y="452.82" fill="#262626" textLength="32.08" lengthAdjust="spacingAndGlyphs" transform="rotate(0.05 933.76 452.82)">-0.21</text>
<text x="969.10" y="452.82" fill="#ffffff" textLength="27.61" lengthAdjust="spacingAndGlyphs" transform="rotate(0.05 969.10 452.82)">0.69</text>
<text x="1004.42" y="452.82" fill="#262626" textLength="32.08" lengthAdjust="spacingAndGlyphs" transform="rotate(0.05 1004.42 452.82)">-0.38</text>
<text x="1039.75" y="452.82" fill="#262626" textLength="32.08" lengthAdjust="spacingAndGlyphs" transform="rotate(0.05 1039.75 452.82)">-0.23</text>
<text x="50.52" y="488.71" fill="#262626" textLength="32.08" lengthAdjust="spacingAndGlyphs" transform="rotate(0.05 50.52 488.71)">-0.37</text>
<text x="85.84" y="488.71" fill="#262626" textLength="32.08" lengthAdjust="spacingAndGlyphs" transform="rotate(0.05 85.84 488.71)">-0.08</text>
<text x="121.17" y="488.71" fill="#262626" textLength="32.08" lengthAdjust="spacingAndGlyphs" transform="rotate(0.05 121.17 488.71)">-0.31</text>
<text x="156.50" y="488.71" fill="#262626" textLength="32.08" lengthAdjust="spacingAndGlyphs" transform="rotate(0.05 156.50 488.71)">-0.31</text>
<text x="191.83" y="488.71" fill="#ffffff" textLength="27.61" lengthAdjust="spacingAndGlyphs" transform="rotate(0.05 191.83 488.71)">0.60</text>
<text x="227.16" y="488.71" fill="#262626" textLength="32.08" lengthAdjust="spacingAndGlyphs" transform="rotate(0.05 227.16 488.71)">-0.36</text>
<text x="262.50" y="488.71" fill="#262626" textLength="27.61" lengthAdjust="spacingAndGlyphs" transform="rotate(0.05 262.50 488.71)">0.51</text>
<text x="297.82" y="488.71" fill="#262626" textLength="32.08" lengthAdjust="spacingAndGlyphs" transform="rotate(0.05 297.82 488.71)">-0.29</text>
<text x="333.16" y="488.71" fill="#ffffff" textLength="27.61" lengthAdjust="spacingAndGlyphs" transform="rotate(0.05 333.16 488.71)">0.58</text>
<text x="368.49" y="488.71" fill="#262626" textLength="32.08" lengthAdjust="spacingAndGlyphs" transform="rotate(0.05 368.49 488.71)">-0.26</text>
<text x="403.81" y="488.71" fill="#262626" textLength="32.08" lengthAdjust="spacingAndGlyphs" transform="rotate(0.05 403.81 488.71)">-0.48</text>
<text x="439.14" y="488.71" fill="#262626" textLength="27.61" lengthAdjust="spacingAndGlyphs" transform="rotate(0.05 439.14 488.71)">0.49</text>
<text x="474.48" y="488.71" fill="#262626" textLength="32.08" lengthAdjust="spacingAndGlyphs" transform="rotate(0.05 474.48 488.71)">-0.50</text>
<text x="509.81" y="488.71" fill="#ffffff" textLength="26.81" lengthAdjust="spacingAndGlyphs" transform="rotate(0.05 509.81 488.71)">1.00</text>
<text x="545.13" y="488.71" fill="#262626" textLength="32.08" lengthAdjust="spacingAndGlyphs" transform="rotate(0.05 545.13 488.71)">-0.35</text>
<text x="580.47" y="488.71" fill="#ffffff" textLength="27.61" lengthAdjust="spacingAndGlyphs" transform="rotate(0.05 580.47 488.71)">0.61</text>
<text x="615.79" y="488.71" fill="#262626" textLength="32.08" lengthAdjust="spacingAndGlyphs" transform="rotate(0.05 615.79 488.71)">-0.45</text>
<text x="651.12" y="488.71" fill="#ffffff" textLength="27.61" lengthAdjust="spacingAndGlyphs" transform="rotate(0.05 651.12 488.71)">0.64</text>
<text x="686.46" y="488.71" fill="#262626" textLength="27.61" lengthAdjust="spacingAndGlyphs" transform="rotate(0.05 686.46 488.71)">0.09</text>
<text x="721.78" y="488.71" fill="#262626" textLength="27.61" lengthAdjust="spacingAndGlyphs" transform="rotate(0.05 721.78 488.71)">0.05</text>
<text x="757.12" y="488.71" fill="#ffffff" textLength="27.61" lengthAdjust="spacingAndGlyphs" transform="rotate(0.05 757.12 488.71)">0.60</text>
<text x="792.44" y="488.71" fill="#262626" textLength="32.08" lengthAdjust="spacingAndGlyphs" transform="rotate(0.05 792.44 488.71)">-0.28</text>
<text x="827.77" y="488.71" fill="#262626" textLength="27.61" lengthAdjust="spacingAndGlyphs" transform="rotate(0.05 827.77 488.71)">0.52</text>
<text x="863.11" y="488.71" fill="#262626" textLength="32.08" lengthAdjust="spacingAndGlyphs" transform="rotate(0.05 863.11 488.71)">-0.50</text>
<text x="898.43" y="488.71" fill="#262626" textLength="32.08" lengthAdjust="spacingAndGlyphs" transform="rotate(0.05 898.43 488.71)">-0.26</text>
<text x="933.76" y="488.71" fill="#262626" textLength="27.61" lengthAdjust="spacingAndGlyphs" transform="rotate(0.05 933.76 488.71)">0.41</text>
<text x="969.10" y="488.71" fill="#262626" textLength="32.08" lengthAdjust="spacingAndGlyphs" transform="rotate(0.05 969.10 488.71)">-0.35</text>
<text x="1004.42" y="488.71" fill="#ffffff" textLength="27.61" lengthAdjust="spacingAndGlyphs" transform="rotate(0.05 1004.42 488.71)">0.68</text>
<text x="1039.75" y="488.71" fill="#262626" textLength="32.08" lengthAdjust="spacingAndGlyphs" transform="rotate(0.05 1039.75 488.71)">-0.11</text>
<text x="50.52" y="524.61" fill="#262626" textLength="27.61" lengthAdjust="spacingAndGlyphs" transform="rotate(0.05 50.52 524.61)">0.24</text>
<text x="85.84" y="524.61" fill="#262626" textLength="27.61" lengthAdjust="spacingAndGlyphs" transform="rotate(0.05 85.84 524.61)">0.11</text>
<text x="121.17" y="524.61" fill="#262626" textLength="27.61" lengthAdjust="spacingAndGlyphs" transform="rotate(0.05 121.17 524.61)">0.19</text>
<text x="156.50" y="524.61" fill="#ffffff" textLength="27.61" lengthAdjust="spacingAndGlyphs" transform="rotate(0.05 156.50 524.61)">0.60</text>
<text x="191.83" y="524.61" fill="#262626" textLength="32.08" lengthAdjust="spacingAndGlyphs" transform="rotate(0.05 191.83 524.61)">-0.40</text>
<text x="227.16" y="524.61" fill="#ffffff" textLength="27.61" lengthAdjust="spacingAndGlyphs" transform="rotate(0.05 227.16 524.61)">0.61</text>
<text x="262.50" y="524.61" fill="#262626" textLength="32.08" lengthAdjust="spacingAndGlyphs" transform="rotate(0.05 262.50 524.61)">-0.36</text>
<text x="297.82" y="524.61" fill="#262626" textLength="27.61" lengthAdjust="spacingAndGlyphs" transform="rotate(0.05 297.82 524.61)">0.41</text>
<text x="333.16" y="524.61" fill="#262626" textLength="32.08" lengthAdjust="spacingAndGlyphs" transform="rotate(0.05 333.16 524.61)">-0.40</text>
<text x="368.49" y="524.61" fill="#262626" textLength="27.61" lengthAdjust="spacingAndGlyphs" transform="rotate(0.05 368.49 524.61)">0.21</text>
<text x="403.81" y="524.61" fill="#ffffff" textLength="27.61" lengthAdjust="spacingAndGlyphs" transform="rotate(0.05 403.81 524.61)">0.58</text>
<text x="439.14" y="524.61" fill="#262626" textLength="32.08" lengthAdjust="spacingAndGlyphs" transform="rotate(0.05 439.14 524.61)">-0.35</text>
<text x="474.48" y="524.61" fill="#ffffff" textLength="27.61" lengthAdjust="spacingAndGlyphs" transform="rotate(0.05 474.48 524.61)">0.61</text>
<text x="509.81" y="524.61" fill="#262626" textLength="32.08" lengthAdjust="spacingAndGlyphs" transform="rotate(0.05 509.81 524.61)">-0.35</text>
<text x="545.13" y="524.61" fill="#ffffff" textLength="26.81" lengthAdjust="spacingAndGlyphs" transform="rotate(0.05 545.13 524.61)">1.00</text>
<text x="580.47" y="524.61" fill="#262626" textLength="32.08" lengthAdjust="spacingAndGlyphs" transform="rotate(0.05 580.47 524.61)">-0.50</text>
<text x="615.79" y="524.61" fill="#ffffff" textLength="27.61" lengthAdjust="spacingAndGlyphs" transform="rotate(0.05 615.79 524.61)">0.70</text>
<text x="651.12" y="524.61" fill="#262626" textLength="32.08" lengthAdjust="spacingAndGlyphs" transform="rotate(0.05 651.12 524.61)">-0.42</text>
<text x="686.46" y="524.61" fill="#262626" textLength="27.61" lengthAdjust="spacingAndGlyphs" transform="rotate(0.05 686.46 524.61)">0.19</text>
<text x="721.78" y="524.61" fill="#262626" textLength="27.61" lengthAdjust="spacingAndGlyphs" transform="rotate(0.05 721.78 524.61)">0.32</text>
<text x="757.12" y="524.61" fill="#262626" textLength="32.08" lengthAdjust="spacingAndGlyphs" transform="rotate(0.05 757.12 524.61)">-0.31</text>
<text x="792.44" y="524.61" fill="#ffffff" textLength="27.61" lengthAdjust="spacingAndGlyphs" transform="rotate(0.05 792.44 524.61)">0.73</text>
<text x="827.77" y="524.61" fill="#262626" textLength="32.08" lengthAdjust="spacingAndGlyphs" transform="rotate(0.05 827.77 524.61)">-0.31</text>
<text x="863.11" y="524.61" fill="#262626" textLength="27.61" lengthAdjust="spacingAndGlyphs" transform="rotate(0.05 863.11 524.61)">0.36</text>
<text x="898.43" y="524.61" fill="#ffffff" textLength="27.61" lengthAdjust="spacingAndGlyphs" transform="rotate(0.05 898.43 524.61)">0.57</text>
<text x="933.76" y="524.61" fill="#262626" textLength="32.08" lengthAdjust="spacingAndGlyphs" transform="rotate(0.05 933.76 524.61)">-0.27</text>
<text x="969.10" y="524.61" fill="#ffffff" textLength="27.61" lengthAdjust="spacingAndGlyphs" transform="rotate(0.05 969.10 524.61)">0.70</text>
<text x="1004.42" y="524.61" fill="#262626" textLength="32.08" lengthAdjust="spacingAndGlyphs" transform="rotate(0.05 1004.42 524.61)">-0.45</text>
<text x="1039.75" y="524.61" fill="#262626" textLength="32.08" lengthAdjust="spacingAndGlyphs" transform="rotate(0.05 1039.75 524.61)">-0.44</text>
<text x="50.52" y="560.50" fill="#262626" textLength="32.08" lengthAdjust="spacingAndGlyphs" transform="rotate(0.05 50.52 560.50)">-0.30</text>
<text x="85.84" y="560.50" fill="#262626" textLength="32.08" lengthAdjust="spacingAndGlyphs" transform="rotate(0.05 85.84 560.50)">-0.11</text>
<text x="121.17" y="560.50" fill="#262626" textLength="32.08" lengthAdjust="spacingAndGlyphs" transform="rotate(0.05 121.17 560.50)">-0.16</text>
<text x="156.50" y="560.50" fill="#262626" textLength="32.08" lengthAdjust="spacingAndGlyphs" transform="rotate(0.05 156.50 560.50)">-0.33</text>
<text x="191.83" y="560.50" fill="#262626" textLength="27.61" lengthAdjust="spacingAndGlyphs" transform="rotate(0.05 191.83 560.50)">0.50</text>
<text x="227.16" y="560.50" fill="#262626" textLength="32.08" lengthAdjust="spacingAndGlyphs" transform="rotate(0.05 227.16 560.50)">-0.37</text>
<text x="262.50" y="560.50" fill="#ffffff" textLength="27.61" lengthAdjust="spacingAndGlyphs" transform="rotate(0.05 262.50 560.50)">0.56</text>
<text x="297.82" y="560.50" fill="#262626" textLength="32.08" lengthAdjust="spacingAndGlyphs" transform="rotate(0.05 297.82 560.50)">-0.30</text>
<text x="333.16" y="560.50" fill="#ffffff" textLength="27.61" lengthAdjust="spacingAndGlyphs" transform="rotate(0.05 333.16 560.50)">0.63</text>
<text x="368.49" y="560.50" fill="#262626" textLength="32.08" lengthAdjust="spacingAndGlyphs" transform="rotate(0.05 368.49 560.50)">-0.18</text>
<text x="403.81" y="560.50" fill="#262626" textLength="32.08" lengthAdjust="spacingAndGlyphs" transform="rotate(0.05 403.81 560.50)">-0.44</text>
<text x="439.14" y="560.50" fill="#ffffff" textLength="27.61" lengthAdjust="spacingAndGlyphs" transform="rotate(0.05 439.14 560.50)">0.54</text>
<text x="474.48" y="560.50" fill="#262626" textLength="32.08" lengthAdjust="spacingAndGlyphs" transform="rotate(0.05 474.48 560.50)">-0.52</text>
<text x="509.81" y="560.50" fill="#ffffff" textLength="27.61" lengthAdjust="spacingAndGlyphs" transform="rotate(0.05 509.81 560.50)">0.61</text>
<text x="545.13" y="560.50" fill="#262626" textLength="32.08" lengthAdjust="spacingAndGlyphs" transform="rotate(0.05 545.13 560.50)">-0.50</text>
<text x="580.47" y="560.50" fill="#ffffff" textLength="26.81" lengthAdjust="spacingAndGlyphs" transform="rotate(0.05 580.47 560.50)">1.00</text>
<text x="615.79" y="560.50" fill="#262626" textLength="32.08" lengthAdjust="spacingAndGlyphs" transform="rotate(0.05 615.79 560.50)">-0.47</text>
<text x="651.12" y="560.50" fill="#ffffff" textLength="27.61" lengthAdjust="spacingAndGlyphs" transform="rotate(0.05 651.12 560.50)">0.68</text>
<text x="686.46" y="560.50" fill="#262626" textLength="27.61" lengthAdjust="spacingAndGlyphs" transform="rotate(0.05 686.46 560.50)">0.06</text>
<text x="721.78" y="560.50" fill="#262626" textLength="27.61" lengthAdjust="spacingAndGlyphs" transform="rotate(0.05 721.78 560.50)">0.16</text>
<text x="757.12" y="560.50" fill="#ffffff" textLength="27.61" lengthAdjust="spacingAndGlyphs" transform="rotate(0.05 757.12 560.50)">0.54</text>
<text x="792.44" y="560.50" fill="#262626" textLength="32.08" lengthAdjust="spacingAndGlyphs" transform="rotate(0.05 792.44 560.50)">-0.35</text>
<text x="827.77" y="560.50" fill="#262626" textLength="27.61" lengthAdjust="spacingAndGlyphs" transform="rotate(0.05 827.77 560.50)">0.50</text>
<text x="863.11" y="560.50" fill="#262626" textLength="32.08" lengthAdjust="spacingAndGlyphs" transform="rotate(0.05 863.11 560.50)">-0.49</text>
<text x="898.43" y="560.50" fill="#262626" textLength="32.08" lengthAdjust="spacingAndGlyphs" transform="rotate(0.05 898.43 560.50)">-0.40</text>
<text x="933.76" y="560.50" fill="#262626" textLength="27.61" lengthAdjust="spacingAndGlyphs" transform="rotate(0.05 933.76 560.50)">0.44</text>
<text x="969.10" y="560.50" fill="#ffffff" textLength="32.08" lengthAdjust="spacingAndGlyphs" transform="rotate(0.05 969.10 560.50)">-0.55</text>
<text x="1004.42" y="560.50" fill="#ffffff" textLength="27.61" lengthAdjust="spacingAndGlyphs" transform="rotate(0.05 1004.42 560.50)">0.69</text>
<text x="1039.75" y="560.50" fill="#262626" textLength="32.08" lengthAdjust="spacingAndGlyphs" transform="rotate(0.05 1039.75 560.50)">-0.08</text>
<text x="50.52" y="596.39" fill="#262626" textLength="27.61" lengthAdjust="spacingAndGlyphs" transform="rotate(0.05 50.52 596.39)">0.28</text>
<text x="85.84" y="596.39" fill="#262626" textLength="27.61" lengthAdjust="spacingAndGlyphs" transform="rotate(0.05 85.84 596.39)">0.05</text>
<text x="121.17" y="596.39" fill="#262626" textLength="27.61" lengthAdjust="spacingAndGlyphs" transform="rotate(0.05 121.17 596.39)">0.20</text>
<text x="156.50" y="596.39" fill="#262626" textLength="27.61" lengthAdjust="spacingAndGlyphs" transform="rotate(0.05 156.50 596.39)">0.52</text>
<text x="191.83" y="596.39" fill="#262626" textLength="32.08" lengthAdjust="spacingAndGlyphs" transform="rotate(0.05 191.83 596.39)">-0.23</text>
<text x="227.16" y="596.39" fill="#ffffff" textLength="27.61" lengthAdjust="spacingAndGlyphs" transform="rotate(0.05 227.16 596.39)">0.58</text>
<text x="262.50" y="596.39" fill="#262626" textLength="32.08" lengthAdjust="spacingAndGlyphs" transform="rotate(0.05 262.50 596.39)">-0.41</text>
<text x="297.82" y="596.39" fill="#262626" textLength="27.61" lengthAdjust="spacingAndGlyphs" transform="rotate(0.05 297.82 596.39)">0.38</text>
<text x="333.16" y="596.39" fill="#262626" textLength="32.08" lengthAdjust="spacingAndGlyphs" transform="rotate(0.05 333.16 596.39)">-0.37</text>
<text x="368.49" y="596.39" fill="#262626" textLength="27.61" lengthAdjust="spacingAndGlyphs" transform="rotate(0.05 368.49 596.39)">0.16</text>
<text x="403.81" y="596.39" fill="#ffffff" textLength="27.61" lengthAdjust="spacingAndGlyphs" transform="rotate(0.05 403.81 596.39)">0.76</text>
<text x="439.14" y="596.39" fill="#262626" textLength="32.08" lengthAdjust="spacingAndGlyphs" transform="rotate(0.05 439.14 596.39)">-0.25</text>
<text x="474.48" y="596.39" fill="#ffffff" textLength="27.61" lengthAdjust="spacingAndGlyphs" transform="rotate(0.05 474.48 596.39)">0.67</text>
<text x="509.81" y="596.39" fill="#262626" textLength="32.08" lengthAdjust="spacingAndGlyphs" transform="rotate(0.05 509.81 596.39)">-0.45</text>
<text x="545.13" y="596.39" fill="#ffffff" textLength="27.61" lengthAdjust="spacingAndGlyphs" transform="rotate(0.05 545.13 596.39)">0.70</text>
<text x="580.47" y="596.39" fill="#262626" textLength="32.08" lengthAdjust="spacingAndGlyphs" transform="rotate(0.05 580.47 596.39)">-0.47</text>
<text x="615.79" y="596.39" fill="#ffffff" textLength="26.81" lengthAdjust="spacingAndGlyphs" transform="rotate(0.05 615.79 596.39)">1.00</text>
<text x="651.12" y="596.39" fill="#262626" textLength="32.08" lengthAdjust="spacingAndGlyphs" transform="rotate(0.05 651.12 596.39)">-0.45</text>
<text x="686.46" y="596.39" fill="#262626" textLength="27.61" lengthAdjust="spacingAndGlyphs" transform="rotate(0.05 686.46 596.39)">0.19</text>
<text x="721.78" y="596.39" fill="#262626" textLength="27.61" lengthAdjust="spacingAndGlyphs" transform="rotate(0.05 721.78 596.39)">0.42</text>
<text x="757.12" y="596.39" fill="#262626" textLength="32.08" lengthAdjust="spacingAndGlyphs" transform="rotate(0.05 757.12 596.39)">-0.35</text>
<text x="792.44" y="596.39" fill="#ffffff" textLength="27.61" lengthAdjust="spacingAndGlyphs" transform="rotate(0.05 792.44 596.39)">0.55</text>
<text x="827.77" y="596.39" fill="#262626" textLength="32.08" lengthAdjust="spacingAndGlyphs" transform="rotate(0.05 827.77 596.39)">-0.15</text>
<text x="863.11" y="596.39" fill="#262626" textLength="27.61" lengthAdjust="spacingAndGlyphs" transform="rotate(0.05 863.11 596.39)">0.50</text>
<text x="898.43" y="596.39" fill="#ffffff" textLength="27.61" lengthAdjust="spacingAndGlyphs" transform="rotate(0.05 898.43 596.39)">0.67</text>
<text x="933.76" y="596.39" fill="#262626" textLength="32.08" lengthAdjust="spacingAndGlyphs" transform="rotate(0.05 933.76 596.39)">-0.18</text>
<text x="969.10" y="596.39" fill="#ffffff" textLength="27.61" lengthAdjust="spacingAndGlyphs" transform="rotate(0.05 969.10 596.39)">0.74</text>
<text x="1004.42" y="596.39" fill="#262626" textLength="32.08" lengthAdjust="spacingAndGlyphs" transform="rotate(0.05 1004.42 596.39)">-0.41</text>
<text x="1039.75" y="596.39" fill="#262626" textLength="32.08" lengthAdjust="spacingAndGlyphs" transform="rotate(0.05 1039.75 596.39)">-0.31</text>
<text x="50.52" y="632.28" fill="#262626" textLength="32.08" lengthAdjust="spacingAndGlyphs" transform="rotate(0.05 50.52 632.28)">-0.34</text>
<text x="85.84" y="632.28" fill="#262626" textLength="32.08" lengthAdjust="spacingAndGlyphs" transform="rotate(0.05 85.84 632.28)">-0.08</text>
<text x="121.17" y="632.28" fill="#262626" textLength="32.08" lengthAdjust="spacingAndGlyphs" transform="rotate(0.05 121.17 632.28)">-0.15</text>
<text x="156.50" y="632.28" fill="#262626" textLength="32.08" lengthAdjust="spacingAndGlyphs" transform="rotate(0.05 156.50 632.28)">-0.39</text>
<text x="191.83" y="632.28" fill="#262626" textLength="27.61" lengthAdjust="spacingAndGlyphs" transform="rotate(0.05 191.83 632.28)">0.52</text>
<text x="227.16" y="632.28" fill="#262626" textLength="32.08" lengthAdjust="spacingAndGlyphs" transform="rotate(0.05 227.16 632.28)">-0.36</text>
<text x="262.50" y="632.28" fill="#262626" textLength="27.61" lengthAdjust="spacingAndGlyphs" transform="rotate(0.05 262.50 632.28)">0.51</text>
<text x="297.82" y="632.28" fill="#262626" textLength="32.08" lengthAdjust="spacingAndGlyphs" transform="rotate(0.05 297.82 632.28)">-0.36</text>
<text x="333.16" y="632.28" fill="#ffffff" textLength="27.61" lengthAdjust="spacingAndGlyphs" transform="rotate(0.05 333.16 632.28)">0.66</text>
<text x="368.49" y="632.28" fill="#262626" textLength="32.08" lengthAdjust="spacingAndGlyphs" transform="rotate(0.05 368.49 632.28)">-0.21</text>
<text x="403.81" y="632.28" fill="#262626" textLength="32.08" lengthAdjust="spacingAndGlyphs" transform="rotate(0.05 403.81 632.28)">-0.42</text>
<text x="439.14" y="632.28" fill="#262626" textLength="27.61" lengthAdjust="spacingAndGlyphs" transform="rotate(0.05 439.14 632.28)">0.49</text>
<text x="474.48" y="632.28" fill="#262626" textLength="32.08" lengthAdjust="spacingAndGlyphs" transform="rotate(0.05 474.48 632.28)">-0.43</text>
<text x="509.81" y="632.28" fill="#ffffff" textLength="27.61" lengthAdjust="spacingAndGlyphs" transform="rotate(0.05 509.81 632.28)">0.64</text>
<text x="545.13" y="632.28" fill="#262626" textLength="32.08" lengthAdjust="spacingAndGlyphs" transform="rotate(0.05 545.13 632.28)">-0.42</text>
<text x="580.47" y="632.28" fill="#ffffff" textLength="27.61" lengthAdjust="spacingAndGlyphs" transform="rotate(0.05 580.47 632.28)">0.68</text>
<text x="615.79" y="632.28" fill="#262626" textLength="32.08" lengthAdjust="spacingAndGlyphs" transform="rotate(0.05 615.79 632.28)">-0.45</text>
<text x="651.12" y="632.28" fill="#ffffff" textLength="26.81" lengthAdjust="spacingAndGlyphs" transform="rotate(0.05 651.12 632.28)">1.00</text>
<text x="686.46" y="632.28" fill="#262626" textLength="27.61" lengthAdjust="spacingAndGlyphs" transform="rotate(0.05 686.46 632.28)">0.13</text>
<text x="721.78" y="632.28" fill="#262626" textLength="27.61" lengthAdjust="spacingAndGlyphs" transform="rotate(0.05 721.78 632.28)">0.11</text>
<text x="757.12" y="632.28" fill="#ffffff" textLength="27.61" lengthAdjust="spacingAndGlyphs" transform="rotate(0.05 757.12 632.28)">0.54</text>
<text x="792.44" y="632.28" fill="#262626" textLength="32.08" lengthAdjust="spacingAndGlyphs" transform="rotate(0.05 792.44 632.28)">-0.40</text>
<text x="827.77" y="632.28" fill="#262626" textLength="27.61" lengthAdjust="spacingAndGlyphs" transform="rotate(0.05 827.77 632.28)">0.52</text>
<text x="863.11" y="632.28" fill="#262626" textLength="32.08" lengthAdjust="spacingAndGlyphs" transform="rotate(0.05 863.11 632.28)">-0.44</text>
<text x="898.43" y="632.28" fill="#262626" textLength="32.08" lengthAdjust="spacingAndGlyphs" transform="rotate(0.05 898.43 632.28)">-0.27</text>
<text x="933.76" y="632.28" fill="#262626" textLength="27.61" lengthAdjust="spacingAndGlyphs" transform="rotate(0.05 933.76 632.28)">0.43</text>
<text x="969.10" y="632.28" fill="#262626" textLength="32.08" lengthAdjust="spacingAndGlyphs" transform="rotate(0.05 969.10 632.28)">-0.40</text>
<text x="1004.42" y="632.28" fill="#ffffff" textLength="27.61" lengthAdjust="spacingAndGlyphs" transform="rotate(0.05 1004.42 632.28)">0.66</text>
<text x="1039.75" y="632.28" fill="#262626" textLength="32.08" lengthAdjust="spacingAndGlyphs" transform="rotate(0.05 1039.75 632.28)">-0.06</text>
<text x="50.52" y="668.17" fill="#262626" textLength="32.08" lengthAdjust="spacingAndGlyphs" transform="rotate(0.05 50.52 668.17)">-0.07</text>
<text x="85.84" y="668.17" fill="#262626" textLength="32.08" lengthAdjust="spacingAndGlyphs" transform="rotate(0.05 85.84 668.17)">-0.03</text>
<text x="121.17" y="668.17" fill="#262626" textLength="32.08" lengthAdjust="spacingAndGlyphs" transform="rotate(0.05 121.17 668.17)">-0.04</text>
<text x="156.50" y="668.17" fill="#262626" textLength="27.61" lengthAdjust="spacingAndGlyphs" transform="rotate(0.05 156.50 668.17)">0.18</text>
<text x="191.83" y="668.17" fill="#262626" textLength="32.08" lengthAdjust="spacingAndGlyphs" transform="rotate(0.05 191.83 668.17)">-0.00</text>
<text x="227.16" y="668.17" fill="#262626" textLength="27.61" lengthAdjust="spacingAndGlyphs" transform="rotate(0.05 227.16 668.17)">0.25</text>
<text x="262.50" y="668.17" fill="#262626" textLength="27.61" lengthAdjust="spacingAndGlyphs" transform="rotate(0.05 262.50 668.17)">0.10</text>
<text x="297.82" y="668.17" fill="#262626" textLength="27.61" lengthAdjust="spacingAndGlyphs" transform="rotate(0.05 297.82 668.17)">0.13</text>
<text x="333.16" y="668.17" fill="#262626" textLength="27.61" lengthAdjust="spacingAndGlyphs" transform="rotate(0.05 333.16 668.17)">0.12</text>
<text x="368.49" y="668.17" fill="#262626" textLength="32.08" lengthAdjust="spacingAndGlyphs" transform="rotate(0.05 368.49 668.17)">-0.08</text>
<text x="403.81" y="668.17" fill="#262626" textLength="27.61" lengthAdjust="spacingAndGlyphs" transform="rotate(0.05 403.81 668.17)">0.09</text>
<text x="439.14" y="668.17" fill="#262626" textLength="27.61" lengthAdjust="spacingAndGlyphs" transform="rotate(0.05 439.14 668.17)">0.09</text>
<text x="474.48" y="668.17" fill="#262626" textLength="27.61" lengthAdjust="spacingAndGlyphs" transform="rotate(0.05 474.48 668.17)">0.30</text>
<text x="509.81" y="668.17" fill="#262626" textLength="27.61" lengthAdjust="spacingAndGlyphs" transform="rotate(0.05 509.81 668.17)">0.09</text>
<text x="545.13" y="668.17" fill="#262626" textLength="27.61" lengthAdjust="spacingAndGlyphs" transform="rotate(0.05 545.13 668.17)">0.19</text>
<text x="580.47" y="668.17" fill="#262626" textLength="27.61" lengthAdjust="spacingAndGlyphs" transform="rotate(0.05 580.47 668.17)">0.06</text>
<text x="615.79" y="668.17" fill="#262626" textLength="27.61" lengthAdjust="spacingAndGlyphs" transform="rotate(0.05 615.79 668.17)">0.19</text>
<text x="651.12" y="668.17" fill="#262626" textLength="27.61" lengthAdjust="spacingAndGlyphs" transform="rotate(0.05 651.12 668.17)">0.13</text>
<text x="686.46" y="668.17" fill="#ffffff" textLength="26.81" lengthAdjust="spacingAndGlyphs" transform="rotate(0.05 686.46 668.17)">1.00</text>
<text x="721.78" y="668.17" fill="#262626" textLength="27.61" lengthAdjust="spacingAndGlyphs" transform="rotate(0.05 721.78 668.17)">0.29</text>
<text x="757.12" y="668.17" fill="#262626" textLength="27.61" lengthAdjust="spacingAndGlyphs" transform="rotate(0.05 757.12 668.17)">0.11</text>
<text x="792.44" y="668.17" fill="#262626" textLength="27.61" lengthAdjust="spacingAndGlyphs" transform="rotate(0.05 792.44 668.17)">0.16</text>
<text x="827.77" y="668.17" fill="#262626" textLength="27.61" lengthAdjust="spacingAndGlyphs" transform="rotate(0.05 827.77 668.17)">0.32</text>
<text x="863.11" y="668.17" fill="#262626" textLength="32.08" lengthAdjust="spacingAndGlyphs" transform="rotate(0.05 863.11 668.17)">-0.11</text>
<text x="898.43" y="668.17" fill="#262626" textLength="27.61" lengthAdjust="spacingAndGlyphs" transform="rotate(0.05 898.43 668.17)">0.29</text>
<text x="933.76" y="668.17" fill="#262626" textLength="27.61" lengthAdjust="spacingAndGlyphs" transform="rotate(0.05 933.76 668.17)">0.10</text>
<text x="969.10" y="668.17" fill="#262626" textLength="27.61" lengthAdjust="spacingAndGlyphs" transform="rotate(0.05 969.10 668.17)">0.12</text>
<text x="1004.42" y="668.17" fill="#262626" textLength="27.61" lengthAdjust="spacingAndGlyphs" transform="rotate(0.05 1004.42 668.17)">0.25</text>
<text x="1039.75" y="668.17" fill="#262626" textLength="32.08" lengthAdjust="spacingAndGlyphs" transform="rotate(0.05 1039.75 668.17)">-0.37</text>
<text x="50.52" y="704.06" fill="#262626" textLength="27.61" lengthAdjust="spacingAndGlyphs" transform="rotate(0.05 50.52 704.06)">0.22</text>
<text x="85.84" y="704.06" fill="#262626" textLength="32.08" lengthAdjust="spacingAndGlyphs" transform="rotate(0.05 85.84 704.06)">-0.01</text>
<text x="121.17" y="704.06" fill="#262626" textLength="27.61" lengthAdjust="spacingAndGlyphs" transform="rotate(0.05 121.17 704.06)">0.15</text>
<text x="156.50" y="704.06" fill="#262626" textLength="27.61" lengthAdjust="spacingAndGlyphs" transform="rotate(0.05 156.50 704.06)">0.20</text>
<text x="191.83" y="704.06" fill="#262626" textLength="32.08" lengthAdjust="spacingAndGlyphs" transform="rotate(0.05 191.83 704.06)">-0.00</text>
<text x="227.16" y="704.06" fill="#262626" textLength="27.61" lengthAdjust="spacingAndGlyphs" transform="rotate(0.05 227.16 704.06)">0.34</text>
<text x="262.50" y="704.06" fill="#262626" textLength="27.61" lengthAdjust="spacingAndGlyphs" transform="rotate(0.05 262.50 704.06)">0.09</text>
<text x="297.82" y="704.06" fill="#262626" textLength="27.61" lengthAdjust="spacingAndGlyphs" transform="rotate(0.05 297.82 704.06)">0.08</text>
<text x="333.16" y="704.06" fill="#262626" textLength="27.61" lengthAdjust="spacingAndGlyphs" transform="rotate(0.05 333.16 704.06)">0.10</text>
<text x="368.49" y="704.06" fill="#262626" textLength="27.61" lengthAdjust="spacingAndGlyphs" transform="rotate(0.05 368.49 704.06)">0.17</text>
<text x="403.81" y="704.06" fill="#262626" textLength="27.61" lengthAdjust="spacingAndGlyphs" transform="rotate(0.05 403.81 704.06)">0.33</text>
<text x="439.14" y="704.06" fill="#262626" textLength="27.61" lengthAdjust="spacingAndGlyphs" transform="rotate(0.05 439.14 704.06)">0.09</text>
<text x="474.48" y="704.06" fill="#262626" textLength="27.61" lengthAdjust="spacingAndGlyphs" transform="rotate(0.05 474.48 704.06)">0.33</text>
<text x="509.81" y="704.06" fill="#262626" textLength="27.61" lengthAdjust="spacingAndGlyphs" transform="rotate(0.05 509.81 704.06)">0.05</text>
<text x="545.13" y="704.06" fill="#262626" textLength="27.61" lengthAdjust="spacingAndGlyphs" transform="rotate(0.05 545.13 704.06)">0.32</text>
<text x="580.47" y="704.06" fill="#262626" textLength="27.61" lengthAdjust="spacingAndGlyphs" transform="rotate(0.05 580.47 704.06)">0.16</text>
<text x="615.79" y="704.06" fill="#262626" textLength="27.61" lengthAdjust="spacingAndGlyphs" transform="rotate(0.05 615.79 704.06)">0.42</text>
<text x="651.12" y="704.06" fill="#262626" textLength="27.61" lengthAdjust="spacingAndGlyphs" transform="rotate(0.05 651.12 704.06)">0.11</text>
<text x="686.46" y="704.06" fill="#262626" textLength="27.61" lengthAdjust="spacingAndGlyphs" transform="rotate(0.05 686.46 704.06)">0.29</text>
<text x="721.78" y="704.06" fill="#ffffff" textLength="26.81" lengthAdjust="spacingAndGlyphs" transform="rotate(0.05 721.78 704.06)">1.00</text>
<text x="757.12" y="704.06" fill="#262626" textLength="27.61" lengthAdjust="spacingAndGlyphs" transform="rotate(0.05 757.12 704.06)">0.24</text>
<text x="792.44" y="704.06" fill="#262626" textLength="27.61" lengthAdjust="spacingAndGlyphs" transform="rotate(0.05 792.44 704.06)">0.44</text>
<text x="827.77" y="704.06" fill="#262626" textLength="27.61" lengthAdjust="spacingAndGlyphs" transform="rotate(0.05 827.77 704.06)">0.28</text>
<text x="863.11" y="704.06" fill="#262626" textLength="27.61" lengthAdjust="spacingAndGlyphs" transform="rotate(0.05 863.11 704.06)">0.03</text>
<text x="898.43" y="704.06" fill="#262626" textLength="27.61" lengthAdjust="spacingAndGlyphs" transform="rotate(0.05 898.43 704.06)">0.28</text>
<text x="933.76" y="704.06" fill="#262626" textLength="27.61" lengthAdjust="spacingAndGlyphs" transform="rotate(0.05 933.76 704.06)">0.06</text>
<text x="969.10" y="704.06" fill="#262626" textLength="27.61" lengthAdjust="spacingAndGlyphs" transform="rotate(0.05 969.10 704.06)">0.32</text>
<text x="1004.42" y="704.06" fill="#262626" textLength="27.61" lengthAdjust="spacingAndGlyphs" transform="rotate(0.05 1004.42 704.06)">0.15</text>
<text x="1039.75" y="704.06" fill="#262626" textLength="32.08" lengthAdjust="spacingAndGlyphs" transform="rotate(0.05 1039.75 704.06)">-0.26</text>
<text x="50.52" y="739.95" fill="#262626" textLength="32.08" lengthAdjust="spacingAndGlyphs" transform="rotate(0.05 50.52 739.95)">-0.17</text>
<text x="85.84" y="739.95" fill="#262626" textLength="32.08" lengthAdjust="spacingAndGlyphs" transform="rotate(0.05 85.84 739.95)">-0.04</text>
<text x="121.17" y="739.95" fill="#262626" textLength="32.08" lengthAdjust="spacingAndGlyphs" transform="rotate(0.05 121.17 739.95)">-0.04</text>
<text x="156.50" y="739.95" fill="#262626" textLength="32.08" lengthAdjust="spacingAndGlyphs" transform="rotate(0.05 156.50 739.95)">-0.25</text>
<text x="191.83" y="739.95" fill="#262626" textLength="27.61" lengthAdjust="spacingAndGlyphs" transform="rotate(0.05 191.83 739.95)">0.29</text>
<text x="227.16" y="739.95" fill="#262626" textLength="32.08" lengthAdjust="spacingAndGlyphs" transform="rotate(0.05 227.16 739.95)">-0.24</text>
<text x="262.50" y="739.95" fill="#262626" textLength="27.61" lengthAdjust="spacingAndGlyphs" transform="rotate(0.05 262.50 739.95)">0.36</text>
<text x="297.82" y="739.95" fill="#262626" textLength="32.08" lengthAdjust="spacingAndGlyphs" transform="rotate(0.05 297.82 739.95)">-0.26</text>
<text x="333.16" y="739.95" fill="#262626" textLength="27.61" lengthAdjust="spacingAndGlyphs" transform="rotate(0.05 333.16 739.95)">0.48</text>
<text x="368.49" y="739.95" fill="#262626" textLength="32.08" lengthAdjust="spacingAndGlyphs" transform="rotate(0.05 368.49 739.95)">-0.07</text>
<text x="403.81" y="739.95" fill="#262626" textLength="32.08" lengthAdjust="spacingAndGlyphs" transform="rotate(0.05 403.81 739.95)">-0.39</text>
<text x="439.14" y="739.95" fill="#262626" textLength="27.61" lengthAdjust="spacingAndGlyphs" transform="rotate(0.05 439.14 739.95)">0.44</text>
<text x="474.48" y="739.95" fill="#262626" textLength="32.08" lengthAdjust="spacingAndGlyphs" transform="rotate(0.05 474.48 739.95)">-0.38</text>
<text x="509.81" y="739.95" fill="#ffffff" textLength="27.61" lengthAdjust="spacingAndGlyphs" transform="rotate(0.05 509.81 739.95)">0.60</text>
<text x="545.13" y="739.95" fill="#262626" textLength="32.08" lengthAdjust="spacingAndGlyphs" transform="rotate(0.05 545.13 739.95)">-0.31</text>
<text x="580.47" y="739.95" fill="#ffffff" textLength="27.61" lengthAdjust="spacingAndGlyphs" transform="rotate(0.05 580.47 739.95)">0.54</text>
<text x="615.79" y="739.95" fill="#262626" textLength="32.08" lengthAdjust="spacingAndGlyphs" transform="rotate(0.05 615.79 739.95)">-0.35</text>
<text x="651.12" y="739.95" fill="#ffffff" textLength="27.61" lengthAdjust="spacingAndGlyphs" transform="rotate(0.05 651.12 739.95)">0.54</text>
<text x="686.46" y="739.95" fill="#262626" textLength="27.61" lengthAdjust="spacingAndGlyphs" transform="rotate(0.05 686.46 739.95)">0.11</text>
<text x="721.78" y="739.95" fill="#262626" textLength="27.61" lengthAdjust="spacingAndGlyphs" transform="rotate(0.05 721.78 739.95)">0.24</text>
<text x="757.12" y="739.95" fill="#ffffff" textLength="26.81" lengthAdjust="spacingAndGlyphs" transform="rotate(0.05 757.12 739.95)">1.00</text>
<text x="792.44" y="739.95" fill="#262626" textLength="32.08" lengthAdjust="spacingAndGlyphs" transform="rotate(0.05 792.44 739.95)">-0.16</text>
<text x="827.77" y="739.95" fill="#262626" textLength="27.61" lengthAdjust="spacingAndGlyphs" transform="rotate(0.05 827.77 739.95)">0.45</text>
<text x="863.11" y="739.95" fill="#262626" textLength="32.08" lengthAdjust="spacingAndGlyphs" transform="rotate(0.05 863.11 739.95)">-0.43</text>
<text x="898.43" y="739.95" fill="#262626" textLength="32.08" lengthAdjust="spacingAndGlyphs" transform="rotate(0.05 898.43 739.95)">-0.27</text>
<text x="933.76" y="739.95" fill="#262626" textLength="27.61" lengthAdjust="spacingAndGlyphs" transform="rotate(0.05 933.76 739.95)">0.40</text>
<text x="969.10" y="739.95" fill="#262626" textLength="32.08" lengthAdjust="spacingAndGlyphs" transform="rotate(0.05 969.10 739.95)">-0.31</text>
<text x="1004.42" y="739.95" fill="#ffffff" textLength="27.61" lengthAdjust="spacingAndGlyphs" transform="rotate(0.05 1004.42 739.95)">0.65</text>
<text x="1039.75" y="739.95" fill="#262626" textLength="32.08" lengthAdjust="spacingAndGlyphs" transform="rotate(0.05 1039.75 739.95)">-0.04</text>
<text x="50.52" y="775.84" fill="#262626" textLength="27.61" lengthAdjust="spacingAndGlyphs" transform="rotate(0.05 50.52 775.84)">0.25</text>
<text x="85.84" y="775.84" fill="#262626" textLength="27.61" lengthAdjust="spacingAndGlyphs" transform="rotate(0.05 85.84 775.84)">0.10</text>
<text x="121.17" y="775.84" fill="#262626" textLength="27.61" lengthAdjust="spacingAndGlyphs" transform="rotate(0.05 121.17 775.84)">0.04</text>
<text x="156.50" y="775.84" fill="#262626" textLength="27.61" lengthAdjust="spacingAndGlyphs" transform="rotate(0.05 156.50 775.84)">0.41</text>
<text x="191.83" y="775.84" fill="#262626" textLength="32.08" lengthAdjust="spacingAndGlyphs" transform="rotate(0.05 191.83 775.84)">-0.33</text>
<text x="227.16" y="775.84" fill="#262626" textLength="27.61" lengthAdjust="spacingAndGlyphs" transform="rotate(0.05 227.16 775.84)">0.53</text>
<text x="262.50" y="775.84" fill="#262626" textLength="32.08" lengthAdjust="spacingAndGlyphs" transform="rotate(0.05 262.50 775.84)">-0.33</text>
<text x="297.82" y="775.84" fill="#262626" textLength="27.61" lengthAdjust="spacingAndGlyphs" transform="rotate(0.05 297.82 775.84)">0.32</text>
<text x="333.16" y="775.84" fill="#262626" textLength="32.08" lengthAdjust="spacingAndGlyphs" transform="rotate(0.05 333.16 775.84)">-0.35</text>
<text x="368.49" y="775.84" fill="#262626" textLength="27.61" lengthAdjust="spacingAndGlyphs" transform="rotate(0.05 368.49 775.84)">0.21</text>
<text x="403.81" y="775.84" fill="#262626" textLength="27.61" lengthAdjust="spacingAndGlyphs" transform="rotate(0.05 403.81 775.84)">0.36</text>
<text x="439.14" y="775.84" fill="#262626" textLength="32.08" lengthAdjust="spacingAndGlyphs" transform="rotate(0.05 439.14 775.84)">-0.20</text>
<text x="474.48" y="775.84" fill="#ffffff" textLength="27.61" lengthAdjust="spacingAndGlyphs" transform="rotate(0.05 474.48 775.84)">0.57</text>
<text x="509.81" y="775.84" fill="#262626" textLength="32.08" lengthAdjust="spacingAndGlyphs" transform="rotate(0.05 509.81 775.84)">-0.28</text>
<text x="545.13" y="775.84" fill="#ffffff" textLength="27.61" lengthAdjust="spacingAndGlyphs" transform="rotate(0.05 545.13 775.84)">0.73</text>
<text x="580.47" y="775.84" fill="#262626" textLength="32.08" lengthAdjust="spacingAndGlyphs" transform="rotate(0.05 580.47 775.84)">-0.35</text>
<text x="615.79" y="775.84" fill="#ffffff" textLength="27.61" lengthAdjust="spacingAndGlyphs" transform="rotate(0.05 615.79 775.84)">0.55</text>
<text x="651.12" y="775.84" fill="#262626" textLength="32.08" lengthAdjust="spacingAndGlyphs" transform="rotate(0.05 651.12 775.84)">-0.40</text>
<text x="686.46" y="775.84" fill="#262626" textLength="27.61" lengthAdjust="spacingAndGlyphs" transform="rotate(0.05 686.46 775.84)">0.16</text>
<text x="721.78" y="775.84" fill="#262626" textLength="27.61" lengthAdjust="spacingAndGlyphs" transform="rotate(0.05 721.78 775.84)">0.44</text>
<text x="757.12" y="775.84" fill="#262626" textLength="32.08" lengthAdjust="spacingAndGlyphs" transform="rotate(0.05 757.12 775.84)">-0.16</text>
<text x="792.44" y="775.84" fill="#ffffff" textLength="26.81" lengthAdjust="spacingAndGlyphs" transform="rotate(0.05 792.44 775.84)">1.00</text>
<text x="827.77" y="775.84" fill="#262626" textLength="32.08" lengthAdjust="spacingAndGlyphs" transform="rotate(0.05 827.77 775.84)">-0.28</text>
<text x="863.11" y="775.84" fill="#262626" textLength="27.61" lengthAdjust="spacingAndGlyphs" transform="rotate(0.05 863.11 775.84)">0.29</text>
<text x="898.43" y="775.84" fill="#262626" textLength="27.61" lengthAdjust="spacingAndGlyphs" transform="rotate(0.05 898.43 775.84)">0.41</text>
<text x="933.76" y="775.84" fill="#262626" textLength="32.08" lengthAdjust="spacingAndGlyphs" transform="rotate(0.05 933.76 775.84)">-0.16</text>
<text x="969.10" y="775.84" fill="#ffffff" textLength="27.61" lengthAdjust="spacingAndGlyphs" transform="rotate(0.05 969.10 775.84)">0.53</text>
<text x="1004.42" y="775.84" fill="#262626" textLength="32.08" lengthAdjust="spacingAndGlyphs" transform="rotate(0.05 1004.42 775.84)">-0.26</text>
<text x="1039.75" y="775.84" fill="#262626" textLength="32.08" lengthAdjust="spacingAndGlyphs" transform="rotate(0.05 1039.75 775.84)">-0.35</text>
<text x="50.52" y="811.73" fill="#262626" textLength="32.08" lengthAdjust="spacingAndGlyphs" transform="rotate(0.05 50.52 811.73)">-0.22</text>
<text x="85.84" y="811.73" fill="#262626" textLength="32.08" lengthAdjust="spacingAndGlyphs" transform="rotate(0.05 85.84 811.73)">-0.07</text>
<text x="121.17" y="811.73" fill="#262626" textLength="32.08" lengthAdjust="spacingAndGlyphs" transform="rotate(0.05 121.17 811.73)">-0.15</text>
<text x="156.50" y="811.73" fill="#262626" textLength="32.08" lengthAdjust="spacingAndGlyphs" transform="rotate(0.05 156.50 811.73)">-0.10</text>
<text x="191.83" y="811.73" fill="#262626" textLength="27.61" lengthAdjust="spacingAndGlyphs" transform="rotate(0.05 191.83 811.73)">0.38</text>
<text x="227.16" y="811.73" fill="#262626" textLength="32.08" lengthAdjust="spacingAndGlyphs" transform="rotate(0.05 227.16 811.73)">-0.15</text>
<text x="262.50" y="811.73" fill="#ffffff" textLength="27.61" lengthAdjust="spacingAndGlyphs" transform="rotate(0.05 262.50 811.73)">0.54</text>
<text x="297.82" y="811.73" fill="#262626" textLength="32.08" lengthAdjust="spacingAndGlyphs" transform="rotate(0.05 297.82 811.73)">-0.16</text>
<text x="333.16" y="811.73" fill="#ffffff" textLength="27.61" lengthAdjust="spacingAndGlyphs" transform="rotate(0.05 333.16 811.73)">0.59</text>
<text x="368.49" y="811.73" fill="#262626" textLength="32.08" lengthAdjust="spacingAndGlyphs" transform="rotate(0.05 368.49 811.73)">-0.31</text>
<text x="403.81" y="811.73" fill="#262626" textLength="32.08" lengthAdjust="spacingAndGlyphs" transform="rotate(0.05 403.81 811.73)">-0.11</text>
<text x="439.14" y="811.73" fill="#262626" textLength="27.61" lengthAdjust="spacingAndGlyphs" transform="rotate(0.05 439.14 811.73)">0.38</text>
<text x="474.48" y="811.73" fill="#262626" textLength="32.08" lengthAdjust="spacingAndGlyphs" transform="rotate(0.05 474.48 811.73)">-0.16</text>
<text x="509.81" y="811.73" fill="#262626" textLength="27.61" lengthAdjust="spacingAndGlyphs" transform="rotate(0.05 509.81 811.73)">0.52</text>
<text x="545.13" y="811.73" fill="#262626" textLength="32.08" lengthAdjust="spacingAndGlyphs" transform="rotate(0.05 545.13 811.73)">-0.31</text>
<text x="580.47" y="811.73" fill="#262626" textLength="27.61" lengthAdjust="spacingAndGlyphs" transform="rotate(0.05 580.47 811.73)">0.50</text>
<text x="615.79" y="811.73" fill="#262626" textLength="32.08" lengthAdjust="spacingAndGlyphs" transform="rotate(0.05 615.79 811.73)">-0.15</text>
<text x="651.12" y="811.73" fill="#262626" textLength="27.61" lengthAdjust="spacingAndGlyphs" transform="rotate(0.05 651.12 811.73)">0.52</text>
<text x="686.46" y="811.73" fill="#262626" textLength="27.61" lengthAdjust="spacingAndGlyphs" transform="rotate(0.05 686.46 811.73)">0.32</text>
<text x="721.78" y="811.73" fill="#262626" textLength="27.61" lengthAdjust="spacingAndGlyphs" transform="rotate(0.05 721.78 811.73)">0.28</text>
<text x="757.12" y="811.73" fill="#262626" textLength="27.61" lengthAdjust="spacingAndGlyphs" transform="rotate(0.05 757.12 811.73)">0.45</text>
<text x="792.44" y="811.73" fill="#262626" textLength="32.08" lengthAdjust="spacingAndGlyphs" transform="rotate(0.05 792.44 811.73)">-0.28</text>
<text x="827.77" y="811.73" fill="#ffffff" textLength="26.81" lengthAdjust="spacingAndGlyphs" transform="rotate(0.05 827.77 811.73)">1.00</text>
<text x="863.11" y="811.73" fill="#262626" textLength="32.08" lengthAdjust="spacingAndGlyphs" transform="rotate(0.05 863.11 811.73)">-0.31</text>
<text x="898.43" y="811.73" fill="#262626" textLength="32.08" lengthAdjust="spacingAndGlyphs" transform="rotate(0.05 898.43 811.73)">-0.08</text>
<text x="933.76" y="811.73" fill="#262626" textLength="27.61" lengthAdjust="spacingAndGlyphs" transform="rotate(0.05 933.76 811.73)">0.30</text>
<text x="969.10" y="811.73" fill="#262626" textLength="32.08" lengthAdjust="spacingAndGlyphs" transform="rotate(0.05 969.10 811.73)">-0.20</text>
<text x="1004.42" y="811.73" fill="#ffffff" textLength="27.61" lengthAdjust="spacingAndGlyphs" transform="rotate(0.05 1004.42 811.73)">0.59</text>
<text x="1039.75" y="811.73" fill="#262626" textLength="32.08" lengthAdjust="spacingAndGlyphs" transform="rotate(0.05 1039.75 811.73)">-0.19</text>
<text x="50.52" y="847.62" fill="#262626" textLength="27.61" lengthAdjust="spacingAndGlyphs" transform="rotate(0.05 50.52 847.62)">0.41</text>
<text x="85.84" y="847.62" fill="#262626" textLength="27.61" lengthAdjust="spacingAndGlyphs" transform="rotate(0.05 85.84 847.62)">0.06</text>
<text x="121.17" y="847.62" fill="#262626" textLength="27.61" lengthAdjust="spacingAndGlyphs" transform="rotate(0.05 121.17 847.62)">0.26</text>
<text x="156.50" y="847.62" fill="#262626" textLength="27.61" lengthAdjust="spacingAndGlyphs" transform="rotate(0.05 156.50 847.62)">0.27</text>
<text x="191.83" y="847.62" fill="#262626" textLength="32.08" lengthAdjust="spacingAndGlyphs" transform="rotate(0.05 191.83 847.62)">-0.33</text>
<text x="227.16" y="847.62" fill="#262626" textLength="27.61" lengthAdjust="spacingAndGlyphs" transform="rotate(0.05 227.16 847.62)">0.25</text>
<text x="262.50" y="847.62" fill="#262626" textLength="32.08" lengthAdjust="spacingAndGlyphs" transform="rotate(0.05 262.50 847.62)">-0.37</text>
<text x="297.82" y="847.62" fill="#262626" textLength="27.61" lengthAdjust="spacingAndGlyphs" transform="rotate(0.05 297.82 847.62)">0.20</text>
<text x="333.16" y="847.62" fill="#262626" textLength="32.08" lengthAdjust="spacingAndGlyphs" transform="rotate(0.05 333.16 847.62)">-0.26</text>
<text x="368.49" y="847.62" fill="#262626" textLength="27.61" lengthAdjust="spacingAndGlyphs" transform="rotate(0.05 368.49 847.62)">0.21</text>
<text x="403.81" y="847.62" fill="#262626" textLength="27.61" lengthAdjust="spacingAndGlyphs" transform="rotate(0.05 403.81 847.62)">0.36</text>
<text x="439.14" y="847.62" fill="#262626" textLength="32.08" lengthAdjust="spacingAndGlyphs" transform="rotate(0.05 439.14 847.62)">-0.34</text>
<text x="474.48" y="847.62" fill="#262626" textLength="27.61" lengthAdjust="spacingAndGlyphs" transform="rotate(0.05 474.48 847.62)">0.40</text>
<text x="509.81" y="847.62" fill="#262626" textLength="32.08" lengthAdjust="spacingAndGlyphs" transform="rotate(0.05 509.81 847.62)">-0.50</text>
<text x="545.13" y="847.62" fill="#262626" textLength="27.61" lengthAdjust="spacingAndGlyphs" transform="rotate(0.05 545.13 847.62)">0.36</text>
<text x="580.47" y="847.62" fill="#262626" textLength="32.08" lengthAdjust="spacingAndGlyphs" transform="rotate(0.05 580.47 847.62)">-0.49</text>
<text x="615.79" y="847.62" fill="#262626" textLength="27.61" lengthAdjust="spacingAndGlyphs" transform="rotate(0.05 615.79 847.62)">0.50</text>
<text x="651.12" y="847.62" fill="#262626" textLength="32.08" lengthAdjust="spacingAndGlyphs" transform="rotate(0.05 651.12 847.62)">-0.44</text>
<text x="686.46" y="847.62" fill="#262626" textLength="32.08" lengthAdjust="spacingAndGlyphs" transform="rotate(0.05 686.46 847.62)">-0.11</text>
<text x="721.78" y="847.62" fill="#262626" textLength="27.61" lengthAdjust="spacingAndGlyphs" transform="rotate(0.05 721.78 847.62)">0.03</text>
<text x="757.12" y="847.62" fill="#262626" textLength="32.08" lengthAdjust="spacingAndGlyphs" transform="rotate(0.05 757.12 847.62)">-0.43</text>
<text x="792.44" y="847.62" fill="#262626" textLength="27.61" lengthAdjust="spacingAndGlyphs" transform="rotate(0.05 792.44 847.62)">0.29</text>
<text x="827.77" y="847.62" fill="#262626" textLength="32.08" lengthAdjust="spacingAndGlyphs" transform="rotate(0.05 827.77 847.62)">-0.31</text>
<text x="863.11" y="847.62" fill="#ffffff" textLength="26.81" lengthAdjust="spacingAndGlyphs" transform="rotate(0.05 863.11 847.62)">1.00</text>
<text x="898.43" y="847.62" fill="#262626" textLength="27.61" lengthAdjust="spacingAndGlyphs" transform="rotate(0.05 898.43 847.62)">0.25</text>
<text x="933.76" y="847.62" fill="#262626" textLength="32.08" lengthAdjust="spacingAndGlyphs" transform="rotate(0.05 933.76 847.62)">-0.43</text>
<text x="969.10" y="847.62" fill="#262626" textLength="27.61" lengthAdjust="spacingAndGlyphs" transform="rotate(0.05 969.10 847.62)">0.41</text>
<text x="1004.42" y="847.62" fill="#ffffff" textLength="32.08" lengthAdjust="spacingAndGlyphs" transform="rotate(0.05 1004.42 847.62)">-0.59</text>
<text x="1039.75" y="847.62" fill="#262626" textLength="27.61" lengthAdjust="spacingAndGlyphs" transform="rotate(0.05 1039.75 847.62)">0.03</text>
<text x="50.52" y="883.51" fill="#262626" textLength="27.61" lengthAdjust="spacingAndGlyphs" transform="rotate(0.05 50.52 883.51)">0.20</text>
<text x="85.84" y="883.51" fill="#262626" textLength="27.61" lengthAdjust="spacingAndGlyphs" transform="rotate(0.05 85.84 883.51)">0.04</text>
<text x="121.17" y="883.51" fill="#262626" textLength="32.08" lengthAdjust="spacingAndGlyphs" transform="rotate(0.05 121.17 883.51)">-0.00</text>
<text x="156.50" y="883.51" fill="#262626" textLength="27.61" lengthAdjust="spacingAndGlyphs" transform="rotate(0.05 156.50 883.51)">0.45</text>
<text x="191.83" y="883.51" fill="#262626" textLength="32.08" lengthAdjust="spacingAndGlyphs" transform="rotate(0.05 191.83 883.51)">-0.21</text>
<text x="227.16" y="883.51" fill="#262626" textLength="27.61" lengthAdjust="spacingAndGlyphs" transform="rotate(0.05 227.16 883.51)">0.40</text>
<text x="262.50" y="883.51" fill="#262626" textLength="32.08" lengthAdjust="spacingAndGlyphs" transform="rotate(0.05 262.50 883.51)">-0.38</text>
<text x="297.82" y="883.51" fill="#262626" textLength="27.61" lengthAdjust="spacingAndGlyphs" transform="rotate(0.05 297.82 883.51)">0.34</text>
<text x="333.16" y="883.51" fill="#262626" textLength="32.08" lengthAdjust="spacingAndGlyphs" transform="rotate(0.05 333.16 883.51)">-0.30</text>
<text x="368.49" y="883.51" fill="#262626" textLength="27.61" lengthAdjust="spacingAndGlyphs" transform="rotate(0.05 368.49 883.51)">0.19</text>
<text x="403.81" y="883.51" fill="#262626" textLength="27.61" lengthAdjust="spacingAndGlyphs" transform="rotate(0.05 403.81 883.51)">0.50</text>
<text x="439.14" y="883.51" fill="#262626" textLength="32.08" lengthAdjust="spacingAndGlyphs" transform="rotate(0.05 439.14 883.51)">-0.29</text>
<text x="474.48" y="883.51" fill="#ffffff" textLength="27.61" lengthAdjust="spacingAndGlyphs" transform="rotate(0.05 474.48 883.51)">0.63</text>
<text x="509.81" y="883.51" fill="#262626" textLength="32.08" lengthAdjust="spacingAndGlyphs" transform="rotate(0.05 509.81 883.51)">-0.26</text>
<text x="545.13" y="883.51" fill="#ffffff" textLength="27.61" lengthAdjust="spacingAndGlyphs" transform="rotate(0.05 545.13 883.51)">0.57</text>
<text x="580.47" y="883.51" fill="#262626" textLength="32.08" lengthAdjust="spacingAndGlyphs" transform="rotate(0.05 580.47 883.51)">-0.40</text>
<text x="615.79" y="883.51" fill="#ffffff" textLength="27.61" lengthAdjust="spacingAndGlyphs" transform="rotate(0.05 615.79 883.51)">0.67</text>
<text x="651.12" y="883.51" fill="#262626" textLength="32.08" lengthAdjust="spacingAndGlyphs" transform="rotate(0.05 651.12 883.51)">-0.27</text>
<text x="686.46" y="883.51" fill="#262626" textLength="27.61" lengthAdjust="spacingAndGlyphs" transform="rotate(0.05 686.46 883.51)">0.29</text>
<text x="721.78" y="883.51" fill="#262626" textLength="27.61" lengthAdjust="spacingAndGlyphs" transform="rotate(0.05 721.78 883.51)">0.28</text>
<text x="757.12" y="883.51" fill="#262626" textLength="32.08" lengthAdjust="spacingAndGlyphs" transform="rotate(0.05 757.12 883.51)">-0.27</text>
<text x="792.44" y="883.51" fill="#262626" textLength="27.61" lengthAdjust="spacingAndGlyphs" transform="rotate(0.05 792.44 883.51)">0.41</text>
<text x="827.77" y="883.51" fill="#262626" textLength="32.08" lengthAdjust="spacingAndGlyphs" transform="rotate(0.05 827.77 883.51)">-0.08</text>
<text x="863.11" y="883.51" fill="#262626" textLength="27.61" lengthAdjust="spacingAndGlyphs" transform="rotate(0.05 863.11 883.51)">0.25</text>
<text x="898.43" y="883.51" fill="#ffffff" textLength="26.81" lengthAdjust="spacingAndGlyphs" transform="rotate(0.05 898.43 883.51)">1.00</text>
<text x="933.76" y="883.51" fill="#262626" textLength="27.61" lengthAdjust="spacingAndGlyphs" transform="rotate(0.05 933.76 883.51)">0.04</text>
<text x="969.10" y="883.51" fill="#ffffff" textLength="27.61" lengthAdjust="spacingAndGlyphs" transform="rotate(0.05 969.10 883.51)">0.59</text>
<text x="1004.42" y="883.51" fill="#262626" textLength="32.08" lengthAdjust="spacingAndGlyphs" transform="rotate(0.05 1004.42 883.51)">-0.36</text>
<text x="1039.75" y="883.51" fill="#262626" textLength="32.08" lengthAdjust="spacingAndGlyphs" transform="rotate(0.05 1039.75 883.51)">-0.26</text>
<text x="50.52" y="919.40" fill="#262626" textLength="32.08" lengthAdjust="spacingAndGlyphs" transform="rotate(0.05 50.52 919.40)">-0.27</text>
<text x="85.84" y="919.40" fill="#262626" textLength="32.08" lengthAdjust="spacingAndGlyphs" transform="rotate(0.05 85.84 919.40)">-0.07</text>
<text x="121.17" y="919.40" fill="#262626" textLength="32.08" lengthAdjust="spacingAndGlyphs" transform="rotate(0.05 121.17 919.40)">-0.24</text>
<text x="156.50" y="919.40" fill="#262626" textLength="32.08" lengthAdjust="spacingAndGlyphs" transform="rotate(0.05 156.50 919.40)">-0.09</text>
<text x="191.83" y="919.40" fill="#262626" textLength="27.61" lengthAdjust="spacingAndGlyphs" transform="rotate(0.05 191.83 919.40)">0.37</text>
<text x="227.16" y="919.40" fill="#262626" textLength="32.08" lengthAdjust="spacingAndGlyphs" transform="rotate(0.05 227.16 919.40)">-0.09</text>
<text x="262.50" y="919.40" fill="#262626" textLength="27.61" lengthAdjust="spacingAndGlyphs" transform="rotate(0.05 262.50 919.40)">0.13</text>
<text x="297.82" y="919.40" fill="#262626" textLength="32.08" lengthAdjust="spacingAndGlyphs" transform="rotate(0.05 297.82 919.40)">-0.13</text>
<text x="333.16" y="919.40" fill="#262626" textLength="27.61" lengthAdjust="spacingAndGlyphs" transform="rotate(0.05 333.16 919.40)">0.28</text>
<text x="368.49" y="919.40" fill="#262626" textLength="32.08" lengthAdjust="spacingAndGlyphs" transform="rotate(0.05 368.49 919.40)">-0.00</text>
<text x="403.81" y="919.40" fill="#262626" textLength="32.08" lengthAdjust="spacingAndGlyphs" transform="rotate(0.05 403.81 919.40)">-0.21</text>
<text x="439.14" y="919.40" fill="#262626" textLength="27.61" lengthAdjust="spacingAndGlyphs" transform="rotate(0.05 439.14 919.40)">0.31</text>
<text x="474.48" y="919.40" fill="#262626" textLength="32.08" lengthAdjust="spacingAndGlyphs" transform="rotate(0.05 474.48 919.40)">-0.21</text>
<text x="509.81" y="919.40" fill="#262626" textLength="27.61" lengthAdjust="spacingAndGlyphs" transform="rotate(0.05 509.81 919.40)">0.41</text>
<text x="545.13" y="919.40" fill="#262626" textLength="32.08" lengthAdjust="spacingAndGlyphs" transform="rotate(0.05 545.13 919.40)">-0.27</text>
<text x="580.47" y="919.40" fill="#262626" textLength="27.61" lengthAdjust="spacingAndGlyphs" transform="rotate(0.05 580.47 919.40)">0.44</text>
<text x="615.79" y="919.40" fill="#262626" textLength="32.08" lengthAdjust="spacingAndGlyphs" transform="rotate(0.05 615.79 919.40)">-0.18</text>
<text x="651.12" y="919.40" fill="#262626" textLength="27.61" lengthAdjust="spacingAndGlyphs" transform="rotate(0.05 651.12 919.40)">0.43</text>
<text x="686.46" y="919.40" fill="#262626" textLength="27.61" lengthAdjust="spacingAndGlyphs" transform="rotate(0.05 686.46 919.40)">0.10</text>
<text x="721.78" y="919.40" fill="#262626" textLength="27.61" lengthAdjust="spacingAndGlyphs" transform="rotate(0.05 721.78 919.40)">0.06</text>
<text x="757.12" y="919.40" fill="#262626" textLength="27.61" lengthAdjust="spacingAndGlyphs" transform="rotate(0.05 757.12 919.40)">0.40</text>
<text x="792.44" y="919.40" fill="#262626" textLength="32.08" lengthAdjust="spacingAndGlyphs" transform="rotate(0.05 792.44 919.40)">-0.16</text>
<text x="827.77" y="919.40" fill="#262626" textLength="27.61" lengthAdjust="spacingAndGlyphs" transform="rotate(0.05 827.77 919.40)">0.30</text>
<text x="863.11" y="919.40" fill="#262626" textLength="32.08" lengthAdjust="spacingAndGlyphs" transform="rotate(0.05 863.11 919.40)">-0.43</text>
<text x="898.43" y="919.40" fill="#262626" textLength="27.61" lengthAdjust="spacingAndGlyphs" transform="rotate(0.05 898.43 919.40)">0.04</text>
<text x="933.76" y="919.40" fill="#ffffff" textLength="26.81" lengthAdjust="spacingAndGlyphs" transform="rotate(0.05 933.76 919.40)">1.00</text>
<text x="969.10" y="919.40" fill="#262626" textLength="32.08" lengthAdjust="spacingAndGlyphs" transform="rotate(0.05 969.10 919.40)">-0.26</text>
<text x="1004.42" y="919.40" fill="#262626" textLength="27.61" lengthAdjust="spacingAndGlyphs" transform="rotate(0.05 1004.42 919.40)">0.47</text>
<text x="1039.75" y="919.40" fill="#262626" textLength="32.08" lengthAdjust="spacingAndGlyphs" transform="rotate(0.05 1039.75 919.40)">-0.08</text>
<text x="50.52" y="955.29" fill="#262626" textLength="27.61" lengthAdjust="spacingAndGlyphs" transform="rotate(0.05 50.52 955.29)">0.35</text>
<text x="85.84" y="955.29" fill="#262626" textLength="27.61" lengthAdjust="spacingAndGlyphs" transform="rotate(0.05 85.84 955.29)">0.11</text>
<text x="121.17" y="955.29" fill="#262626" textLength="27.61" lengthAdjust="spacingAndGlyphs" transform="rotate(0.05 121.17 955.29)">0.20</text>
<text x="156.50" y="955.29" fill="#262626" textLength="27.61" lengthAdjust="spacingAndGlyphs" transform="rotate(0.05 156.50 955.29)">0.45</text>
<text x="191.83" y="955.29" fill="#262626" textLength="32.08" lengthAdjust="spacingAndGlyphs" transform="rotate(0.05 191.83 955.29)">-0.35</text>
<text x="227.16" y="955.29" fill="#ffffff" textLength="27.61" lengthAdjust="spacingAndGlyphs" transform="rotate(0.05 227.16 955.29)">0.58</text>
<text x="262.50" y="955.29" fill="#262626" textLength="32.08" lengthAdjust="spacingAndGlyphs" transform="rotate(0.05 262.50 955.29)">-0.35</text>
<text x="297.82" y="955.29" fill="#262626" textLength="27.61" lengthAdjust="spacingAndGlyphs" transform="rotate(0.05 297.82 955.29)">0.41</text>
<text x="333.16" y="955.29" fill="#262626" textLength="32.08" lengthAdjust="spacingAndGlyphs" transform="rotate(0.05 333.16 955.29)">-0.39</text>
<text x="368.49" y="955.29" fill="#262626" textLength="27.61" lengthAdjust="spacingAndGlyphs" transform="rotate(0.05 368.49 955.29)">0.18</text>
<text x="403.81" y="955.29" fill="#ffffff" textLength="27.61" lengthAdjust="spacingAndGlyphs" transform="rotate(0.05 403.81 955.29)">0.58</text>
<text x="439.14" y="955.29" fill="#262626" textLength="32.08" lengthAdjust="spacingAndGlyphs" transform="rotate(0.05 439.14 955.29)">-0.30</text>
<text x="474.48" y="955.29" fill="#ffffff" textLength="27.61" lengthAdjust="spacingAndGlyphs" transform="rotate(0.05 474.48 955.29)">0.69</text>
<text x="509.81" y="955.29" fill="#262626" textLength="32.08" lengthAdjust="spacingAndGlyphs" transform="rotate(0.05 509.81 955.29)">-0.35</text>
<text x="545.13" y="955.29" fill="#ffffff" textLength="27.61" lengthAdjust="spacingAndGlyphs" transform="rotate(0.05 545.13 955.29)">0.70</text>
<text x="580.47" y="955.29" fill="#ffffff" textLength="32.08" lengthAdjust="spacingAndGlyphs" transform="rotate(0.05 580.47 955.29)">-0.55</text>
<text x="615.79" y="955.29" fill="#ffffff" textLength="27.61" lengthAdjust="spacingAndGlyphs" transform="rotate(0.05 615.79 955.29)">0.74</text>
<text x="651.12" y="955.29" fill="#262626" textLength="32.08" lengthAdjust="spacingAndGlyphs" transform="rotate(0.05 651.12 955.29)">-0.40</text>
<text x="686.46" y="955.29" fill="#262626" textLength="27.61" lengthAdjust="spacingAndGlyphs" transform="rotate(0.05 686.46 955.29)">0.12</text>
<text x="721.78" y="955.29" fill="#262626" textLength="27.61" lengthAdjust="spacingAndGlyphs" transform="rotate(0.05 721.78 955.29)">0.32</text>
<text x="757.12" y="955.29" fill="#262626" textLength="32.08" lengthAdjust="spacingAndGlyphs" transform="rotate(0.05 757.12 955.29)">-0.31</text>
<text x="792.44" y="955.29" fill="#ffffff" textLength="27.61" lengthAdjust="spacingAndGlyphs" transform="rotate(0.05 792.44 955.29)">0.53</text>
<text x="827.77" y="955.29" fill="#262626" textLength="32.08" lengthAdjust="spacingAndGlyphs" transform="rotate(0.05 827.77 955.29)">-0.20</text>
<text x="863.11" y="955.29" fill="#262626" textLength="27.61" lengthAdjust="spacingAndGlyphs" transform="rotate(0.05 863.11 955.29)">0.41</text>
<text x="898.43" y="955.29" fill="#ffffff" textLength="27.61" lengthAdjust="spacingAndGlyphs" transform="rotate(0.05 898.43 955.29)">0.59</text>
<text x="933.76" y="955.29" fill="#262626" textLength="32.08" lengthAdjust="spacingAndGlyphs" transform="rotate(0.05 933.76 955.29)">-0.26</text>
<text x="969.10" y="955.29" fill="#ffffff" textLength="26.81" lengthAdjust="spacingAndGlyphs" transform="rotate(0.05 969.10 955.29)">1.00</text>
<text x="1004.42" y="955.29" fill="#262626" textLength="32.08" lengthAdjust="spacingAndGlyphs" transform="rotate(0.05 1004.42 955.29)">-0.35</text>
<text x="1039.75" y="955.29" fill="#262626" textLength="32.08" lengthAdjust="spacingAndGlyphs" transform="rotate(0.05 1039.75 955.29)">-0.32</text>
<text x="50.52" y="991.18" fill="#262626" textLength="32.08" lengthAdjust="spacingAndGlyphs" transform="rotate(0.05 50.52 991.18)">-0.30</text>
<text x="85.84" y="991.18" fill="#262626" textLength="27.61" lengthAdjust="spacingAndGlyphs" transform="rotate(0.05 85.84 991.18)">0.01</text>
<text x="121.17" y="991.18" fill="#262626" textLength="32.08" lengthAdjust="spacingAndGlyphs" transform="rotate(0.05 121.17 991.18)">-0.21</text>
<text x="156.50" y="991.18" fill="#262626" textLength="32.08" lengthAdjust="spacingAndGlyphs" transform="rotate(0.05 156.50 991.18)">-0.34</text>
<text x="191.83" y="991.18" fill="#262626" textLength="27.61" lengthAdjust="spacingAndGlyphs" transform="rotate(0.05 191.83 991.18)">0.47</text>
<text x="227.16" y="991.18" fill="#262626" textLength="32.08" lengthAdjust="spacingAndGlyphs" transform="rotate(0.05 227.16 991.18)">-0.26</text>
<text x="262.50" y="991.18" fill="#262626" textLength="27.61" lengthAdjust="spacingAndGlyphs" transform="rotate(0.05 262.50 991.18)">0.50</text>
<text x="297.82" y="991.18" fill="#262626" textLength="32.08" lengthAdjust="spacingAndGlyphs" transform="rotate(0.05 297.82 991.18)">-0.27</text>
<text x="333.16" y="991.18" fill="#ffffff" textLength="27.61" lengthAdjust="spacingAndGlyphs" transform="rotate(0.05 333.16 991.18)">0.55</text>
<text x="368.49" y="991.18" fill="#262626" textLength="32.08" lengthAdjust="spacingAndGlyphs" transform="rotate(0.05 368.49 991.18)">-0.33</text>
<text x="403.81" y="991.18" fill="#262626" textLength="32.08" lengthAdjust="spacingAndGlyphs" transform="rotate(0.05 403.81 991.18)">-0.33</text>
<text x="439.14" y="991.18" fill="#262626" textLength="27.61" lengthAdjust="spacingAndGlyphs" transform="rotate(0.05 439.14 991.18)">0.41</text>
<text x="474.48" y="991.18" fill="#262626" textLength="32.08" lengthAdjust="spacingAndGlyphs" transform="rotate(0.05 474.48 991.18)">-0.38</text>
<text x="509.81" y="991.18" fill="#ffffff" textLength="27.61" lengthAdjust="spacingAndGlyphs" transform="rotate(0.05 509.81 991.18)">0.68</text>
<text x="545.13" y="991.18" fill="#262626" textLength="32.08" lengthAdjust="spacingAndGlyphs" transform="rotate(0.05 545.13 991.18)">-0.45</text>
<text x="580.47" y="991.18" fill="#ffffff" textLength="27.61" lengthAdjust="spacingAndGlyphs" transform="rotate(0.05 580.47 991.18)">0.69</text>
<text x="615.79" y="991.18" fill="#262626" textLength="32.08" lengthAdjust="spacingAndGlyphs" transform="rotate(0.05 615.79 991.18)">-0.41</text>
<text x="651.12" y="991.18" fill="#ffffff" textLength="27.61" lengthAdjust="spacingAndGlyphs" transform="rotate(0.05 651.12 991.18)">0.66</text>
<text x="686.46" y="991.18" fill="#262626" textLength="27.61" lengthAdjust="spacingAndGlyphs" transform="rotate(0.05 686.46 991.18)">0.25</text>
<text x="721.78" y="991.18" fill="#262626" textLength="27.61" lengthAdjust="spacingAndGlyphs" transform="rotate(0.05 721.78 991.18)">0.15</text>
<text x="757.12" y="991.18" fill="#ffffff" textLength="27.61" lengthAdjust="spacingAndGlyphs" transform="rotate(0.05 757.12 991.18)">0.65</text>
<text x="792.44" y="991.18" fill="#262626" textLength="32.08" lengthAdjust="spacingAndGlyphs" transform="rotate(0.05 792.44 991.18)">-0.26</text>
<text x="827.77" y="991.18" fill="#ffffff" textLength="27.61" lengthAdjust="spacingAndGlyphs" transform="rotate(0.05 827.77 991.18)">0.59</text>
<text x="863.11" y="991.18" fill="#ffffff" textLength="32.08" lengthAdjust="spacingAndGlyphs" transform="rotate(0.05 863.11 991.18)">-0.59</text>
<text x="898.43" y="991.18" fill="#262626" textLength="32.08" lengthAdjust="spacingAndGlyphs" transform="rotate(0.05 898.43 991.18)">-0.36</text>
<text x="933.76" y="991.18" fill="#262626" textLength="27.61" lengthAdjust="spacingAndGlyphs" transform="rotate(0.05 933.76 991.18)">0.47</text>
<text x="969.10" y="991.18" fill="#262626" textLength="32.08" lengthAdjust="spacingAndGlyphs" transform="rotate(0.05 969.10 991.18)">-0.35</text>
<text x="1004.42" y="991.18" fill="#ffffff" textLength="26.81" lengthAdjust="spacingAndGlyphs" transform="rotate(0.05 1004.42 991.18)">1.00</text>
<text x="1039.75" y="991.18" fill="#262626" textLength="32.08" lengthAdjust="spacingAndGlyphs" transform="rotate(0.05 1039.75 991.18)">-0.20</text>
<text x="50.52" y="1027.07" fill="#262626" textLength="27.61" lengthAdjust="spacingAndGlyphs" transform="rotate(0.05 50.52 1027.07)">0.02</text>
<text x="85.84" y="1027.07" fill="#262626" textLength="27.61" lengthAdjust="spacingAndGlyphs" transform="rotate(0.05 85.84 1027.07)">0.06</text>
<text x="121.17" y="1027.07" fill="#262626" textLength="27.61" lengthAdjust="spacingAndGlyphs" transform="rotate(0.05 121.17 1027.07)">0.09</text>
<text x="156.50" y="1027.07" fill="#262626" textLength="32.08" lengthAdjust="spacingAndGlyphs" transform="rotate(0.05 156.50 1027.07)">-0.32</text>
<text x="191.83" y="1027.07" fill="#262626" textLength="27.61" lengthAdjust="spacingAndGlyphs" transform="rotate(0.05 191.83 1027.07)">0.07</text>
<text x="227.16" y="1027.07" fill="#262626" textLength="32.08" lengthAdjust="spacingAndGlyphs" transform="rotate(0.05 227.16 1027.07)">-0.19</text>
<text x="262.50" y="1027.07" fill="#262626" textLength="27.61" lengthAdjust="spacingAndGlyphs" transform="rotate(0.05 262.50 1027.07)">0.11</text>
<text x="297.82" y="1027.07" fill="#262626" textLength="32.08" lengthAdjust="spacingAndGlyphs" transform="rotate(0.05 297.82 1027.07)">-0.34</text>
<text x="333.16" y="1027.07" fill="#262626" textLength="32.08" lengthAdjust="spacingAndGlyphs" transform="rotate(0.05 333.16 1027.07)">-0.22</text>
<text x="368.49" y="1027.07" fill="#262626" textLength="27.61" lengthAdjust="spacingAndGlyphs" transform="rotate(0.05 368.49 1027.07)">0.07</text>
<text x="403.81" y="1027.07" fill="#262626" textLength="32.08" lengthAdjust="spacingAndGlyphs" transform="rotate(0.05 403.81 1027.07)">-0.21</text>
<text x="439.14" y="1027.07" fill="#262626" textLength="32.08" lengthAdjust="spacingAndGlyphs" transform="rotate(0.05 439.14 1027.07)">-0.06</text>
<text x="474.48" y="1027.07" fill="#262626" textLength="32.08" lengthAdjust="spacingAndGlyphs" transform="rotate(0.05 474.48 1027.07)">-0.23</text>
<text x="509.81" y="1027.07" fill="#262626" textLength="32.08" lengthAdjust="spacingAndGlyphs" transform="rotate(0.05 509.81 1027.07)">-0.11</text>
<text x="545.13" y="1027.07" fill="#262626" textLength="32.08" lengthAdjust="spacingAndGlyphs" transform="rotate(0.05 545.13 1027.07)">-0.44</text>
<text x="580.47" y="1027.07" fill="#262626" textLength="32.08" lengthAdjust="spacingAndGlyphs" transform="rotate(0.05 580.47 1027.07)">-0.08</text>
<text x="615.79" y="1027.07" fill="#262626" textLength="32.08" lengthAdjust="spacingAndGlyphs" transform="rotate(0.05 615.79 1027.07)">-0.31</text>
<text x="651.12" y="1027.07" fill="#262626" textLength="32.08" lengthAdjust="spacingAndGlyphs" transform="rotate(0.05 651.12 1027.07)">-0.06</text>
<text x="686.46" y="1027.07" fill="#262626" textLength="32.08" lengthAdjust="spacingAndGlyphs" transform="rotate(0.05 686.46 1027.07)">-0.37</text>
<text x="721.78" y="1027.07" fill="#262626" textLength="32.08" lengthAdjust="spacingAndGlyphs" transform="rotate(0.05 721.78 1027.07)">-0.26</text>
<text x="757.12" y="1027.07" fill="#262626" textLength="32.08" lengthAdjust="spacingAndGlyphs" transform="rotate(0.05 757.12 1027.07)">-0.04</text>
<text x="792.44" y="1027.07" fill="#262626" textLength="32.08" lengthAdjust="spacingAndGlyphs" transform="rotate(0.05 792.44 1027.07)">-0.35</text>
<text x="827.77" y="1027.07" fill="#262626" textLength="32.08" lengthAdjust="spacingAndGlyphs" transform="rotate(0.05 827.77 1027.07)">-0.19</text>
<text x="863.11" y="1027.07" fill="#262626" textLength="27.61" lengthAdjust="spacingAndGlyphs" transform="rotate(0.05 863.11 1027.07)">0.03</text>
<text x="898.43" y="1027.07" fill="#262626" textLength="32.08" lengthAdjust="spacingAndGlyphs" transform="rotate(0.05 898.43 1027.07)">-0.26</text>
<text x="933.76" y="1027.07" fill="#262626" textLength="32.08" lengthAdjust="spacingAndGlyphs" transform="rotate(0.05 933.76 1027.07)">-0.08</text>
<text x="969.10" y="1027.07" fill="#262626" textLength="32.08" lengthAdjust="spacingAndGlyphs" transform="rotate(0.05 969.10 1027.07)">-0.32</text>
<text x="1004.42" y="1027.07" fill="#262626" textLength="32.08" lengthAdjust="spacingAndGlyphs" transform="rotate(0.05 1004.42 1027.07)">-0.20</text>
<text x="1039.75" y="1027.07" fill="#ffffff" textLength="26.81" lengthAdjust="spacingAndGlyphs" transform="rotate(0.05 1039.75 1027.07)">1.00</text>
</g>
<g stroke="#000" stroke-width="0.9">
<line x1="29.75" y1="18.45" x2="32.85" y2="18.45"/>
<line x1="29.75" y1="54.34" x2="32.85" y2="54.34"/>
<line x1="29.75" y1="90.22" x2="32.85" y2="90.22"/>
<line x1="29.75" y1="126.12" x2="32.85" y2="126.12"/>
<line x1="29.75" y1="162.00" x2="32.85" y2="162.00"/>
<line x1="29.75" y1="197.90" x2="32.85" y2="197.90"/>
<line x1="29.75" y1="233.78" x2="32.85" y2="233.78"/>
<line x1="29.75" y1="269.68" x2="32.85" y2="269.68"/>
<line x1="29.75" y1="305.56" x2="32.85" y2="305.56"/>
<line x1="29.75" y1="341.45" x2="32.85" y2="341.45"/>
<line x1="29.75" y1="377.35" x2="32.85" y2="377.35"/>
<line x1="29.75" y1="413.24" x2="32.85" y2="413.24"/>
<line x1="29.75" y1="449.12" x2="32.85" y2="449.12"/>
<line x1="29.75" y1="485.01" x2="32.85" y2="485.01"/>
<line x1="29.75" y1="520.90" x2="32.85" y2="520.90"/>
<line x1="29.75" y1="556.79" x2="32.85" y2="556.79"/>
<line x1="29.75" y1="592.69" x2="32.85" y2="592.69"/>
<line x1="29.75" y1="628.58" x2="32.85" y2="628.58"/>
<line x1="29.75" y1="664.47" x2="32.85" y2="664.47"/>
<line x1="29.75" y1="700.36" x2="32.85" y2="700.36"/>
<line x1="29.75" y1="736.25" x2="32.85" y2="736.25"/>
<line x1="29.75" y1="772.13" x2="32.85" y2="772.13"/>
<line x1="29.75" y1="808.02" x2="32.85" y2="808.02"/>
<line x1="29.75" y1="843.91" x2="32.85" y2="843.91"/>
<line x1="29.75" y1="879.81" x2="32.85" y2="879.81"/>
<line x1="29.75" y1="915.70" x2="32.85" y2="915.70"/>
<line x1="29.75" y1="951.59" x2="32.85" y2="951.59"/>
<line x1="29.75" y1="987.48" x2="32.85" y2="987.48"/>
<line x1="29.75" y1="1023.37" x2="32.85" y2="1023.37"/>
<line x1="50.52" y1="1041.31" x2="50.52" y2="1044.41"/>
<line x1="85.84" y1="1041.31" x2="85.84" y2="1044.41"/>
<line x1="121.17" y1="1041.31" x2="121.17" y2="1044.41"/>
<line x1="156.50" y1="1041.31" x2="156.50" y2="1044.41"/>
<line x1="191.83" y1="1041.31" x2="191.83" y2="1044.41"/>
<line x1="227.16" y1="1041.31" x2="227.16" y2="1044.41"/>
<line x1="262.50" y1="1041.31" x2="262.50" y2="1044.41"/>
<line x1="297.82" y1="1041.31" x2="297.82" y2="1044.41"/>
<line x1="333.16" y1="1041.31" x2="333.16" y2="1044.41"/>
<line x1="368.49" y1="1041.31" x2="368.49" y2="1044.41"/>
<line x1="403.81" y1="1041.31" x2="403.81" y2="1044.41"/>
<line x1="439.14" y1="1041.31" x2="439.14" y2="1044.41"/>
<line x1="474.48" y1="1041.31" x2="474.48" y2="1044.41"/>
<line x1="509.81" y1="1041.31" x2="509.81" y2="1044.41"/>
<line x1="545.13" y1="1041.31" x2="545.13" y2="1044.41"/>
<line x1="580.47" y1="1041.31" x2="580.47" y2="1044.41"/>
<line x1="615.79" y1="1041.31" x2="615.79" y2="1044.41"/>
<line x1="651.12" y1="1041.31" x2="651.12" y2="1044.41"/>
<line x1="686.46" y1="1041.31" x2="686.46" y2="1044.41"/>
<line x1="721.78" y1="1041.31" x2="721.78" y2="1044.41"/>
<line x1="757.12" y1="1041.31" x2="757.12" y2="1044.41"/>
<line x1="792.44" y1="1041.31" x2="792.44" y2="1044.41"/>
<line x1="827.77" y1="1041.31" x2="827.77" y2="1044.41"/>
<line x1="863.11" y1="1041.31" x2="863.11" y2="1044.41"/>
<line x1="898.43" y1="1041.31" x2="898.43" y2="1044.41"/>
<line x1="933.76" y1="1041.31" x2="933.76" y2="1044.41"/>
<line x1="969.10" y1="1041.31" x2="969.10" y2="1044.41"/>
<line x1="1004.42" y1="1041.31" x2="1004.42" y2="1044.41"/>
<line x1="1039.75" y1="1041.31" x2="1039.75" y2="1044.41"/>
</g>
<g font-family="Liberation Sans" font-size="7.9" fill="#000" text-anchor="end">
<text x="26.65" y="20.34" textLength="13.79" lengthAdjust="spacingAndGlyphs" transform="rotate(0.05 26.65 20.34)">AGE</text>
<text x="26.65" y="56.23" textLength="14.21" lengthAdjust="spacingAndGlyphs" transform="rotate(0.05 26.65 56.23)">GEN</text>
<text x="26.65" y="92.12" textLength="12.16" lengthAdjust="spacingAndGlyphs" transform="rotate(0.05 26.65 92.12)">BMI</text>
<text x="26.65" y="128.02" textLength="19.88" lengthAdjust="spacingAndGlyphs" transform="rotate(0.05 26.65 128.02)">SFT_R</text>
<text x="26.65" y="163.91" textLength="18.98" lengthAdjust="spacingAndGlyphs" transform="rotate(0.05 26.65 163.91)">SFT_L</text>
<text x="26.65" y="199.80" textLength="21.83" lengthAdjust="spacingAndGlyphs" transform="rotate(0.05 26.65 199.80)">SIFT_R</text>
<text x="26.65" y="235.69" textLength="20.92" lengthAdjust="spacingAndGlyphs" transform="rotate(0.05 26.65 235.69)">SIFT_L</text>
<text x="26.65" y="271.57" textLength="22.17" lengthAdjust="spacingAndGlyphs" transform="rotate(0.05 26.65 271.57)">PSIS_R</text>
<text x="26.65" y="307.46" textLength="21.26" lengthAdjust="spacingAndGlyphs" transform="rotate(0.05 26.65 307.46)">PSIS_L</text>
<text x="26.65" y="343.35" textLength="15.62" lengthAdjust="spacingAndGlyphs" transform="rotate(0.05 26.65 343.35)">IPAQ</text>
<text x="26.65" y="379.25" textLength="19.97" lengthAdjust="spacingAndGlyphs" transform="rotate(0.05 26.65 379.25)">PKF_R</text>
<text x="26.65" y="415.13" textLength="19.06" lengthAdjust="spacingAndGlyphs" transform="rotate(0.05 26.65 415.13)">PKF_L</text>
<text x="26.65" y="451.02" textLength="26.05" lengthAdjust="spacingAndGlyphs" transform="rotate(0.05 26.65 451.02)">SuLSI_R</text>
<text x="26.65" y="486.91" textLength="25.14" lengthAdjust="spacingAndGlyphs" transform="rotate(0.05 26.65 486.91)">SuLSI_L</text>
<text x="26.65" y="522.80" textLength="20.27" lengthAdjust="spacingAndGlyphs" transform="rotate(0.05 26.65 522.80)">ShT_R</text>
<text x="26.65" y="558.69" textLength="19.36" lengthAdjust="spacingAndGlyphs" transform="rotate(0.05 26.65 558.69)">ShT_L</text>
<text x="26.65" y="594.59" textLength="17.02" lengthAdjust="spacingAndGlyphs" transform="rotate(0.05 26.65 594.59)">GT_R</text>
<text x="26.65" y="630.48" textLength="20.69" lengthAdjust="spacingAndGlyphs" transform="rotate(0.05 26.65 630.48)">GT_RL</text>
<text x="26.65" y="666.37" textLength="7.47" lengthAdjust="spacingAndGlyphs" transform="rotate(0.05 26.65 666.37)">LF</text>
<text x="26.65" y="702.25" textLength="7.84" lengthAdjust="spacingAndGlyphs" transform="rotate(0.05 26.65 702.25)">LE</text>
<text x="26.65" y="738.14" textLength="19.02" lengthAdjust="spacingAndGlyphs" transform="rotate(0.05 26.65 738.14)">LLF_R</text>
<text x="26.65" y="774.03" textLength="18.11" lengthAdjust="spacingAndGlyphs" transform="rotate(0.05 26.65 774.03)">LLF_L</text>
<text x="26.65" y="809.92" textLength="16.49" lengthAdjust="spacingAndGlyphs" transform="rotate(0.05 26.65 809.92)">TR_R</text>
<text x="26.65" y="845.81" textLength="15.58" lengthAdjust="spacingAndGlyphs" transform="rotate(0.05 26.65 845.81)">TR_L</text>
<text x="26.65" y="881.71" textLength="19.36" lengthAdjust="spacingAndGlyphs" transform="rotate(0.05 26.65 881.71)">HIR_R</text>
<text x="26.65" y="917.60" textLength="18.45" lengthAdjust="spacingAndGlyphs" transform="rotate(0.05 26.65 917.60)">HIR_L</text>
<text x="26.65" y="953.49" textLength="21.58" lengthAdjust="spacingAndGlyphs" transform="rotate(0.05 26.65 953.49)">HER_R</text>
<text x="26.65" y="989.38" textLength="20.68" lengthAdjust="spacingAndGlyphs" transform="rotate(0.05 26.65 989.38)">HER_L</text>
<text x="26.65" y="1025.27" textLength="22.25" lengthAdjust="spacingAndGlyphs" transform="rotate(0.05 26.65 1025.27)">PAsym</text>
<text transform="translate(49.47,1051.32) rotate(-45)" textLength="14.08" lengthAdjust="spacingAndGlyphs">AGE</text>
<text transform="translate(84.80,1051.32) rotate(-45)" textLength="14.51" lengthAdjust="spacingAndGlyphs">GEN</text>
<text transform="translate(120.13,1051.32) rotate(-45)" textLength="12.42" lengthAdjust="spacingAndGlyphs">BMI</text>
<text transform="translate(155.46,1051.32) rotate(-45)" textLength="20.31" lengthAdjust="spacingAndGlyphs">SFT_R</text>
<text transform="translate(190.79,1051.32) rotate(-45)" textLength="19.38" lengthAdjust="spacingAndGlyphs">SFT_L</text>
<text transform="translate(226.12,1051.32) rotate(-45)" textLength="22.30" lengthAdjust="spacingAndGlyphs">SIFT_R</text>
<text transform="translate(261.45,1051.32) rotate(-45)" textLength="21.37" lengthAdjust="spacingAndGlyphs">SIFT_L</text>
<text transform="translate(296.78,1051.32) rotate(-45)" textLength="22.65" lengthAdjust="spacingAndGlyphs">PSIS_R</text>
<text transform="translate(332.11,1051.32) rotate(-45)" textLength="21.72" lengthAdjust="spacingAndGlyphs">PSIS_L</text>
<text transform="translate(367.44,1051.32) rotate(-45)" textLength="15.96" lengthAdjust="spacingAndGlyphs">IPAQ</text>
<text transform="translate(402.77,1051.32) rotate(-45)" textLength="20.40" lengthAdjust="spacingAndGlyphs">PKF_R</text>
<text transform="translate(438.10,1051.32) rotate(-45)" textLength="19.47" lengthAdjust="spacingAndGlyphs">PKF_L</text>
<text transform="translate(473.43,1051.32) rotate(-45)" textLength="26.61" lengthAdjust="spacingAndGlyphs">SuLSI_R</text>
<text transform="translate(508.76,1051.32) rotate(-45)" textLength="25.68" lengthAdjust="spacingAndGlyphs">SuLSI_L</text>
<text transform="translate(544.09,1051.32) rotate(-45)" textLength="20.71" lengthAdjust="spacingAndGlyphs">ShT_R</text>
<text transform="translate(579.42,1051.32) rotate(-45)" textLength="19.78" lengthAdjust="spacingAndGlyphs">ShT_L</text>
<text transform="translate(614.75,1051.32) rotate(-45)" textLength="17.38" lengthAdjust="spacingAndGlyphs">GT_R</text>
<text transform="translate(650.08,1051.32) rotate(-45)" textLength="21.13" lengthAdjust="spacingAndGlyphs">GT_RL</text>
<text transform="translate(685.41,1051.32) rotate(-45)" textLength="7.63" lengthAdjust="spacingAndGlyphs">LF</text>
<text transform="translate(720.74,1051.32) rotate(-45)" textLength="8.01" lengthAdjust="spacingAndGlyphs">LE</text>
<text transform="translate(756.07,1051.32) rotate(-45)" textLength="19.43" lengthAdjust="spacingAndGlyphs">LLF_R</text>
<text transform="translate(791.40,1051.32) rotate(-45)" textLength="18.50" lengthAdjust="spacingAndGlyphs">LLF_L</text>
<text transform="translate(826.73,1051.32) rotate(-45)" textLength="16.84" lengthAdjust="spacingAndGlyphs">TR_R</text>
<text transform="translate(862.06,1051.32) rotate(-45)" textLength="15.91" lengthAdjust="spacingAndGlyphs">TR_L</text>
<text transform="translate(897.39,1051.32) rotate(-45)" textLength="19.78" lengthAdjust="spacingAndGlyphs">HIR_R</text>
<text transform="translate(932.72,1051.32) rotate(-45)" textLength="18.85" lengthAdjust="spacingAndGlyphs">HIR_L</text>
<text transform="translate(968.05,1051.32) rotate(-45)" textLength="22.05" lengthAdjust="spacingAndGlyphs">HER_R</text>
<text transform="translate(1003.38,1051.32) rotate(-45)" textLength="21.12" lengthAdjust="spacingAndGlyphs">HER_L</text>
<text transform="translate(1038.71,1051.32) rotate(-45)" textLength="22.73" lengthAdjust="spacingAndGlyphs">PAsym</text>
</g>
<defs><linearGradient id="cb" x1="0" y1="1" x2="0" y2="0">
<stop offset="0.0000" stop-color="#3b4cc0"/>
<stop offset="0.0078" stop-color="#3d50c3"/>
<stop offset="0.0156" stop-color="#3f53c6"/>
<stop offset="0.0234" stop-color="#4257c9"/>
<stop offset="0.0312" stop-color="#445acc"/>
<stop offset="0.0391" stop-color="#465ecf"/>
<stop offset="0.0469" stop-color="#4961d2"/>
<stop offset="0.0547" stop-color="#4b64d5"/>
<stop offset="0.0625" stop-color="#4e68d8"/>
<stop offset="0.0703" stop-color="#506bda"/>
<stop offset="0.0781" stop-color="#536edd"/>
<stop offset="0.0859" stop-color="#5572df"/>
<stop offset="0.0938" stop-color="#5875e1"/>
<stop offset="0.1016" stop-color="#5a78e4"/>
<stop offset="0.1094" stop-color="#5d7ce6"/>
<stop offset="0.1172" stop-color="#5f7fe8"/>
<stop offset="0.1250" stop-color="#6282ea"/>
<stop offset="0.1328" stop-color="#6485ec"/>
<stop offset="0.1406" stop-color="#6788ee"/>
<stop offset="0.1484" stop-color="#6a8bef"/>
<stop offset="0.1562" stop-color="#6c8ff1"/>
<stop offset="0.1641" stop-color="#6f92f3"/>
<stop offset="0.1719" stop-color="#7295f4"/>
<stop offset="0.1797" stop-color="#7597f6"/>
<stop offset="0.1875" stop-color="#779af7"/>
<stop offset="0.1953" stop-color="#7a9df8"/>
<stop offset="0.2031" stop-color="#7da0f9"/>
<stop offset="0.2109" stop-color="#80a3fa"/>
<stop offset="0.2188" stop-color="#82a6fb"/>
<stop offset="0.2266" stop-color="#85a8fc"/>
<stop offset="0.2344" stop-color="#88abfd"/>
<stop offset="0.2422" stop-color="#8badfd"/>
<stop offset="0.2500" stop-color="#8db0fe"/>
<stop offset="0.2578" stop-color="#90b2fe"/>
<stop offset="0.2656" stop-color="#93b5fe"/>
<stop offset="0.2734" stop-color="#96b7ff"/>
<stop offset="0.2812" stop-color="#98b9ff"/>
<stop offset="0.2891" stop-color="#9bbcff"/>
<stop offset="0.2969" stop-color="#9ebeff"/>
<stop offset="0.3047" stop-color="#a1c0ff"/>
<stop offset="0.3125" stop-color="#a3c2fe"/>
<stop offset="0.3203" stop-color="#a6c4fe"/>
<stop offset="0.3281" stop-color="#a9c6fd"/>
<stop offset="0.3359" stop-color="#abc8fd"/>
<stop offset="0.3438" stop-color="#aec9fc"/>
<stop offset="0.3516" stop-color="#b1cbfc"/>
<stop offset="0.3594" stop-color="#b3cdfb"/>
<stop offset="0.3672" stop-color="#b6cefa"/>
<stop offset="0.3750" stop-color="#b9d0f9"/>
<stop offset="0.3828" stop-color="#bbd1f8"/>
<stop offset="0.3906" stop-color="#bed2f6"/>
<stop offset="0.3984" stop-color="#c0d4f5"/>
<stop offset="0.4062" stop-color="#c3d5f4"/>
<stop offset="0.4141" stop-color="#c5d6f2"/>
<stop offset="0.4219" stop-color="#c7d7f0"/>
<stop offset="0.4297" stop-color="#cad8ef"/>
<stop offset="0.4375" stop-color="#ccd9ed"/>
<stop offset="0.4453" stop-color="#cedaeb"/>
<stop offset="0.4531" stop-color="#d1dae9"/>
<stop offset="0.4609" stop-color="#d3dbe7"/>
<stop offset="0.4688" stop-color="#d5dbe5"/>
<stop offset="0.4766" stop-color="#d7dce3"/>
<stop offset="0.4844" stop-color="#d9dce1"/>
<stop offset="0.4922" stop-color="#dbdcde"/>
<stop offset="0.5000" stop-color="#dddcdc"/>
<stop offset="0.5078" stop-color="#dfdbd9"/>
<stop offset="0.5156" stop-color="#e1dad6"/>
<stop offset="0.5234" stop-color="#e3d9d3"/>
<stop offset="0.5312" stop-color="#e5d8d1"/>
<stop offset="0.5391" stop-color="#e7d7ce"/>
<stop offset="0.5469" stop-color="#e9d5cb"/>
<stop offset="0.5547" stop-color="#ead4c8"/>
<stop offset="0.5625" stop-color="#ecd3c5"/>
<stop offset="0.5703" stop-color="#edd1c2"/>
<stop offset="0.5781" stop-color="#efcfbf"/>
<stop offset="0.5859" stop-color="#f0cdbb"/>
<stop offset="0.5938" stop-color="#f1ccb8"/>
<stop offset="0.6016" stop-color="#f2cab5"/>
<stop offset="0.6094" stop-color="#f3c8b2"/>
<stop offset="0.6172" stop-color="#f4c6af"/>
<stop offset="0.6250" stop-color="#f5c4ac"/>
<stop offset="0.6328" stop-color="#f5c1a9"/>
<stop offset="0.6406" stop-color="#f6bfa6"/>
<stop offset="0.6484" stop-color="#f6bda2"/>
<stop offset="0.6562" stop-color="#f7ba9f"/>
<stop offset="0.6641" stop-color="#f7b89c"/>
<stop offset="0.6719" stop-color="#f7b599"/>
<stop offset="0.6797" stop-color="#f7b396"/>
<stop offset="0.6875" stop-color="#f7b093"/>
<stop offset="0.6953" stop-color="#f7ad90"/>
<stop offset="0.7031" stop-color="#f7aa8c"/>
<stop offset="0.7109" stop-color="#f7a889"/>
<stop offset="0.7188" stop-color="#f6a586"/>
<stop offset="0.7266" stop-color="#f6a283"/>
<stop offset="0.7344" stop-color="#f59f80"/>
<stop offset="0.7422" stop-color="#f59c7d"/>
<stop offset="0.7500" stop-color="#f4987a"/>
<stop offset="0.7578" stop-color="#f39577"/>
<stop offset="0.7656" stop-color="#f29274"/>
<stop offset="0.7734" stop-color="#f18f71"/>
<stop offset="0.7812" stop-color="#f08b6e"/>
<stop offset="0.7891" stop-color="#ef886b"/>
<stop offset="0.7969" stop-color="#ee8468"/>
<stop offset="0.8047" stop-color="#ec8165"/>
<stop offset="0.8125" stop-color="#eb7d62"/>
<stop offset="0.8203" stop-color="#e97a5f"/>
<stop offset="0.8281" stop-color="#e8765c"/>
<stop offset="0.8359" stop-color="#e67259"/>
<stop offset="0.8438" stop-color="#e46e56"/>
<stop offset="0.8516" stop-color="#e36b54"/>
<stop offset="0.8594" stop-color="#e16751"/>
<stop offset="0.8672" stop-color="#df634e"/>
<stop offset="0.8750" stop-color="#dd5f4b"/>
<stop offset="0.8828" stop-color="#da5a49"/>
<stop offset="0.8906" stop-color="#d85646"/>
<stop offset="0.8984" stop-color="#d65244"/>
<stop offset="0.9062" stop-color="#d44e41"/>
<stop offset="0.9141" stop-color="#d1493f"/>
<stop offset="0.9219" stop-color="#cf453c"/>
<stop offset="0.9297" stop-color="#cc403a"/>
<stop offset="0.9375" stop-color="#ca3b37"/>
<stop offset="0.9453" stop-color="#c73635"/>
<stop offset="0.9531" stop-color="#c43032"/>
<stop offset="0.9609" stop-color="#c12b30"/>
<stop offset="0.9688" stop-color="#be242e"/>
<stop offset="0.9766" stop-color="#bb1b2c"/>
<stop offset="0.9844" stop-color="#b8122a"/>
<stop offset="0.9922" stop-color="#b50927"/>
<stop offset="1.0000" stop-color="#b40426"/>
</linearGradient></defs>
<rect x="1121.8" y="52.7" width="46.10" height="936.50" fill="url(#cb)"/>
<g stroke="#000" stroke-width="0.9">
<line x1="1167.90" y1="52.70" x2="1171.00" y2="52.70"/>
<line x1="1167.90" y1="169.76" x2="1171.00" y2="169.76"/>
<line x1="1167.90" y1="286.82" x2="1171.00" y2="286.82"/>
<line x1="1167.90" y1="403.89" x2="1171.00" y2="403.89"/>
<line x1="1167.90" y1="520.95" x2="1171.00" y2="520.95"/>
<line x1="1167.90" y1="638.01" x2="1171.00" y2="638.01"/>
<line x1="1167.90" y1="755.08" x2="1171.00" y2="755.08"/>
<line x1="1167.90" y1="872.14" x2="1171.00" y2="872.14"/>
<line x1="1167.90" y1="989.20" x2="1171.00" y2="989.20"/>
</g>
<g font-family="Liberation Sans" font-size="8.9" fill="#000">
<text x="1174.70" y="56.07" textLength="18.35" lengthAdjust="spacingAndGlyphs" transform="rotate(0.05 1174.70 56.07)">1.00</text>
<text x="1174.70" y="173.13" textLength="18.35" lengthAdjust="spacingAndGlyphs" transform="rotate(0.05 1174.70 173.13)">0.75</text>
<text x="1174.70" y="290.19" textLength="18.35" lengthAdjust="spacingAndGlyphs" transform="rotate(0.05 1174.70 290.19)">0.50</text>
<text x="1174.70" y="407.25" textLength="18.35" lengthAdjust="spacingAndGlyphs" transform="rotate(0.05 1174.70 407.25)">0.25</text>
<text x="1174.70" y="524.32" textLength="18.35" lengthAdjust="spacingAndGlyphs" transform="rotate(0.05 1174.70 524.32)">0.00</text>
<text x="1174.70" y="641.38" textLength="25.25" lengthAdjust="spacingAndGlyphs" transform="rotate(0.05 1174.70 641.38)">−0.25</text>
<text x="1174.70" y="758.44" textLength="25.25" lengthAdjust="spacingAndGlyphs" transform="rotate(0.05 1174.70 758.44)">−0.50</text>
<text x="1174.70" y="875.50" textLength="25.25" lengthAdjust="spacingAndGlyphs" transform="rotate(0.05 1174.70 875.50)">−0.75</text>
<text x="1174.70" y="992.57" textLength="25.25" lengthAdjust="spacingAndGlyphs" transform="rotate(0.05 1174.70 992.57)">−1.00</text>
</g>
</svg>
</div></body></html>
